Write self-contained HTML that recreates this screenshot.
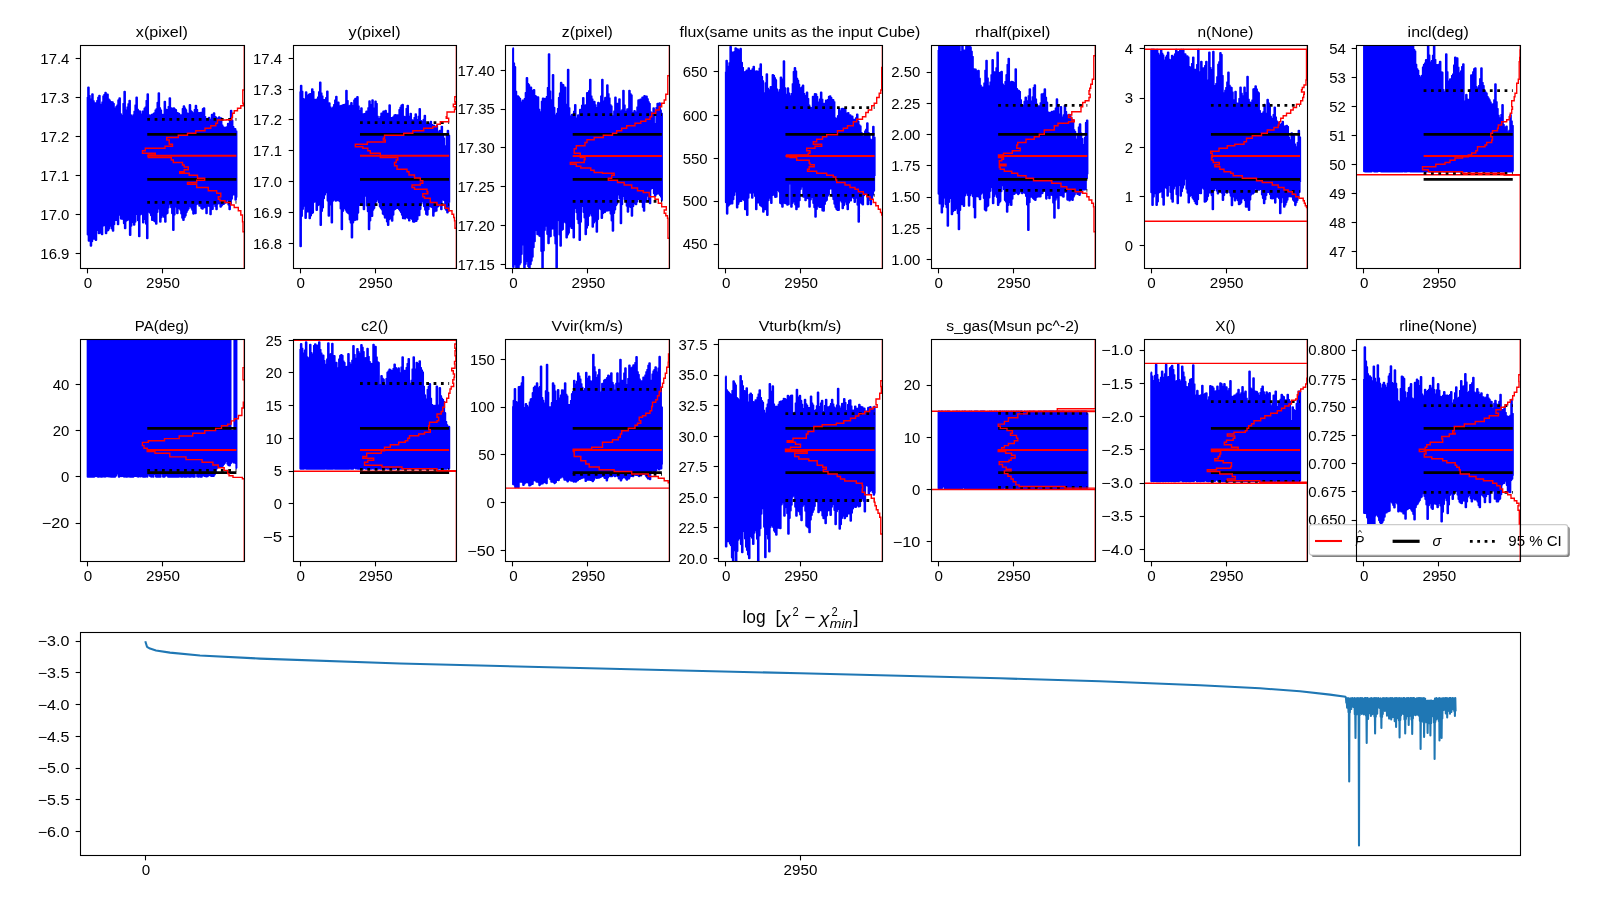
<!DOCTYPE html>
<html><head><meta charset="utf-8"><title>MCMC chains</title>
<style>html,body{margin:0;padding:0;background:#fff;}svg{display:block;will-change:transform;}</style></head>
<body>
<svg width="1600" height="900" viewBox="0 0 1600 900" font-family="'Liberation Sans', sans-serif" fill="#000">
<rect width="1600" height="900" fill="#fff"/>
<clipPath id="c0"><rect x="80.5" y="45.5" width="164.0" height="223.0"/></clipPath>
<g clip-path="url(#c0)">
<path d="M87.2,97.0 87.7,97.0 87.7,234.4 88.2,234.4 88.2,87.5 88.7,87.5 88.7,240.7 89.2,240.7 89.2,95.9 89.7,95.9 89.7,240.3 90.2,240.3 90.2,99.3 90.7,99.3 90.7,245.8 91.2,245.8 91.2,99.2 91.7,99.2 91.7,241.3 92.2,241.3 92.2,94.3 92.7,94.3 92.7,238.8 93.2,238.8 93.2,101.1 93.7,101.1 93.7,238.7 94.2,238.7 94.2,103.3 94.7,103.3 94.7,238.6 95.2,238.6 95.2,103.4 95.7,103.4 95.7,240.0 96.2,240.0 96.2,103.1 96.7,103.1 96.7,229.9 97.2,229.9 97.2,100.9 97.7,100.9 97.7,227.7 98.2,227.7 98.2,97.5 98.7,97.5 98.7,233.3 99.2,233.3 99.2,95.8 99.7,95.8 99.7,231.8 100.2,231.8 100.3,104.7 100.8,104.7 100.8,232.8 101.3,232.8 101.3,105.3 101.8,105.3 101.8,234.3 102.3,234.3 102.3,102.4 102.8,102.4 102.8,225.6 103.3,225.6 103.3,96.3 103.8,96.3 103.8,221.4 104.3,221.4 104.3,94.8 104.8,94.8 104.8,225.2 105.3,225.2 105.3,92.9 105.8,92.9 105.8,233.3 106.3,233.3 106.3,94.2 106.8,94.2 106.8,230.6 107.3,230.6 107.3,94.6 107.8,94.6 107.8,230.3 108.3,230.3 108.3,99.2 108.8,99.2 108.8,228.4 109.3,228.4 109.3,100.4 109.8,100.4 109.8,225.3 110.3,225.3 110.3,101.8 110.8,101.8 110.8,225.7 111.3,225.7 111.3,102.2 111.8,102.2 111.8,228.4 112.3,228.4 112.3,102.4 112.8,102.4 112.8,230.7 113.3,230.7 113.3,103.7 113.8,103.7 113.8,224.2 114.3,224.2 114.3,108.9 114.8,108.9 114.8,216.3 115.3,216.3 115.3,108.2 115.8,108.2 115.8,219.9 116.3,219.9 116.3,106.8 116.8,106.8 116.8,219.7 117.3,219.7 117.3,105.3 117.8,105.3 117.8,224.2 118.3,224.2 118.3,100.3 118.8,100.3 118.8,214.7 119.3,214.7 119.4,98.3 119.9,98.3 119.9,212.5 120.4,212.5 120.4,114.1 120.9,114.1 120.9,218.6 121.4,218.6 121.4,119.1 121.9,119.1 121.9,218.8 122.4,218.8 122.4,115.6 122.9,115.6 122.9,218.9 123.4,218.9 123.4,103.7 123.9,103.7 123.9,223.2 124.4,223.2 124.4,91.7 124.9,91.7 124.9,228.3 125.4,228.3 125.4,110.9 125.9,110.9 125.9,220.7 126.4,220.7 126.4,110.3 126.9,110.3 126.9,219.9 127.4,219.9 127.4,107.3 127.9,107.3 127.9,217.7 128.4,217.7 128.4,104.1 128.9,104.1 128.9,219.6 129.4,219.6 129.4,100.8 129.9,100.8 129.9,235.0 130.4,235.0 130.4,115.0 130.9,115.0 130.9,225.7 131.4,225.7 131.4,117.9 131.9,117.9 131.9,221.9 132.4,221.9 132.4,116.2 132.9,116.2 132.9,221.3 133.4,221.3 133.4,115.1 133.9,115.1 133.9,224.8 134.4,224.8 134.4,111.5 134.9,111.5 134.9,221.8 135.4,221.8 135.4,105.4 135.9,105.4 135.9,214.0 136.4,214.0 136.4,97.5 136.9,97.5 136.9,214.0 137.4,214.0 137.4,109.5 137.9,109.5 137.9,220.2 138.4,220.2 138.5,111.8 139.0,111.8 139.0,236.3 139.5,236.3 139.5,111.2 140.0,111.2 140.0,214.4 140.5,214.4 140.5,114.4 141.0,114.4 141.0,212.8 141.5,212.8 141.5,115.3 142.0,115.3 142.0,213.7 142.5,213.7 142.5,111.6 143.0,111.6 143.0,222.5 143.5,222.5 143.5,113.0 144.0,113.0 144.0,218.4 144.5,218.4 144.5,108.5 145.0,108.5 145.0,218.9 145.5,218.9 145.5,107.2 146.0,107.2 146.0,223.8 146.5,223.8 146.5,100.7 147.0,100.7 147.0,238.3 147.5,238.3 147.5,94.2 148.0,94.2 148.0,211.7 148.5,211.7 148.5,115.0 149.0,115.0 149.0,210.1 149.5,210.1 149.5,115.7 150.0,115.7 150.0,212.8 150.5,212.8 150.5,117.6 151.0,117.6 151.0,215.3 151.5,215.3 151.5,114.9 152.0,114.9 152.0,220.0 152.5,220.0 152.5,115.3 153.0,115.3 153.0,219.1 153.5,219.1 153.5,113.9 154.0,113.9 154.0,220.8 154.5,220.8 154.5,113.0 155.0,113.0 155.0,221.4 155.5,221.4 155.5,110.2 156.0,110.2 156.0,223.8 156.5,223.8 156.5,109.1 157.0,109.1 157.0,211.9 157.5,211.9 157.5,102.8 158.0,102.8 158.0,205.9 158.5,205.9 158.6,93.2 159.1,93.2 159.1,208.4 159.6,208.4 159.6,108.1 160.1,108.1 160.1,221.7 160.6,221.7 160.6,110.3 161.1,110.3 161.1,217.3 161.6,217.3 161.6,115.0 162.1,115.0 162.1,215.5 162.6,215.5 162.6,114.8 163.1,114.8 163.1,214.3 163.6,214.3 163.6,115.2 164.1,115.2 164.1,217.0 164.6,217.0 164.6,101.7 165.1,101.7 165.1,221.7 165.6,221.7 165.6,109.5 166.1,109.5 166.1,213.8 166.6,213.8 166.6,113.4 167.1,113.4 167.1,213.0 167.6,213.0 167.6,109.8 168.1,109.8 168.1,207.6 168.6,207.6 168.6,106.7 169.1,106.7 169.1,204.2 169.6,204.2 169.6,98.3 170.1,98.3 170.1,203.7 170.6,203.7 170.6,108.1 171.1,108.1 171.1,207.2 171.6,207.2 171.6,110.5 172.1,110.5 172.1,213.2 172.6,213.2 172.6,108.5 173.1,108.5 173.1,230.0 173.6,230.0 173.6,108.3 174.1,108.3 174.1,214.6 174.6,214.6 174.6,109.2 175.1,109.2 175.1,204.9 175.6,204.9 175.6,110.0 176.1,110.0 176.1,206.6 176.6,206.6 176.6,112.8 177.1,112.8 177.1,213.3 177.6,213.3 177.7,113.2 178.2,113.2 178.2,208.1 178.7,208.1 178.7,113.7 179.2,113.7 179.2,206.1 179.7,206.1 179.7,119.0 180.2,119.0 180.2,209.6 180.7,209.6 180.7,115.3 181.2,115.3 181.2,213.4 181.7,213.4 181.7,115.0 182.2,115.0 182.2,217.8 182.7,217.8 182.7,108.9 183.2,108.9 183.2,220.0 183.7,220.0 183.7,106.2 184.2,106.2 184.2,217.2 184.7,217.2 184.7,108.3 185.2,108.3 185.2,215.4 185.7,215.4 185.7,110.1 186.2,110.1 186.2,212.1 186.7,212.1 186.7,113.2 187.2,113.2 187.2,210.1 187.7,210.1 187.7,116.1 188.2,116.1 188.2,208.4 188.7,208.4 188.7,113.6 189.2,113.6 189.2,204.7 189.7,204.7 189.7,105.1 190.2,105.1 190.2,205.9 190.7,205.9 190.7,111.0 191.2,111.0 191.2,207.8 191.7,207.8 191.7,112.1 192.2,112.1 192.2,209.8 192.7,209.8 192.7,115.1 193.2,115.1 193.2,213.6 193.7,213.6 193.7,113.1 194.2,113.1 194.2,212.7 194.7,212.7 194.7,109.7 195.2,109.7 195.2,213.3 195.7,213.3 195.7,105.8 196.2,105.8 196.2,204.2 196.7,204.2 196.7,109.8 197.2,109.8 197.2,200.8 197.7,200.8 197.8,113.5 198.3,113.5 198.3,203.5 198.8,203.5 198.8,113.1 199.3,113.1 199.3,205.7 199.8,205.7 199.8,113.4 200.3,113.4 200.3,204.8 200.8,204.8 200.8,112.9 201.3,112.9 201.3,208.1 201.8,208.1 201.8,113.8 202.3,113.8 202.3,208.8 202.8,208.8 202.8,109.1 203.3,109.1 203.3,207.2 203.8,207.2 203.8,108.3 204.3,108.3 204.3,203.7 204.8,203.7 204.8,116.7 205.3,116.7 205.3,207.3 205.8,207.3 205.8,119.4 206.3,119.4 206.3,213.3 206.8,213.3 206.8,119.0 207.3,119.0 207.3,205.8 207.8,205.8 207.8,118.9 208.3,118.9 208.3,204.4 208.8,204.4 208.8,117.9 209.3,117.9 209.3,205.9 209.8,205.9 209.8,120.1 210.3,120.1 210.3,214.2 210.8,214.2 210.8,119.6 211.3,119.6 211.3,209.3 211.8,209.3 211.8,114.8 212.3,114.8 212.3,208.9 212.8,208.9 212.8,117.1 213.3,117.1 213.3,204.0 213.8,204.0 213.8,113.3 214.3,113.3 214.3,203.3 214.8,203.3 214.8,116.7 215.3,116.7 215.3,206.2 215.8,206.2 215.8,117.6 216.3,117.6 216.3,209.2 216.8,209.2 216.9,118.8 217.4,118.8 217.4,203.6 217.9,203.6 217.9,119.0 218.4,119.0 218.4,203.0 218.9,203.0 218.9,117.3 219.4,117.3 219.4,203.2 219.9,203.2 219.9,119.2 220.4,119.2 220.4,206.7 220.9,206.7 220.9,118.3 221.4,118.3 221.4,205.4 221.9,205.4 221.9,125.3 222.4,125.3 222.4,204.2 222.9,204.2 222.9,127.0 223.4,127.0 223.4,204.0 223.9,204.0 223.9,128.1 224.4,128.1 224.4,202.6 224.9,202.6 224.9,127.8 225.4,127.8 225.4,202.6 225.9,202.6 225.9,127.6 226.4,127.6 226.4,199.5 226.9,199.5 226.9,127.1 227.4,127.1 227.4,198.4 227.9,198.4 227.9,123.9 228.4,123.9 228.4,204.6 228.9,204.6 228.9,123.7 229.4,123.7 229.4,209.2 229.9,209.2 229.9,119.6 230.4,119.6 230.4,204.0 230.9,204.0 230.9,110.7 231.4,110.7 231.4,198.7 231.9,198.7 231.9,120.6 232.4,120.6 232.4,194.5 232.9,194.5 232.9,126.9 233.4,126.9 233.4,191.9 233.9,191.9 233.9,129.4 234.4,129.4 234.4,194.4 234.9,194.4 234.9,129.1 235.4,129.1 235.4,199.8 235.9,199.8 235.9,131.2 236.4,131.2 236.4,197.6 236.9,197.6" fill="none" stroke="#0000ff" stroke-width="2.08" stroke-linejoin="round" stroke-linecap="butt"/>
<line x1="147.25" x2="236.40" y1="119.36" y2="119.36" stroke="#000" stroke-width="2.78" stroke-dasharray="2.78 4.58"/>
<line x1="147.25" x2="236.40" y1="202.46" y2="202.46" stroke="#000" stroke-width="2.78" stroke-dasharray="2.78 4.58"/>
<line x1="147.25" x2="236.40" y1="134.42" y2="134.42" stroke="#000" stroke-width="2.78"/>
<line x1="147.25" x2="236.40" y1="179.33" y2="179.33" stroke="#000" stroke-width="2.78"/>
<line x1="147.25" x2="236.40" y1="155.67" y2="155.67" stroke="#ff0000" stroke-width="2.08"/>
</g>
<line x1="75.64" x2="80.5" y1="58.5" y2="58.5" stroke="#000" stroke-width="1.1"/>
<text x="69.40" y="63.62" text-anchor="end" font-size="13.89" textLength="29.07" lengthAdjust="spacingAndGlyphs">17.4</text>
<line x1="75.64" x2="80.5" y1="97.5" y2="97.5" stroke="#000" stroke-width="1.1"/>
<text x="69.40" y="102.61" text-anchor="end" font-size="13.89" textLength="29.07" lengthAdjust="spacingAndGlyphs">17.3</text>
<line x1="75.64" x2="80.5" y1="136.5" y2="136.5" stroke="#000" stroke-width="1.1"/>
<text x="69.40" y="141.61" text-anchor="end" font-size="13.89" textLength="29.07" lengthAdjust="spacingAndGlyphs">17.2</text>
<line x1="75.64" x2="80.5" y1="175.5" y2="175.5" stroke="#000" stroke-width="1.1"/>
<text x="69.40" y="180.60" text-anchor="end" font-size="13.89" textLength="29.07" lengthAdjust="spacingAndGlyphs">17.1</text>
<line x1="75.64" x2="80.5" y1="214.5" y2="214.5" stroke="#000" stroke-width="1.1"/>
<text x="69.40" y="219.59" text-anchor="end" font-size="13.89" textLength="29.07" lengthAdjust="spacingAndGlyphs">17.0</text>
<line x1="75.64" x2="80.5" y1="253.5" y2="253.5" stroke="#000" stroke-width="1.1"/>
<text x="69.40" y="258.59" text-anchor="end" font-size="13.89" textLength="29.07" lengthAdjust="spacingAndGlyphs">16.9</text>
<line x1="87.5" x2="87.5" y1="268.5" y2="273.36" stroke="#000" stroke-width="1.1"/>
<text x="87.94" y="287.65" text-anchor="middle" font-size="13.89" textLength="8.44" lengthAdjust="spacingAndGlyphs">0</text>
<line x1="162.5" x2="162.5" y1="268.5" y2="273.36" stroke="#000" stroke-width="1.1"/>
<text x="163.00" y="287.65" text-anchor="middle" font-size="13.89" textLength="33.76" lengthAdjust="spacingAndGlyphs">2950</text>
<text x="161.82" y="36.67" text-anchor="middle" font-size="13.89" textLength="51.93" lengthAdjust="spacingAndGlyphs">x(pixel)</text>
<g clip-path="url(#c0)">
<path d="M244.3,40.5 244.3,90.0 242.8,90.0 242.8,103.3 243.3,103.3 243.3,105.8 240.8,105.8 240.8,108.3 237.5,108.3 237.5,110.8 234.2,110.8 234.2,113.3 232.5,113.3 232.5,117.5 231.7,117.5 231.7,119.7 226.7,119.7 226.7,120.0 217.5,120.0 217.5,123.3 215.8,123.3 215.8,125.8 210.8,125.8 210.8,128.3 205.0,128.3 205.0,130.8 195.8,130.8 195.8,133.3 187.5,133.3 187.5,135.3 178.3,135.3 178.3,137.5 166.7,137.5 166.7,140.0 169.2,140.0 169.2,144.2 172.5,144.2 172.5,146.3 165.0,146.3 165.0,148.3 145.3,148.3 145.3,150.8 142.5,150.8 142.5,153.3 155.3,153.3 155.3,155.0 148.3,155.0 148.3,157.5 171.3,157.5 171.3,160.0 173.3,160.0 173.3,162.5 182.5,162.5 182.5,165.0 184.2,165.0 184.2,167.0 188.3,167.0 188.3,169.7 184.2,169.7 184.2,171.7 179.7,171.7 179.7,173.3 189.2,173.3 189.2,175.3 197.5,175.3 197.5,178.3 204.7,178.3 204.7,180.3 196.7,180.3 196.7,182.5 187.5,182.5 187.5,184.2 196.7,184.2 196.7,187.5 208.3,187.5 208.3,190.8 216.7,190.8 216.7,193.3 220.8,193.3 220.8,196.7 218.3,196.7 218.3,199.2 220.0,199.2 220.0,200.8 225.0,200.8 225.0,202.5 230.8,202.5 230.8,205.0 234.2,205.0 234.2,207.5 238.3,207.5 238.3,210.8 240.8,210.8 240.8,215.0 242.5,215.0 242.5,221.7 243.0,221.7 243.0,231.7 244.3,231.7 244.3,273.5" fill="none" stroke="#ff0000" stroke-width="1.39" stroke-linejoin="miter"/>
</g>
<rect x="80.5" y="45.5" width="164.0" height="223.0" fill="none" stroke="#000" stroke-width="1.1"/>
<clipPath id="c1"><rect x="293.5" y="45.5" width="163.0" height="223.0"/></clipPath>
<g clip-path="url(#c1)">
<path d="M299.9,91.6 300.4,91.6 300.4,246.3 300.9,246.3 300.9,85.8 301.4,85.8 301.4,216.0 301.9,216.0 301.9,91.6 302.4,91.6 302.4,209.0 302.9,209.0 302.9,98.8 303.4,98.8 303.4,202.8 303.9,202.8 303.9,99.6 304.4,99.6 304.4,205.8 304.9,205.8 304.9,99.5 305.4,99.5 305.4,218.0 305.9,218.0 305.9,92.4 306.4,92.4 306.4,210.8 306.9,210.8 307.0,95.6 307.5,95.6 307.5,211.5 308.0,211.5 308.0,96.7 308.5,96.7 308.5,211.5 309.0,211.5 309.0,94.6 309.5,94.6 309.5,218.3 310.0,218.3 310.0,94.0 310.5,94.0 310.5,215.4 311.0,215.4 311.0,94.9 311.5,94.9 311.5,213.3 312.0,213.3 312.0,89.3 312.5,89.3 312.5,212.6 313.0,212.6 313.0,91.7 313.5,91.7 313.5,201.9 314.0,201.9 314.0,103.9 314.5,103.9 314.5,200.3 315.0,200.3 315.0,99.8 315.5,99.8 315.5,201.4 316.0,201.4 316.0,101.1 316.5,101.1 316.5,210.0 317.0,210.0 317.0,99.3 317.5,99.3 317.5,205.3 318.0,205.3 318.0,97.4 318.5,97.4 318.5,200.1 319.0,200.1 319.0,92.0 319.5,92.0 319.5,204.5 320.0,204.5 320.0,82.5 320.5,82.5 320.5,225.0 321.0,225.0 321.0,93.2 321.5,93.2 321.5,211.0 322.0,211.0 322.0,96.3 322.5,96.3 322.5,207.4 323.0,207.4 323.0,99.7 323.5,99.7 323.5,198.2 324.0,198.2 324.0,100.0 324.5,100.0 324.5,194.6 325.0,194.6 325.0,100.7 325.5,100.7 325.5,192.2 326.0,192.2 326.0,98.0 326.5,98.0 326.5,191.0 327.0,191.0 327.1,91.5 327.6,91.5 327.6,200.6 328.1,200.6 328.1,103.2 328.6,103.2 328.6,215.8 329.1,215.8 329.1,103.2 329.6,103.2 329.6,201.1 330.1,201.1 330.1,107.3 330.6,107.3 330.6,204.5 331.1,204.5 331.1,108.5 331.6,108.5 331.6,222.5 332.1,222.5 332.1,108.8 332.6,108.8 332.6,200.8 333.1,200.8 333.1,107.4 333.6,107.4 333.6,197.0 334.1,197.0 334.1,104.7 334.6,104.7 334.6,199.4 335.1,199.4 335.1,100.2 335.6,100.2 335.6,200.8 336.1,200.8 336.1,96.7 336.6,96.7 336.6,200.1 337.1,200.1 337.1,102.8 337.6,102.8 337.6,200.3 338.1,200.3 338.1,102.6 338.6,102.6 338.6,199.0 339.1,199.0 339.1,106.1 339.6,106.1 339.6,201.2 340.1,201.2 340.1,106.6 340.6,106.6 340.6,208.4 341.1,208.4 341.1,105.7 341.6,105.7 341.6,229.2 342.1,229.2 342.1,107.7 342.6,107.7 342.6,210.9 343.1,210.9 343.1,105.1 343.6,105.1 343.6,207.9 344.1,207.9 344.1,106.1 344.6,106.1 344.6,207.0 345.1,207.0 345.1,104.5 345.6,104.5 345.6,209.7 346.1,209.7 346.2,90.8 346.7,90.8 346.7,211.8 347.2,211.8 347.2,100.9 347.7,100.9 347.7,212.7 348.2,212.7 348.2,106.3 348.7,106.3 348.7,213.5 349.2,213.5 349.2,106.4 349.7,106.4 349.7,219.4 350.2,219.4 350.2,105.5 350.7,105.5 350.7,222.6 351.2,222.6 351.2,103.0 351.7,103.0 351.7,237.5 352.2,237.5 352.2,105.9 352.7,105.9 352.7,222.4 353.2,222.4 353.2,106.5 353.7,106.5 353.7,220.3 354.2,220.3 354.2,100.3 354.7,100.3 354.7,219.9 355.2,219.9 355.2,98.9 355.7,98.9 355.7,219.5 356.2,219.5 356.2,98.6 356.7,98.6 356.7,219.4 357.2,219.4 357.2,97.0 357.7,97.0 357.7,212.7 358.2,212.7 358.2,106.2 358.7,106.2 358.7,203.6 359.2,203.6 359.2,110.9 359.7,110.9 359.7,204.9 360.2,204.9 360.2,111.3 360.7,111.3 360.7,202.2 361.2,202.2 361.2,108.3 361.7,108.3 361.7,203.4 362.2,203.4 362.2,114.3 362.7,114.3 362.7,205.1 363.2,205.1 363.2,114.3 363.7,114.3 363.7,209.2 364.2,209.2 364.2,114.1 364.7,114.1 364.7,192.9 365.2,192.9 365.2,113.9 365.7,113.9 365.7,195.6 366.2,195.6 366.3,111.5 366.8,111.5 366.8,205.5 367.3,205.5 367.3,112.7 367.8,112.7 367.8,211.3 368.3,211.3 368.3,108.1 368.8,108.1 368.8,229.2 369.3,229.2 369.3,101.4 369.8,101.4 369.8,220.5 370.3,220.5 370.3,104.9 370.8,104.9 370.8,215.7 371.3,215.7 371.3,105.1 371.8,105.1 371.8,216.0 372.3,216.0 372.3,100.3 372.8,100.3 372.8,209.8 373.3,209.8 373.3,108.3 373.8,108.3 373.8,208.0 374.3,208.0 374.3,110.4 374.8,110.4 374.8,203.3 375.3,203.3 375.3,101.6 375.8,101.6 375.8,201.5 376.3,201.5 376.3,103.7 376.8,103.7 376.8,199.4 377.3,199.4 377.3,116.5 377.8,116.5 377.8,199.2 378.3,199.2 378.3,119.8 378.8,119.8 378.8,202.3 379.3,202.3 379.3,118.7 379.8,118.7 379.8,206.4 380.3,206.4 380.3,116.7 380.8,116.7 380.8,208.0 381.3,208.0 381.3,113.5 381.8,113.5 381.8,209.5 382.3,209.5 382.3,113.3 382.8,113.3 382.8,213.7 383.3,213.7 383.3,111.6 383.8,111.6 383.8,214.4 384.3,214.4 384.3,113.9 384.8,113.9 384.8,217.6 385.3,217.6 385.4,110.8 385.9,110.8 385.9,217.3 386.4,217.3 386.4,114.0 386.9,114.0 386.9,221.4 387.4,221.4 387.4,113.8 387.9,113.8 387.9,225.0 388.4,225.0 388.4,113.6 388.9,113.6 388.9,219.3 389.4,219.3 389.4,105.3 389.9,105.3 389.9,217.9 390.4,217.9 390.4,117.7 390.9,117.7 390.9,218.2 391.4,218.2 391.4,118.4 391.9,118.4 391.9,220.8 392.4,220.8 392.4,117.8 392.9,117.8 392.9,214.7 393.4,214.7 393.4,117.1 393.9,117.1 393.9,209.6 394.4,209.6 394.4,115.3 394.9,115.3 394.9,208.9 395.4,208.9 395.4,115.0 395.9,115.0 395.9,205.8 396.4,205.8 396.4,117.6 396.9,117.6 396.9,208.0 397.4,208.0 397.4,115.3 397.9,115.3 397.9,206.3 398.4,206.3 398.4,119.3 398.9,119.3 398.9,209.1 399.4,209.1 399.4,109.9 399.9,109.9 399.9,210.4 400.4,210.4 400.4,107.5 400.9,107.5 400.9,212.1 401.4,212.1 401.4,105.6 401.9,105.6 401.9,214.7 402.4,214.7 402.4,104.7 402.9,104.7 402.9,218.3 403.4,218.3 403.4,116.5 403.9,116.5 403.9,216.0 404.4,216.0 404.4,117.0 404.9,117.0 404.9,218.4 405.4,218.4 405.5,117.1 406.0,117.1 406.0,217.0 406.5,217.0 406.5,108.8 407.0,108.8 407.0,215.9 407.5,215.9 407.5,105.8 408.0,105.8 408.0,217.9 408.5,217.9 408.5,116.5 409.0,116.5 409.0,220.4 409.5,220.4 409.5,120.6 410.0,120.6 410.0,217.4 410.5,217.4 410.5,113.8 411.0,113.8 411.0,218.0 411.5,218.0 411.5,120.0 412.0,120.0 412.0,219.0 412.5,219.0 412.5,120.5 413.0,120.5 413.0,221.6 413.5,221.6 413.5,121.3 414.0,121.3 414.0,221.7 414.5,221.7 414.5,117.8 415.0,117.8 415.0,219.0 415.5,219.0 415.5,114.2 416.0,114.2 416.0,221.0 416.5,221.0 416.5,119.8 417.0,119.8 417.0,219.3 417.5,219.3 417.5,120.1 418.0,120.1 418.0,214.6 418.5,214.6 418.5,116.5 419.0,116.5 419.0,215.3 419.5,215.3 419.5,109.0 420.0,109.0 420.0,209.1 420.5,209.1 420.5,120.8 421.0,120.8 421.0,203.4 421.5,203.4 421.5,123.2 422.0,123.2 422.0,200.9 422.5,200.9 422.5,121.5 423.0,121.5 423.0,201.3 423.5,201.3 423.5,119.7 424.0,119.7 424.0,206.3 424.5,206.3 424.6,115.8 425.1,115.8 425.1,209.8 425.6,209.8 425.6,124.6 426.1,124.6 426.1,214.1 426.6,214.1 426.6,126.3 427.1,126.3 427.1,214.8 427.6,214.8 427.6,123.9 428.1,123.9 428.1,209.2 428.6,209.2 428.6,123.9 429.1,123.9 429.1,205.9 429.6,205.9 429.6,123.7 430.1,123.7 430.1,204.4 430.6,204.4 430.6,121.7 431.1,121.7 431.1,206.7 431.6,206.7 431.6,124.8 432.1,124.8 432.1,207.3 432.6,207.3 432.6,125.8 433.1,125.8 433.1,215.8 433.6,215.8 433.6,125.6 434.1,125.6 434.1,211.5 434.6,211.5 434.6,127.7 435.1,127.7 435.1,210.0 435.6,210.0 435.6,129.2 436.1,129.2 436.1,210.7 436.6,210.7 436.6,125.7 437.1,125.7 437.1,206.7 437.6,206.7 437.6,132.0 438.1,132.0 438.1,206.1 438.6,206.1 438.6,133.2 439.1,133.2 439.1,204.5 439.6,204.5 439.6,130.7 440.1,130.7 440.1,204.7 440.6,204.7 440.6,131.5 441.1,131.5 441.1,209.2 441.6,209.2 441.6,126.7 442.1,126.7 442.1,199.4 442.6,199.4 442.6,134.0 443.1,134.0 443.1,196.8 443.6,196.8 443.6,138.3 444.1,138.3 444.1,200.3 444.6,200.3 444.7,146.2 445.2,146.2 445.2,208.6 445.7,208.6 445.7,151.9 446.2,151.9 446.2,210.0 446.7,210.0 446.7,135.5 447.2,135.5 447.2,212.5 447.7,212.5 447.7,130.8 448.2,130.8 448.2,210.9 448.7,210.9 448.7,135.5 449.2,135.5 449.2,202.4 449.7,202.4" fill="none" stroke="#0000ff" stroke-width="2.08" stroke-linejoin="round" stroke-linecap="butt"/>
<line x1="359.98" x2="449.13" y1="122.59" y2="122.59" stroke="#000" stroke-width="2.78" stroke-dasharray="2.78 4.58"/>
<line x1="359.98" x2="449.13" y1="204.61" y2="204.61" stroke="#000" stroke-width="2.78" stroke-dasharray="2.78 4.58"/>
<line x1="359.98" x2="449.13" y1="134.42" y2="134.42" stroke="#000" stroke-width="2.78"/>
<line x1="359.98" x2="449.13" y1="179.33" y2="179.33" stroke="#000" stroke-width="2.78"/>
<line x1="359.98" x2="449.13" y1="155.67" y2="155.67" stroke="#ff0000" stroke-width="2.08"/>
</g>
<line x1="288.64" x2="293.5" y1="58.5" y2="58.5" stroke="#000" stroke-width="1.1"/>
<text x="282.13" y="63.62" text-anchor="end" font-size="13.89" textLength="29.07" lengthAdjust="spacingAndGlyphs">17.4</text>
<line x1="288.64" x2="293.5" y1="89.5" y2="89.5" stroke="#000" stroke-width="1.1"/>
<text x="282.13" y="94.55" text-anchor="end" font-size="13.89" textLength="29.07" lengthAdjust="spacingAndGlyphs">17.3</text>
<line x1="288.64" x2="293.5" y1="119.5" y2="119.5" stroke="#000" stroke-width="1.1"/>
<text x="282.13" y="124.93" text-anchor="end" font-size="13.89" textLength="29.07" lengthAdjust="spacingAndGlyphs">17.2</text>
<line x1="288.64" x2="293.5" y1="150.5" y2="150.5" stroke="#000" stroke-width="1.1"/>
<text x="282.13" y="155.86" text-anchor="end" font-size="13.89" textLength="29.07" lengthAdjust="spacingAndGlyphs">17.1</text>
<line x1="288.64" x2="293.5" y1="181.5" y2="181.5" stroke="#000" stroke-width="1.1"/>
<text x="282.13" y="186.78" text-anchor="end" font-size="13.89" textLength="29.07" lengthAdjust="spacingAndGlyphs">17.0</text>
<line x1="288.64" x2="293.5" y1="212.5" y2="212.5" stroke="#000" stroke-width="1.1"/>
<text x="282.13" y="217.71" text-anchor="end" font-size="13.89" textLength="29.07" lengthAdjust="spacingAndGlyphs">16.9</text>
<line x1="288.64" x2="293.5" y1="243.5" y2="243.5" stroke="#000" stroke-width="1.1"/>
<text x="282.13" y="248.64" text-anchor="end" font-size="13.89" textLength="29.07" lengthAdjust="spacingAndGlyphs">16.8</text>
<line x1="300.5" x2="300.5" y1="268.5" y2="273.36" stroke="#000" stroke-width="1.1"/>
<text x="300.67" y="287.65" text-anchor="middle" font-size="13.89" textLength="8.44" lengthAdjust="spacingAndGlyphs">0</text>
<line x1="375.5" x2="375.5" y1="268.5" y2="273.36" stroke="#000" stroke-width="1.1"/>
<text x="375.73" y="287.65" text-anchor="middle" font-size="13.89" textLength="33.76" lengthAdjust="spacingAndGlyphs">2950</text>
<text x="374.55" y="36.67" text-anchor="middle" font-size="13.89" textLength="51.93" lengthAdjust="spacingAndGlyphs">y(pixel)</text>
<g clip-path="url(#c1)">
<path d="M456.4,40.5 456.4,96.7 454.8,96.7 454.8,101.7 455.3,101.7 455.3,104.2 453.3,104.2 453.3,106.7 455.3,106.7 455.3,109.2 454.5,109.2 454.5,112.0 447.0,112.0 447.0,116.7 446.2,116.7 446.2,118.3 448.7,118.3 448.7,121.7 440.3,121.7 440.3,124.2 437.0,124.2 437.0,126.7 432.8,126.7 432.8,128.3 423.7,128.3 423.7,130.8 412.8,130.8 412.8,133.3 403.7,133.3 403.7,135.3 384.5,135.3 384.5,138.3 383.3,138.3 383.3,140.0 385.3,140.0 385.3,142.0 367.3,142.0 367.3,144.2 355.3,144.2 355.3,146.7 362.8,146.7 362.8,148.3 367.8,148.3 367.8,150.8 370.3,150.8 370.3,153.3 380.3,153.3 380.3,157.5 397.8,157.5 397.8,160.0 396.2,160.0 396.2,162.5 394.5,162.5 394.5,165.8 397.0,165.8 397.0,169.2 407.0,169.2 407.0,171.7 409.0,171.7 409.0,175.0 414.5,175.0 414.5,178.0 420.3,178.0 420.3,180.8 422.8,180.8 422.8,183.3 420.3,183.3 420.3,185.0 412.0,185.0 412.0,187.5 414.5,187.5 414.5,189.2 427.0,189.2 427.0,191.7 427.8,191.7 427.8,193.7 422.8,193.7 422.8,196.7 424.5,196.7 424.5,198.3 430.3,198.3 430.3,202.5 437.0,202.5 437.0,205.0 445.3,205.0 445.3,208.3 448.7,208.3 448.7,210.8 452.0,210.8 452.0,214.2 453.7,214.2 453.7,217.5 454.5,217.5 454.5,220.8 455.0,220.8 455.0,228.3 456.4,228.3 456.4,273.5" fill="none" stroke="#ff0000" stroke-width="1.39" stroke-linejoin="miter"/>
</g>
<rect x="293.5" y="45.5" width="163.0" height="223.0" fill="none" stroke="#000" stroke-width="1.1"/>
<clipPath id="c2"><rect x="505.5" y="45.5" width="164.0" height="223.0"/></clipPath>
<g clip-path="url(#c2)">
<path d="M512.6,48.3 513.1,48.3 513.1,267.0 513.6,267.0 513.6,63.2 514.1,63.2 514.1,261.6 514.6,261.6 514.7,67.0 515.2,67.0 515.2,264.3 515.7,264.3 515.7,91.5 516.2,91.5 516.2,272.5 516.7,272.5 516.7,97.7 517.2,97.7 517.2,272.5 517.7,272.5 517.7,96.2 518.2,96.2 518.2,272.5 518.7,272.5 518.7,97.2 519.2,97.2 519.2,264.5 519.7,264.5 519.7,98.8 520.2,98.8 520.2,262.6 520.7,262.6 520.7,102.2 521.2,102.2 521.2,254.0 521.7,254.0 521.7,103.4 522.2,103.4 522.2,244.4 522.7,244.4 522.7,100.6 523.2,100.6 523.2,243.2 523.7,243.2 523.7,101.1 524.2,101.1 524.2,272.5 524.7,272.5 524.7,98.7 525.2,98.7 525.2,264.0 525.7,264.0 525.7,92.9 526.2,92.9 526.2,260.9 526.7,260.9 526.7,78.0 527.2,78.0 527.2,258.3 527.7,258.3 527.7,83.7 528.2,83.7 528.2,266.2 528.7,266.2 528.7,85.0 529.2,85.0 529.2,272.5 529.7,272.5 529.7,88.8 530.2,88.8 530.2,264.2 530.7,264.2 530.7,87.5 531.2,87.5 531.2,260.7 531.7,260.7 531.7,90.8 532.2,90.8 532.2,256.8 532.7,256.8 532.7,90.9 533.2,90.9 533.2,247.3 533.7,247.3 533.8,90.0 534.3,90.0 534.3,241.3 534.8,241.3 534.8,95.7 535.3,95.7 535.3,230.0 535.8,230.0 535.8,96.5 536.3,96.5 536.3,228.4 536.8,228.4 536.8,97.8 537.3,97.8 537.3,234.3 537.8,234.3 537.8,97.4 538.3,97.4 538.3,234.2 538.8,234.2 538.8,109.5 539.3,109.5 539.3,235.8 539.8,235.8 539.8,116.1 540.3,116.1 540.3,236.3 540.8,236.3 540.8,112.1 541.3,112.1 541.3,250.9 541.8,250.9 541.8,101.5 542.3,101.5 542.3,272.5 542.8,272.5 542.8,98.5 543.3,98.5 543.3,250.5 543.8,250.5 543.8,100.3 544.3,100.3 544.3,230.0 544.8,230.0 544.8,98.8 545.3,98.8 545.3,218.4 545.8,218.4 545.8,99.7 546.3,99.7 546.3,225.8 546.8,225.8 546.8,96.8 547.3,96.8 547.3,233.9 547.8,233.9 547.8,87.8 548.3,87.8 548.3,243.3 548.8,243.3 548.8,54.2 549.3,54.2 549.3,236.5 549.8,236.5 549.8,91.3 550.3,91.3 550.3,236.2 550.8,236.2 550.8,100.9 551.3,100.9 551.3,228.8 551.8,228.8 551.8,100.1 552.3,100.1 552.3,227.7 552.8,227.7 552.8,75.0 553.3,75.0 553.3,228.5 553.8,228.5 553.9,107.8 554.4,107.8 554.4,235.6 554.9,235.6 554.9,115.7 555.4,115.7 555.4,243.4 555.9,243.4 555.9,115.3 556.4,115.3 556.4,267.5 556.9,267.5 556.9,113.6 557.4,113.6 557.4,219.4 557.9,219.4 557.9,108.8 558.4,108.8 558.4,220.1 558.9,220.1 558.9,97.7 559.4,97.7 559.4,234.4 559.9,234.4 559.9,93.3 560.4,93.3 560.4,245.8 560.9,245.8 560.9,82.9 561.4,82.9 561.4,229.9 561.9,229.9 561.9,84.5 562.4,84.5 562.4,229.3 562.9,229.3 562.9,85.0 563.4,85.0 563.4,221.6 563.9,221.6 563.9,88.5 564.4,88.5 564.4,219.2 564.9,219.2 564.9,87.6 565.4,87.6 565.4,222.4 565.9,222.4 565.9,104.5 566.4,104.5 566.4,237.5 566.9,237.5 566.9,105.1 567.4,105.1 567.4,234.6 567.9,234.6 567.9,69.7 568.4,69.7 568.4,232.8 568.9,232.8 568.9,108.0 569.4,108.0 569.4,226.3 569.9,226.3 569.9,116.2 570.4,116.2 570.4,224.6 570.9,224.6 570.9,116.3 571.4,116.3 571.4,227.9 571.9,227.9 571.9,114.9 572.4,114.9 572.4,228.1 572.9,228.1 573.0,115.4 573.5,115.4 573.5,237.5 574.0,237.5 574.0,111.5 574.5,111.5 574.5,208.0 575.0,208.0 575.0,105.0 575.5,105.0 575.5,204.0 576.0,204.0 576.0,118.2 576.5,118.2 576.5,212.3 577.0,212.3 577.0,118.3 577.5,118.3 577.5,219.3 578.0,219.3 578.0,115.3 578.5,115.3 578.5,223.3 579.0,223.3 579.0,116.0 579.5,116.0 579.5,240.0 580.0,240.0 580.0,109.7 580.5,109.7 580.5,221.8 581.0,221.8 581.0,110.4 581.5,110.4 581.5,205.8 582.0,205.8 582.0,105.6 582.5,105.6 582.5,206.0 583.0,206.0 583.0,98.0 583.5,98.0 583.5,211.9 584.0,211.9 584.0,105.3 584.5,105.3 584.5,217.5 585.0,217.5 585.0,107.1 585.5,107.1 585.5,234.2 586.0,234.2 586.0,105.1 586.5,105.1 586.5,227.7 587.0,227.7 587.0,93.0 587.5,93.0 587.5,225.3 588.0,225.3 588.0,95.9 588.5,95.9 588.5,216.0 589.0,216.0 589.0,91.0 589.5,91.0 589.5,213.4 590.0,213.4 590.0,79.7 590.5,79.7 590.5,213.2 591.0,213.2 591.0,96.3 591.5,96.3 591.5,215.4 592.0,215.4 592.0,99.2 592.5,99.2 592.5,226.7 593.0,226.7 593.1,103.2 593.6,103.2 593.6,222.4 594.1,222.4 594.1,101.9 594.6,101.9 594.6,220.7 595.1,220.7 595.1,105.1 595.6,105.1 595.6,220.0 596.1,220.0 596.1,107.7 596.6,107.7 596.6,231.7 597.1,231.7 597.1,108.4 597.6,108.4 597.6,219.1 598.1,219.1 598.1,102.8 598.6,102.8 598.6,208.1 599.1,208.1 599.1,104.1 599.6,104.1 599.6,208.3 600.1,208.3 600.1,103.3 600.6,103.3 600.6,209.3 601.1,209.3 601.1,96.2 601.6,96.2 601.6,217.9 602.1,217.9 602.1,79.7 602.6,79.7 602.6,213.2 603.1,213.2 603.1,101.5 603.6,101.5 603.6,211.6 604.1,211.6 604.1,101.2 604.6,101.2 604.6,212.1 605.1,212.1 605.1,97.9 605.6,97.9 605.6,210.0 606.1,210.0 606.1,101.2 606.6,101.2 606.6,210.6 607.1,210.6 607.1,85.3 607.6,85.3 607.6,210.4 608.1,210.4 608.1,94.0 608.6,94.0 608.6,208.1 609.1,208.1 609.1,98.3 609.6,98.3 609.6,210.3 610.1,210.3 610.1,105.0 610.6,105.0 610.6,213.6 611.1,213.6 611.1,106.2 611.6,106.2 611.6,220.4 612.1,220.4 612.2,116.3 612.7,116.3 612.7,230.8 613.2,230.8 613.2,118.7 613.7,118.7 613.7,212.9 614.2,212.9 614.2,111.2 614.7,111.2 614.7,209.4 615.2,209.4 615.2,97.5 615.7,97.5 615.7,205.2 616.2,205.2 616.2,104.0 616.7,104.0 616.7,203.6 617.2,203.6 617.2,103.7 617.7,103.7 617.7,194.5 618.2,194.5 618.2,103.7 618.7,103.7 618.7,194.3 619.2,194.3 619.2,99.2 619.7,99.2 619.7,198.3 620.2,198.3 620.2,111.3 620.7,111.3 620.7,223.3 621.2,223.3 621.2,113.9 621.7,113.9 621.7,204.3 622.2,204.3 622.2,110.0 622.7,110.0 622.7,194.6 623.2,194.6 623.2,90.8 623.7,90.8 623.7,195.9 624.2,195.9 624.2,105.4 624.7,105.4 624.7,199.3 625.2,199.3 625.2,111.6 625.7,111.6 625.7,199.4 626.2,199.4 626.2,112.0 626.7,112.0 626.7,205.7 627.2,205.7 627.2,109.4 627.7,109.4 627.7,211.7 628.2,211.7 628.2,109.1 628.7,109.1 628.7,206.6 629.2,206.6 629.2,90.8 629.7,90.8 629.7,206.4 630.2,206.4 630.2,94.0 630.7,94.0 630.7,207.1 631.2,207.1 631.2,95.3 631.7,95.3 631.7,215.8 632.2,215.8 632.3,113.1 632.8,113.1 632.8,206.1 633.3,206.1 633.3,113.0 633.8,113.0 633.8,203.5 634.3,203.5 634.3,111.0 634.8,111.0 634.8,202.4 635.3,202.4 635.3,112.6 635.8,112.6 635.8,204.2 636.3,204.2 636.3,112.2 636.8,112.2 636.8,201.6 637.3,201.6 637.3,107.2 637.8,107.2 637.8,198.9 638.3,198.9 638.3,100.4 638.8,100.4 638.8,198.7 639.3,198.7 639.3,103.1 639.8,103.1 639.8,199.3 640.3,199.3 640.3,99.5 640.8,99.5 640.8,199.3 641.3,199.3 641.3,100.1 641.8,100.1 641.8,202.0 642.3,202.0 642.3,97.6 642.8,97.6 642.8,206.9 643.3,206.9 643.3,97.8 643.8,97.8 643.8,210.8 644.3,210.8 644.3,96.1 644.8,96.1 644.8,201.8 645.3,201.8 645.3,97.8 645.8,97.8 645.8,201.8 646.3,201.8 646.3,96.6 646.8,96.6 646.8,195.8 647.3,195.8 647.3,99.0 647.8,99.0 647.8,193.3 648.3,193.3 648.3,102.0 648.8,102.0 648.8,199.6 649.3,199.6 649.3,103.7 649.8,103.7 649.8,203.3 650.3,203.3 650.3,112.1 650.8,112.1 650.8,188.6 651.3,188.6 651.4,115.9 651.9,115.9 651.9,186.7 652.4,186.7 652.4,113.0 652.9,113.0 652.9,187.9 653.4,187.9 653.4,108.3 653.9,108.3 653.9,193.2 654.4,193.2 654.4,123.9 654.9,123.9 654.9,196.0 655.4,196.0 655.4,125.8 655.9,125.8 655.9,194.2 656.4,194.2 656.4,107.7 656.9,107.7 656.9,191.5 657.4,191.5 657.4,103.8 657.9,103.8 657.9,193.4 658.4,193.4 658.4,104.8 658.9,104.8 658.9,192.4 659.4,192.4 659.4,103.3 659.9,103.3 659.9,195.1 660.4,195.1 660.4,110.4 660.9,110.4 660.9,196.6 661.4,196.6 661.4,113.5 661.9,113.5 661.9,200.8 662.4,200.8" fill="none" stroke="#0000ff" stroke-width="2.08" stroke-linejoin="round" stroke-linecap="butt"/>
<line x1="572.70" x2="661.85" y1="114.52" y2="114.52" stroke="#000" stroke-width="2.78" stroke-dasharray="2.78 4.58"/>
<line x1="572.70" x2="661.85" y1="201.38" y2="201.38" stroke="#000" stroke-width="2.78" stroke-dasharray="2.78 4.58"/>
<line x1="572.70" x2="661.85" y1="134.42" y2="134.42" stroke="#000" stroke-width="2.78"/>
<line x1="572.70" x2="661.85" y1="179.33" y2="179.33" stroke="#000" stroke-width="2.78"/>
<line x1="572.70" x2="661.85" y1="155.94" y2="155.94" stroke="#ff0000" stroke-width="2.08"/>
</g>
<line x1="500.64" x2="505.5" y1="70.5" y2="70.5" stroke="#000" stroke-width="1.1"/>
<text x="494.85" y="75.72" text-anchor="end" font-size="13.89" textLength="37.38" lengthAdjust="spacingAndGlyphs">17.40</text>
<line x1="500.64" x2="505.5" y1="109.5" y2="109.5" stroke="#000" stroke-width="1.1"/>
<text x="494.85" y="114.45" text-anchor="end" font-size="13.89" textLength="37.38" lengthAdjust="spacingAndGlyphs">17.35</text>
<line x1="500.64" x2="505.5" y1="147.5" y2="147.5" stroke="#000" stroke-width="1.1"/>
<text x="494.85" y="153.17" text-anchor="end" font-size="13.89" textLength="37.38" lengthAdjust="spacingAndGlyphs">17.30</text>
<line x1="500.64" x2="505.5" y1="186.5" y2="186.5" stroke="#000" stroke-width="1.1"/>
<text x="494.85" y="191.89" text-anchor="end" font-size="13.89" textLength="37.38" lengthAdjust="spacingAndGlyphs">17.25</text>
<line x1="500.64" x2="505.5" y1="225.5" y2="225.5" stroke="#000" stroke-width="1.1"/>
<text x="494.85" y="230.62" text-anchor="end" font-size="13.89" textLength="37.38" lengthAdjust="spacingAndGlyphs">17.20</text>
<line x1="500.64" x2="505.5" y1="264.5" y2="264.5" stroke="#000" stroke-width="1.1"/>
<text x="494.85" y="269.88" text-anchor="end" font-size="13.89" textLength="37.38" lengthAdjust="spacingAndGlyphs">17.15</text>
<line x1="512.5" x2="512.5" y1="268.5" y2="273.36" stroke="#000" stroke-width="1.1"/>
<text x="513.39" y="287.65" text-anchor="middle" font-size="13.89" textLength="8.44" lengthAdjust="spacingAndGlyphs">0</text>
<line x1="587.5" x2="587.5" y1="268.5" y2="273.36" stroke="#000" stroke-width="1.1"/>
<text x="588.45" y="287.65" text-anchor="middle" font-size="13.89" textLength="33.76" lengthAdjust="spacingAndGlyphs">2950</text>
<text x="587.27" y="36.67" text-anchor="middle" font-size="13.89" textLength="51.00" lengthAdjust="spacingAndGlyphs">z(pixel)</text>
<g clip-path="url(#c2)">
<path d="M669.4,40.5 669.4,75.8 667.8,75.8 667.8,94.2 665.8,94.2 665.8,100.0 664.2,100.0 664.2,103.3 661.7,103.3 661.7,106.7 659.2,106.7 659.2,110.0 655.8,110.0 655.8,113.3 651.7,113.3 651.7,116.7 650.0,116.7 650.0,119.2 645.8,119.2 645.8,121.3 640.8,121.3 640.8,123.3 635.0,123.3 635.0,125.8 626.7,125.8 626.7,128.3 621.7,128.3 621.7,130.8 616.7,130.8 616.7,133.3 612.5,133.3 612.5,135.3 603.3,135.3 603.3,137.5 594.2,137.5 594.2,139.7 587.0,139.7 587.0,142.5 585.0,142.5 585.0,145.8 576.3,145.8 576.3,148.7 574.2,148.7 574.2,153.3 580.3,153.3 580.3,157.5 585.0,157.5 585.0,159.7 584.2,159.7 584.2,162.5 570.3,162.5 570.3,164.2 576.3,164.2 576.3,166.3 580.8,166.3 580.8,168.0 590.8,168.0 590.8,170.3 594.2,170.3 594.2,172.5 602.5,172.5 602.5,173.3 614.2,173.3 614.2,175.3 611.7,175.3 611.7,178.3 608.3,178.3 608.3,180.3 617.5,180.3 617.5,182.5 624.2,182.5 624.2,185.0 631.7,185.0 631.7,188.0 637.5,188.0 637.5,190.8 643.3,190.8 643.3,192.5 649.2,192.5 649.2,196.7 655.0,196.7 655.0,199.2 658.3,199.2 658.3,203.3 661.7,203.3 661.7,206.7 666.3,206.7 666.3,210.0 664.2,210.0 664.2,213.3 665.8,213.3 665.8,215.8 667.5,215.8 667.5,218.3 668.0,218.3 668.0,238.3 669.4,238.3 669.4,273.5" fill="none" stroke="#ff0000" stroke-width="1.39" stroke-linejoin="miter"/>
</g>
<rect x="505.5" y="45.5" width="164.0" height="223.0" fill="none" stroke="#000" stroke-width="1.1"/>
<clipPath id="c3"><rect x="718.5" y="45.5" width="164.0" height="223.0"/></clipPath>
<g clip-path="url(#c3)">
<path d="M725.4,71.8 725.9,71.8 725.9,202.3 726.4,202.3 726.4,60.8 726.9,60.8 726.9,213.6 727.4,213.6 727.4,66.6 727.9,66.6 727.9,205.7 728.4,205.7 728.4,67.3 728.9,67.3 728.9,204.6 729.4,204.6 729.4,63.0 729.9,63.0 729.9,203.8 730.4,203.8 730.4,46.7 730.9,46.7 730.9,203.3 731.4,203.3 731.4,53.3 731.9,53.3 731.9,203.5 732.4,203.5 732.4,52.6 732.9,52.6 732.9,199.3 733.4,199.3 733.4,55.9 733.9,55.9 733.9,194.9 734.4,194.9 734.4,51.9 734.9,51.9 734.9,188.9 735.4,188.9 735.4,48.3 735.9,48.3 735.9,191.5 736.4,191.5 736.4,51.4 736.9,51.4 736.9,207.5 737.4,207.5 737.4,49.2 737.9,49.2 737.9,203.9 738.4,203.9 738.4,50.9 738.9,50.9 738.9,201.6 739.4,201.6 739.4,50.4 739.9,50.4 739.9,200.9 740.4,200.9 740.4,48.9 740.9,48.9 740.9,200.9 741.4,200.9 741.5,62.7 742.0,62.7 742.0,198.9 742.5,198.9 742.5,67.8 743.0,67.8 743.0,195.9 743.5,195.9 743.5,72.1 744.0,72.1 744.0,200.1 744.5,200.1 744.5,72.7 745.0,72.7 745.0,209.3 745.5,209.3 745.5,71.9 746.0,71.9 746.0,206.2 746.5,206.2 746.5,70.6 747.0,70.6 747.0,215.0 747.5,215.0 747.5,72.0 748.0,72.0 748.0,197.8 748.5,197.8 748.5,68.3 749.0,68.3 749.0,191.1 749.5,191.1 749.5,71.8 750.0,71.8 750.0,192.6 750.5,192.6 750.5,70.9 751.0,70.9 751.0,191.4 751.5,191.4 751.5,73.1 752.0,73.1 752.0,197.8 752.5,197.8 752.5,69.0 753.0,69.0 753.0,192.3 753.5,192.3 753.5,66.7 754.0,66.7 754.0,192.4 754.5,192.4 754.5,71.3 755.0,71.3 755.0,196.0 755.5,196.0 755.5,71.5 756.0,71.5 756.0,209.2 756.5,209.2 756.5,71.2 757.0,71.2 757.0,201.5 757.5,201.5 757.5,72.0 758.0,72.0 758.0,202.4 758.5,202.4 758.5,71.5 759.0,71.5 759.0,201.4 759.5,201.4 759.5,68.6 760.0,68.6 760.0,205.1 760.5,205.1 760.5,64.2 761.0,64.2 761.0,205.8 761.5,205.8 761.6,76.8 762.1,76.8 762.1,206.6 762.6,206.6 762.6,81.1 763.1,81.1 763.1,211.7 763.6,211.7 763.6,93.1 764.1,93.1 764.1,208.6 764.6,208.6 764.6,94.9 765.1,94.9 765.1,209.3 765.6,209.3 765.6,83.1 766.1,83.1 766.1,206.9 766.6,206.9 766.6,74.2 767.1,74.2 767.1,215.0 767.6,215.0 767.6,88.6 768.1,88.6 768.1,200.2 768.6,200.2 768.6,90.4 769.1,90.4 769.1,196.5 769.6,196.5 769.6,90.0 770.1,90.0 770.1,197.8 770.6,197.8 770.6,87.1 771.1,87.1 771.1,202.9 771.6,202.9 771.6,86.8 772.1,86.8 772.1,195.0 772.6,195.0 772.6,75.0 773.1,75.0 773.1,194.7 773.6,194.7 773.6,75.9 774.1,75.9 774.1,194.4 774.6,194.4 774.6,78.0 775.1,78.0 775.1,197.0 775.6,197.0 775.6,80.1 776.1,80.1 776.1,196.7 776.6,196.7 776.6,89.3 777.1,89.3 777.1,189.9 777.6,189.9 777.6,92.3 778.1,92.3 778.1,188.4 778.6,188.4 778.6,93.9 779.1,93.9 779.1,191.5 779.6,191.5 779.6,90.1 780.1,90.1 780.1,203.0 780.6,203.0 780.7,77.5 781.2,77.5 781.2,203.6 781.7,203.6 781.7,79.2 782.2,79.2 782.2,206.7 782.7,206.7 782.7,83.1 783.2,83.1 783.2,202.2 783.7,202.2 783.7,61.3 784.2,61.3 784.2,202.7 784.7,202.7 784.7,88.1 785.2,88.1 785.2,203.3 785.7,203.3 785.7,94.5 786.2,94.5 786.2,202.1 786.7,202.1 786.7,95.1 787.2,95.1 787.2,204.7 787.7,204.7 787.7,88.3 788.2,88.3 788.2,204.2 788.7,204.2 788.7,93.3 789.2,93.3 789.2,183.5 789.7,183.5 789.7,96.4 790.2,96.4 790.2,182.0 790.7,182.0 790.7,96.1 791.2,96.1 791.2,206.7 791.7,206.7 791.7,93.8 792.2,93.8 792.2,202.9 792.7,202.9 792.7,84.1 793.2,84.1 793.2,201.1 793.7,201.1 793.7,71.7 794.2,71.7 794.2,201.1 794.7,201.1 794.7,68.1 795.2,68.1 795.2,204.4 795.7,204.4 795.7,71.3 796.2,71.3 796.2,209.2 796.7,209.2 796.7,78.6 797.2,78.6 797.2,205.4 797.7,205.4 797.7,80.6 798.2,80.6 798.2,206.7 798.7,206.7 798.7,84.6 799.2,84.6 799.2,200.2 799.7,200.2 799.8,88.1 800.2,88.1 800.2,189.1 800.8,189.1 800.8,88.6 801.3,88.6 801.3,185.0 801.8,185.0 801.8,87.2 802.3,87.2 802.3,186.5 802.8,186.5 802.8,85.5 803.3,85.5 803.3,196.7 803.8,196.7 803.8,93.8 804.3,93.8 804.3,195.8 804.8,195.8 804.8,97.0 805.3,97.0 805.3,200.2 805.8,200.2 805.8,95.9 806.3,95.9 806.3,196.9 806.8,196.9 806.8,92.5 807.3,92.5 807.3,197.9 807.8,197.9 807.8,98.7 808.3,98.7 808.3,198.5 808.8,198.5 808.8,105.2 809.3,105.2 809.3,206.7 809.8,206.7 809.8,107.6 810.3,107.6 810.3,199.4 810.8,199.4 810.8,110.3 811.3,110.3 811.3,194.7 811.8,194.7 811.8,107.7 812.3,107.7 812.3,196.9 812.8,196.9 812.8,96.7 813.3,96.7 813.3,203.0 813.8,203.0 813.8,96.8 814.3,96.8 814.3,207.3 814.8,207.3 814.8,94.1 815.3,94.1 815.3,216.7 815.8,216.7 815.8,94.2 816.3,94.2 816.3,208.9 816.8,208.9 816.8,96.7 817.3,96.7 817.3,205.7 817.8,205.7 817.8,102.2 818.3,102.2 818.3,205.0 818.8,205.0 818.8,105.2 819.3,105.2 819.3,207.0 819.8,207.0 819.9,99.4 820.4,99.4 820.4,207.0 820.9,207.0 820.9,92.5 821.4,92.5 821.4,206.2 821.9,206.2 821.9,99.6 822.4,99.6 822.4,210.4 822.9,210.4 822.9,103.8 823.4,103.8 823.4,210.8 823.9,210.8 823.9,103.7 824.4,103.7 824.4,204.0 824.9,204.0 824.9,104.7 825.4,104.7 825.4,200.9 825.9,200.9 825.9,100.6 826.4,100.6 826.4,200.0 826.9,200.0 826.9,103.4 827.4,103.4 827.4,195.7 827.9,195.7 827.9,99.9 828.4,99.9 828.4,193.9 828.9,193.9 828.9,96.7 829.4,96.7 829.4,188.7 829.9,188.7 829.9,96.3 830.4,96.3 830.4,188.4 830.9,188.4 830.9,97.9 831.4,97.9 831.4,188.0 831.9,188.0 831.9,100.3 832.4,100.3 832.4,196.2 832.9,196.2 832.9,100.1 833.4,100.1 833.4,199.2 833.9,199.2 833.9,102.1 834.4,102.1 834.4,203.8 834.9,203.8 834.9,118.0 835.4,118.0 835.4,207.1 835.9,207.1 835.9,118.9 836.4,118.9 836.4,208.9 836.9,208.9 836.9,118.7 837.4,118.7 837.4,210.0 837.9,210.0 837.9,116.1 838.4,116.1 838.4,210.0 838.9,210.0 839.0,108.9 839.5,108.9 839.5,200.3 840.0,200.3 840.0,111.1 840.5,111.1 840.5,198.5 841.0,198.5 841.0,111.3 841.5,111.3 841.5,201.8 842.0,201.8 842.0,108.8 842.5,108.8 842.5,208.3 843.0,208.3 843.0,109.1 843.5,109.1 843.5,205.2 844.0,205.2 844.0,108.8 844.5,108.8 844.5,201.2 845.0,201.2 845.0,109.2 845.5,109.2 845.5,201.6 846.0,201.6 846.0,113.2 846.5,113.2 846.5,204.1 847.0,204.1 847.0,113.8 847.5,113.8 847.5,209.2 848.0,209.2 848.0,113.1 848.5,113.1 848.5,202.6 849.0,202.6 849.0,115.3 849.5,115.3 849.5,197.7 850.0,197.7 850.0,115.3 850.5,115.3 850.5,200.5 851.0,200.5 851.0,116.6 851.5,116.6 851.5,197.0 852.0,197.0 852.0,116.6 852.5,116.6 852.5,195.8 853.0,195.8 853.0,119.5 853.5,119.5 853.5,197.9 854.0,197.9 854.0,120.6 854.5,120.6 854.5,202.0 855.0,202.0 855.0,119.6 855.5,119.6 855.5,196.7 856.0,196.7 856.0,118.1 856.5,118.1 856.5,197.7 857.0,197.7 857.0,114.6 857.5,114.6 857.5,204.8 858.0,204.8 858.0,121.6 858.5,121.6 858.5,221.7 859.0,221.7 859.1,125.2 859.6,125.2 859.6,202.5 860.1,202.5 860.1,126.3 860.6,126.3 860.6,202.3 861.1,202.3 861.1,132.8 861.6,132.8 861.6,203.4 862.1,203.4 862.1,136.2 862.6,136.2 862.6,204.5 863.1,204.5 863.1,137.8 863.6,137.8 863.6,195.3 864.1,195.3 864.1,136.6 864.6,136.6 864.6,193.8 865.1,193.8 865.1,131.2 865.6,131.2 865.6,192.4 866.1,192.4 866.1,129.6 866.6,129.6 866.6,193.9 867.1,193.9 867.1,123.3 867.6,123.3 867.6,204.2 868.1,204.2 868.1,132.8 868.6,132.8 868.6,199.8 869.1,199.8 869.1,135.1 869.6,135.1 869.6,197.4 870.1,197.4 870.1,139.2 870.6,139.2 870.6,204.2 871.1,204.2 871.1,140.4 871.6,140.4 871.6,198.3 872.1,198.3 872.1,140.1 872.6,140.1 872.6,194.7 873.1,194.7 873.1,126.7 873.6,126.7 873.6,190.8 874.1,190.8 874.1,137.6 874.6,137.6 874.6,176.0 875.1,176.0" fill="none" stroke="#0000ff" stroke-width="2.08" stroke-linejoin="round" stroke-linecap="butt"/>
<line x1="785.43" x2="874.58" y1="107.53" y2="107.53" stroke="#000" stroke-width="2.78" stroke-dasharray="2.78 4.58"/>
<line x1="785.43" x2="874.58" y1="195.47" y2="195.47" stroke="#000" stroke-width="2.78" stroke-dasharray="2.78 4.58"/>
<line x1="785.43" x2="874.58" y1="134.42" y2="134.42" stroke="#000" stroke-width="2.78"/>
<line x1="785.43" x2="874.58" y1="179.33" y2="179.33" stroke="#000" stroke-width="2.78"/>
<line x1="785.43" x2="874.58" y1="155.94" y2="155.94" stroke="#ff0000" stroke-width="2.08"/>
</g>
<line x1="713.64" x2="718.5" y1="71.5" y2="71.5" stroke="#000" stroke-width="1.1"/>
<text x="707.58" y="76.53" text-anchor="end" font-size="13.89" textLength="24.92" lengthAdjust="spacingAndGlyphs">650</text>
<line x1="713.64" x2="718.5" y1="115.5" y2="115.5" stroke="#000" stroke-width="1.1"/>
<text x="707.58" y="120.63" text-anchor="end" font-size="13.89" textLength="24.92" lengthAdjust="spacingAndGlyphs">600</text>
<line x1="713.64" x2="718.5" y1="158.5" y2="158.5" stroke="#000" stroke-width="1.1"/>
<text x="707.58" y="163.66" text-anchor="end" font-size="13.89" textLength="24.92" lengthAdjust="spacingAndGlyphs">550</text>
<line x1="713.64" x2="718.5" y1="201.5" y2="201.5" stroke="#000" stroke-width="1.1"/>
<text x="707.58" y="206.42" text-anchor="end" font-size="13.89" textLength="24.92" lengthAdjust="spacingAndGlyphs">500</text>
<line x1="713.64" x2="718.5" y1="244.5" y2="244.5" stroke="#000" stroke-width="1.1"/>
<text x="707.58" y="249.44" text-anchor="end" font-size="13.89" textLength="24.92" lengthAdjust="spacingAndGlyphs">450</text>
<line x1="725.5" x2="725.5" y1="268.5" y2="273.36" stroke="#000" stroke-width="1.1"/>
<text x="726.12" y="287.65" text-anchor="middle" font-size="13.89" textLength="8.44" lengthAdjust="spacingAndGlyphs">0</text>
<line x1="800.5" x2="800.5" y1="268.5" y2="273.36" stroke="#000" stroke-width="1.1"/>
<text x="801.18" y="287.65" text-anchor="middle" font-size="13.89" textLength="33.76" lengthAdjust="spacingAndGlyphs">2950</text>
<text x="800.00" y="36.67" text-anchor="middle" font-size="13.89" textLength="240.78" lengthAdjust="spacingAndGlyphs">flux(same units as the input Cube)</text>
<g clip-path="url(#c3)">
<path d="M882.4,40.5 882.4,67.5 881.7,67.5 881.7,90.0 880.8,90.0 880.8,93.3 879.2,93.3 879.2,97.5 876.7,97.5 876.7,103.3 874.2,103.3 874.2,105.8 871.7,105.8 871.7,110.0 868.3,110.0 868.3,112.5 865.8,112.5 865.8,116.7 862.5,116.7 862.5,119.2 856.7,119.2 856.7,121.7 853.3,121.7 853.3,125.8 847.5,125.8 847.5,128.3 843.3,128.3 843.3,130.8 837.5,130.8 837.5,134.7 826.7,134.7 826.7,136.7 822.5,136.7 822.5,139.2 816.7,139.2 816.7,141.7 813.3,141.7 813.3,144.2 821.7,144.2 821.7,146.2 815.0,146.2 815.0,148.3 806.7,148.3 806.7,150.8 810.0,150.8 810.0,153.3 808.3,153.3 808.3,155.0 786.7,155.0 786.7,156.7 790.0,156.7 790.0,157.5 796.7,157.5 796.7,160.3 809.2,160.3 809.2,163.3 810.0,163.3 810.0,164.7 814.2,164.7 814.2,166.7 809.2,166.7 809.2,169.2 807.5,169.2 807.5,171.3 816.7,171.3 816.7,173.3 826.7,173.3 826.7,175.3 833.3,175.3 833.3,177.0 835.8,177.0 835.8,180.0 836.7,180.0 836.7,182.5 845.0,182.5 845.0,185.0 850.0,185.0 850.0,187.5 855.0,187.5 855.0,189.2 858.3,189.2 858.3,191.7 863.3,191.7 863.3,194.2 866.7,194.2 866.7,196.7 870.0,196.7 870.0,199.2 873.3,199.2 873.3,202.5 875.8,202.5 875.8,205.8 878.3,205.8 878.3,209.2 880.5,209.2 880.5,212.5 881.7,212.5 881.7,215.0 882.4,215.0 882.4,273.5" fill="none" stroke="#ff0000" stroke-width="1.39" stroke-linejoin="miter"/>
</g>
<rect x="718.5" y="45.5" width="164.0" height="223.0" fill="none" stroke="#000" stroke-width="1.1"/>
<clipPath id="c4"><rect x="931.5" y="45.5" width="164.0" height="223.0"/></clipPath>
<g clip-path="url(#c4)">
<path d="M938.1,50.0 938.6,50.0 938.6,193.7 939.1,193.7 939.1,43.3 939.6,43.3 939.6,203.4 940.1,203.4 940.1,43.9 940.6,43.9 940.6,203.0 941.1,203.0 941.1,43.7 941.6,43.7 941.6,212.5 942.1,212.5 942.1,43.9 942.6,43.9 942.6,206.6 943.1,206.6 943.1,42.5 943.6,42.5 943.6,197.6 944.1,197.6 944.1,42.9 944.6,42.9 944.6,196.9 945.1,196.9 945.1,43.2 945.6,43.2 945.6,204.1 946.1,204.1 946.1,44.1 946.6,44.1 946.6,207.2 947.1,207.2 947.1,41.5 947.6,41.5 947.6,225.8 948.1,225.8 948.1,43.8 948.6,43.8 948.6,202.0 949.1,202.0 949.2,43.3 949.7,43.3 949.7,197.9 950.2,197.9 950.2,43.7 950.7,43.7 950.7,196.1 951.2,196.1 951.2,42.8 951.7,42.8 951.7,214.2 952.2,214.2 952.2,41.5 952.7,41.5 952.7,211.3 953.2,211.3 953.2,43.4 953.7,43.4 953.7,205.8 954.2,205.8 954.2,41.8 954.7,41.8 954.7,209.9 955.2,209.9 955.2,44.5 955.7,44.5 955.7,207.4 956.2,207.4 956.2,41.6 956.7,41.6 956.7,208.3 957.2,208.3 957.2,43.7 957.7,43.7 957.7,213.2 958.2,213.2 958.2,42.3 958.7,42.3 958.7,229.2 959.2,229.2 959.2,43.3 959.7,43.3 959.7,210.0 960.2,210.0 960.2,54.3 960.7,54.3 960.7,204.2 961.2,204.2 961.2,51.7 961.7,51.7 961.7,203.3 962.2,203.3 962.2,43.3 962.7,43.3 962.7,204.2 963.2,204.2 963.2,50.6 963.7,50.6 963.7,205.9 964.2,205.9 964.2,50.5 964.7,50.5 964.7,195.5 965.2,195.5 965.2,53.3 965.7,53.3 965.7,191.2 966.2,191.2 966.2,43.3 966.7,43.3 966.7,192.7 967.2,192.7 967.2,43.6 967.7,43.6 967.7,195.0 968.2,195.0 968.3,46.1 968.8,46.1 968.8,205.6 969.3,205.6 969.3,45.8 969.8,45.8 969.8,195.2 970.3,195.2 970.3,47.4 970.8,47.4 970.8,191.8 971.3,191.8 971.3,51.5 971.8,51.5 971.8,193.2 972.3,193.2 972.3,56.7 972.8,56.7 972.8,196.3 973.3,196.3 973.3,69.0 973.8,69.0 973.8,207.3 974.3,207.3 974.3,69.6 974.8,69.6 974.8,217.5 975.3,217.5 975.3,69.5 975.8,69.5 975.8,194.6 976.3,194.6 976.3,71.1 976.8,71.1 976.8,196.2 977.3,196.2 977.3,71.4 977.8,71.4 977.8,192.8 978.3,192.8 978.3,70.9 978.8,70.9 978.8,196.7 979.3,196.7 979.3,78.5 979.8,78.5 979.8,199.2 980.3,199.2 980.3,85.5 980.8,85.5 980.8,193.8 981.3,193.8 981.3,87.6 981.8,87.6 981.8,190.9 982.3,190.9 982.3,87.5 982.8,87.5 982.8,192.5 983.3,192.5 983.3,89.4 983.8,89.4 983.8,197.9 984.3,197.9 984.3,83.3 984.8,83.3 984.8,209.6 985.3,209.6 985.3,70.6 985.8,70.6 985.8,210.4 986.3,210.4 986.3,60.8 986.8,60.8 986.8,206.4 987.3,206.4 987.3,78.2 987.8,78.2 987.8,205.6 988.3,205.6 988.4,86.4 988.9,86.4 988.9,197.4 989.4,197.4 989.4,88.1 989.9,88.1 989.9,191.0 990.4,191.0 990.4,82.2 990.9,82.2 990.9,180.7 991.4,180.7 991.4,75.0 991.9,75.0 991.9,187.1 992.4,187.1 992.4,60.0 992.9,60.0 992.9,203.3 993.4,203.3 993.4,72.1 993.9,72.1 993.9,196.0 994.4,196.0 994.4,72.2 994.9,72.2 994.9,193.4 995.4,193.4 995.4,74.6 995.9,74.6 995.9,193.8 996.4,193.8 996.4,68.0 996.9,68.0 996.9,197.0 997.4,197.0 997.4,52.5 997.9,52.5 997.9,205.0 998.4,205.0 998.4,72.9 998.9,72.9 998.9,202.5 999.4,202.5 999.4,73.0 999.9,73.0 999.9,201.1 1000.4,201.1 1000.4,72.5 1000.9,72.5 1000.9,191.2 1001.4,191.2 1001.4,71.7 1001.9,71.7 1001.9,184.8 1002.4,184.8 1002.4,84.2 1002.9,84.2 1002.9,185.3 1003.4,185.3 1003.4,87.4 1003.9,87.4 1003.9,189.2 1004.4,189.2 1004.4,85.9 1004.9,85.9 1004.9,200.1 1005.4,200.1 1005.4,81.8 1005.9,81.8 1005.9,201.6 1006.4,201.6 1006.4,75.0 1006.9,75.0 1006.9,211.7 1007.4,211.7 1007.5,64.8 1008.0,64.8 1008.0,204.9 1008.5,204.9 1008.5,58.7 1009.0,58.7 1009.0,201.7 1009.5,201.7 1009.5,82.6 1010.0,82.6 1010.0,202.2 1010.5,202.2 1010.5,82.2 1011.0,82.2 1011.0,205.0 1011.5,205.0 1011.5,81.7 1012.0,81.7 1012.0,198.7 1012.5,198.7 1012.5,82.1 1013.0,82.1 1013.0,193.0 1013.5,193.0 1013.5,85.4 1014.0,85.4 1014.0,193.9 1014.5,193.9 1014.5,82.8 1015.0,82.8 1015.0,192.6 1015.5,192.6 1015.5,69.2 1016.0,69.2 1016.0,192.7 1016.5,192.7 1016.5,88.7 1017.0,88.7 1017.0,192.6 1017.5,192.6 1017.5,90.3 1018.0,90.3 1018.0,194.1 1018.5,194.1 1018.5,90.7 1019.0,90.7 1019.0,193.0 1019.5,193.0 1019.5,91.7 1020.0,91.7 1020.0,190.8 1020.5,190.8 1020.5,100.0 1021.0,100.0 1021.0,191.1 1021.5,191.1 1021.5,105.5 1022.0,105.5 1022.0,193.3 1022.5,193.3 1022.5,105.8 1023.0,105.8 1023.0,190.7 1023.5,190.7 1023.5,105.3 1024.0,105.3 1024.0,192.2 1024.5,192.2 1024.5,101.5 1025.0,101.5 1025.0,193.1 1025.5,193.1 1025.5,97.5 1026.0,97.5 1026.0,196.0 1026.5,196.0 1026.5,101.1 1027.0,101.1 1027.0,204.5 1027.5,204.5 1027.6,101.8 1028.1,101.8 1028.1,230.0 1028.6,230.0 1028.6,96.1 1029.1,96.1 1029.1,202.2 1029.6,202.2 1029.6,89.2 1030.1,89.2 1030.1,194.7 1030.6,194.7 1030.6,101.4 1031.1,101.4 1031.1,196.8 1031.6,196.8 1031.6,101.6 1032.1,101.6 1032.1,195.9 1032.6,195.9 1032.6,97.1 1033.1,97.1 1033.1,198.2 1033.6,198.2 1033.6,87.9 1034.1,87.9 1034.1,199.2 1034.6,199.2 1034.6,85.3 1035.1,85.3 1035.1,199.9 1035.6,199.9 1035.6,99.2 1036.1,99.2 1036.1,197.2 1036.6,197.2 1036.6,104.2 1037.1,104.2 1037.1,196.5 1037.6,196.5 1037.6,106.4 1038.1,106.4 1038.1,196.5 1038.6,196.5 1038.6,106.2 1039.1,106.2 1039.1,194.8 1039.6,194.8 1039.6,106.3 1040.1,106.3 1040.1,196.5 1040.6,196.5 1040.6,103.1 1041.1,103.1 1041.1,193.4 1041.6,193.4 1041.6,94.2 1042.1,94.2 1042.1,193.0 1042.6,193.0 1042.6,96.3 1043.1,96.3 1043.1,189.2 1043.6,189.2 1043.6,93.6 1044.1,93.6 1044.1,190.5 1044.6,190.5 1044.6,89.2 1045.1,89.2 1045.1,189.9 1045.6,189.9 1045.6,97.6 1046.1,97.6 1046.1,198.6 1046.6,198.6 1046.7,102.6 1047.2,102.6 1047.2,192.8 1047.7,192.8 1047.7,112.4 1048.2,112.4 1048.2,194.9 1048.7,194.9 1048.7,113.2 1049.2,113.2 1049.2,198.3 1049.7,198.3 1049.7,112.9 1050.2,112.9 1050.2,193.4 1050.7,193.4 1050.7,113.8 1051.2,113.8 1051.2,194.7 1051.7,194.7 1051.7,111.7 1052.2,111.7 1052.2,195.1 1052.7,195.1 1052.7,112.8 1053.2,112.8 1053.2,202.6 1053.7,202.6 1053.7,111.3 1054.2,111.3 1054.2,217.8 1054.7,217.8 1054.7,111.4 1055.2,111.4 1055.2,199.8 1055.7,199.8 1055.7,108.4 1056.2,108.4 1056.2,194.2 1056.7,194.2 1056.7,99.4 1057.2,99.4 1057.2,197.5 1057.7,197.5 1057.7,105.7 1058.2,105.7 1058.2,208.3 1058.7,208.3 1058.7,114.4 1059.2,114.4 1059.2,193.8 1059.7,193.8 1059.7,117.1 1060.2,117.1 1060.2,195.1 1060.7,195.1 1060.7,107.1 1061.2,107.1 1061.2,194.6 1061.7,194.6 1061.7,117.2 1062.2,117.2 1062.2,195.8 1062.7,195.8 1062.7,118.1 1063.2,118.1 1063.2,196.7 1063.7,196.7 1063.7,115.0 1064.2,115.0 1064.2,192.2 1064.7,192.2 1064.7,105.8 1065.2,105.8 1065.2,191.1 1065.7,191.1 1065.7,111.8 1066.2,111.8 1066.2,191.7 1066.7,191.7 1066.8,115.4 1067.3,115.4 1067.3,199.6 1067.8,199.6 1067.8,115.5 1068.3,115.5 1068.3,197.8 1068.8,197.8 1068.8,114.7 1069.3,114.7 1069.3,200.4 1069.8,200.4 1069.8,115.0 1070.3,115.0 1070.3,199.2 1070.8,199.2 1070.8,117.5 1071.3,117.5 1071.3,197.5 1071.8,197.5 1071.8,119.6 1072.3,119.6 1072.3,199.9 1072.8,199.9 1072.8,120.4 1073.3,120.4 1073.3,196.6 1073.8,196.6 1073.8,130.1 1074.3,130.1 1074.3,194.6 1074.8,194.6 1074.8,131.7 1075.3,131.7 1075.3,192.1 1075.8,192.1 1075.8,139.2 1076.3,139.2 1076.3,191.3 1076.8,191.3 1076.8,140.2 1077.3,140.2 1077.3,193.9 1077.8,193.9 1077.8,134.1 1078.3,134.1 1078.3,193.6 1078.8,193.6 1078.8,127.2 1079.3,127.2 1079.3,195.0 1079.8,195.0 1079.8,124.2 1080.3,124.2 1080.3,192.8 1080.8,192.8 1080.8,133.2 1081.3,133.2 1081.3,188.5 1081.8,188.5 1081.8,138.7 1082.3,138.7 1082.3,189.8 1082.8,189.8 1082.8,144.8 1083.3,144.8 1083.3,188.6 1083.8,188.6 1083.8,146.7 1084.3,146.7 1084.3,189.4 1084.8,189.4 1084.8,137.8 1085.3,137.8 1085.3,189.2 1085.8,189.2 1085.9,122.7 1086.4,122.7 1086.4,178.3 1086.9,178.3 1086.9,120.5 1087.4,120.5 1087.4,174.2 1087.9,174.2" fill="none" stroke="#0000ff" stroke-width="2.08" stroke-linejoin="round" stroke-linecap="butt"/>
<line x1="998.16" x2="1087.31" y1="105.38" y2="105.38" stroke="#000" stroke-width="2.78" stroke-dasharray="2.78 4.58"/>
<line x1="998.16" x2="1087.31" y1="190.36" y2="190.36" stroke="#000" stroke-width="2.78" stroke-dasharray="2.78 4.58"/>
<line x1="998.16" x2="1087.31" y1="134.42" y2="134.42" stroke="#000" stroke-width="2.78"/>
<line x1="998.16" x2="1087.31" y1="179.33" y2="179.33" stroke="#000" stroke-width="2.78"/>
<line x1="998.16" x2="1087.31" y1="155.94" y2="155.94" stroke="#ff0000" stroke-width="2.08"/>
</g>
<line x1="926.64" x2="931.5" y1="72.5" y2="72.5" stroke="#000" stroke-width="1.1"/>
<text x="920.31" y="77.34" text-anchor="end" font-size="13.89" textLength="29.07" lengthAdjust="spacingAndGlyphs">2.50</text>
<line x1="926.64" x2="931.5" y1="103.5" y2="103.5" stroke="#000" stroke-width="1.1"/>
<text x="920.31" y="108.53" text-anchor="end" font-size="13.89" textLength="29.07" lengthAdjust="spacingAndGlyphs">2.25</text>
<line x1="926.64" x2="931.5" y1="134.5" y2="134.5" stroke="#000" stroke-width="1.1"/>
<text x="920.31" y="139.99" text-anchor="end" font-size="13.89" textLength="29.07" lengthAdjust="spacingAndGlyphs">2.00</text>
<line x1="926.64" x2="931.5" y1="165.5" y2="165.5" stroke="#000" stroke-width="1.1"/>
<text x="920.31" y="171.19" text-anchor="end" font-size="13.89" textLength="29.07" lengthAdjust="spacingAndGlyphs">1.75</text>
<line x1="926.64" x2="931.5" y1="197.5" y2="197.5" stroke="#000" stroke-width="1.1"/>
<text x="920.31" y="202.38" text-anchor="end" font-size="13.89" textLength="29.07" lengthAdjust="spacingAndGlyphs">1.50</text>
<line x1="926.64" x2="931.5" y1="228.5" y2="228.5" stroke="#000" stroke-width="1.1"/>
<text x="920.31" y="233.58" text-anchor="end" font-size="13.89" textLength="29.07" lengthAdjust="spacingAndGlyphs">1.25</text>
<line x1="926.64" x2="931.5" y1="259.5" y2="259.5" stroke="#000" stroke-width="1.1"/>
<text x="920.31" y="264.77" text-anchor="end" font-size="13.89" textLength="29.07" lengthAdjust="spacingAndGlyphs">1.00</text>
<line x1="938.5" x2="938.5" y1="268.5" y2="273.36" stroke="#000" stroke-width="1.1"/>
<text x="938.85" y="287.65" text-anchor="middle" font-size="13.89" textLength="8.44" lengthAdjust="spacingAndGlyphs">0</text>
<line x1="1013.5" x2="1013.5" y1="268.5" y2="273.36" stroke="#000" stroke-width="1.1"/>
<text x="1013.91" y="287.65" text-anchor="middle" font-size="13.89" textLength="33.76" lengthAdjust="spacingAndGlyphs">2950</text>
<text x="1012.73" y="36.67" text-anchor="middle" font-size="13.89" textLength="75.24" lengthAdjust="spacingAndGlyphs">rhalf(pixel)</text>
<g clip-path="url(#c4)">
<path d="M1095.3,40.5 1095.3,55.8 1093.8,55.8 1093.8,79.2 1092.3,79.2 1092.3,84.2 1090.7,84.2 1090.7,88.3 1089.7,88.3 1089.7,90.8 1089.0,90.8 1089.0,94.2 1090.2,94.2 1090.2,97.5 1089.0,97.5 1089.0,100.8 1085.2,100.8 1085.2,102.5 1082.7,102.5 1082.7,106.7 1081.0,106.7 1081.0,111.7 1071.8,111.7 1071.8,115.0 1068.5,115.0 1068.5,117.5 1071.8,117.5 1071.8,120.0 1074.3,120.0 1074.3,121.7 1068.5,121.7 1068.5,123.3 1058.0,123.3 1058.0,125.8 1054.3,125.8 1054.3,130.0 1044.3,130.0 1044.3,134.2 1039.3,134.2 1039.3,136.7 1034.3,136.7 1034.3,139.2 1026.0,139.2 1026.0,142.5 1017.7,142.5 1017.7,145.0 1016.8,145.0 1016.8,148.3 1020.2,148.3 1020.2,150.8 1012.3,150.8 1012.3,153.3 1003.5,153.3 1003.5,155.0 998.5,155.0 998.5,157.5 1003.5,157.5 1003.5,159.2 1001.8,159.2 1001.8,160.8 999.3,160.8 999.3,164.2 1006.0,164.2 1006.0,165.8 999.3,165.8 999.3,167.5 1000.2,167.5 1000.2,169.2 1004.3,169.2 1004.3,171.3 1011.8,171.3 1011.8,173.3 1017.7,173.3 1017.7,175.8 1026.0,175.8 1026.0,178.3 1033.5,178.3 1033.5,180.8 1051.8,180.8 1051.8,183.3 1061.0,183.3 1061.0,186.7 1066.8,186.7 1066.8,189.2 1075.2,189.2 1075.2,191.7 1082.7,191.7 1082.7,193.3 1086.8,193.3 1086.8,196.7 1089.0,196.7 1089.0,200.0 1091.8,200.0 1091.8,203.3 1093.5,203.3 1093.5,206.7 1094.0,206.7 1094.0,231.7 1095.3,231.7 1095.3,273.5" fill="none" stroke="#ff0000" stroke-width="1.39" stroke-linejoin="miter"/>
</g>
<rect x="931.5" y="45.5" width="164.0" height="223.0" fill="none" stroke="#000" stroke-width="1.1"/>
<clipPath id="c5"><rect x="1144.5" y="45.5" width="163.0" height="223.0"/></clipPath>
<g clip-path="url(#c5)">
<path d="M1150.8,49.7 1151.3,49.7 1151.3,192.3 1151.8,192.3 1151.8,49.7 1152.3,49.7 1152.3,205.0 1152.8,205.0 1152.8,49.7 1153.3,49.7 1153.3,196.6 1153.8,196.6 1153.8,49.7 1154.3,49.7 1154.3,192.1 1154.8,192.1 1154.8,50.1 1155.3,50.1 1155.3,193.3 1155.8,193.3 1155.9,50.1 1156.4,50.1 1156.4,205.0 1156.9,205.0 1156.9,49.7 1157.4,49.7 1157.4,201.5 1157.9,201.5 1157.9,53.5 1158.4,53.5 1158.4,192.4 1158.9,192.4 1158.9,55.2 1159.4,55.2 1159.4,192.0 1159.9,192.0 1159.9,55.9 1160.4,55.9 1160.4,191.3 1160.9,191.3 1160.9,50.0 1161.4,50.0 1161.4,190.9 1161.9,190.9 1161.9,53.5 1162.4,53.5 1162.4,197.2 1162.9,197.2 1162.9,55.2 1163.4,55.2 1163.4,204.7 1163.9,204.7 1163.9,60.9 1164.4,60.9 1164.4,187.3 1164.9,187.3 1164.9,60.3 1165.4,60.3 1165.4,187.0 1165.9,187.0 1165.9,57.2 1166.4,57.2 1166.4,188.1 1166.9,188.1 1166.9,55.6 1167.4,55.6 1167.4,195.8 1167.9,195.8 1167.9,52.5 1168.4,52.5 1168.4,185.0 1168.9,185.0 1168.9,59.5 1169.4,59.5 1169.4,184.5 1169.9,184.5 1169.9,61.9 1170.4,61.9 1170.4,191.9 1170.9,191.9 1170.9,60.0 1171.4,60.0 1171.4,198.7 1171.9,198.7 1171.9,55.8 1172.4,55.8 1172.4,201.7 1172.9,201.7 1172.9,56.9 1173.4,56.9 1173.4,188.6 1173.9,188.6 1173.9,57.2 1174.4,57.2 1174.4,182.2 1174.9,182.2 1174.9,54.2 1175.4,54.2 1175.4,185.7 1175.9,185.7 1176.0,49.7 1176.5,49.7 1176.5,194.2 1177.0,194.2 1177.0,52.0 1177.5,52.0 1177.5,203.3 1178.0,203.3 1178.0,53.1 1178.5,53.1 1178.5,185.1 1179.0,185.1 1179.0,51.7 1179.5,51.7 1179.5,183.1 1180.0,183.1 1180.0,50.0 1180.5,50.0 1180.5,195.8 1181.0,195.8 1181.0,49.7 1181.5,49.7 1181.5,191.3 1182.0,191.3 1182.0,50.6 1182.5,50.6 1182.5,187.7 1183.0,187.7 1183.0,49.7 1183.5,49.7 1183.5,184.7 1184.0,184.7 1184.0,54.0 1184.5,54.0 1184.5,177.1 1185.0,177.1 1185.0,54.3 1185.5,54.3 1185.5,178.8 1186.0,178.8 1186.0,57.4 1186.5,57.4 1186.5,188.8 1187.0,188.8 1187.0,56.3 1187.5,56.3 1187.5,192.8 1188.0,192.8 1188.0,57.4 1188.5,57.4 1188.5,202.5 1189.0,202.5 1189.0,66.8 1189.5,66.8 1189.5,195.9 1190.0,195.9 1190.0,67.5 1190.5,67.5 1190.5,192.2 1191.0,192.2 1191.0,68.8 1191.5,68.8 1191.5,195.1 1192.0,195.1 1192.0,63.7 1192.5,63.7 1192.5,197.6 1193.0,197.6 1193.0,57.5 1193.5,57.5 1193.5,199.0 1194.0,199.0 1194.0,69.6 1194.5,69.6 1194.5,201.0 1195.0,201.0 1195.1,69.9 1195.6,69.9 1195.6,203.3 1196.1,203.3 1196.1,69.6 1196.6,69.6 1196.6,204.3 1197.1,204.3 1197.1,64.7 1197.6,64.7 1197.6,199.2 1198.1,199.2 1198.1,49.7 1198.6,49.7 1198.6,192.2 1199.1,192.2 1199.1,75.1 1199.6,75.1 1199.6,192.9 1200.1,192.9 1200.1,72.0 1200.6,72.0 1200.6,193.3 1201.1,193.3 1201.1,61.7 1201.6,61.7 1201.6,187.6 1202.1,187.6 1202.1,68.9 1202.6,68.9 1202.6,185.1 1203.1,185.1 1203.1,68.2 1203.6,68.2 1203.6,188.8 1204.1,188.8 1204.1,68.4 1204.6,68.4 1204.6,201.7 1205.1,201.7 1205.1,65.7 1205.6,65.7 1205.6,201.3 1206.1,201.3 1206.1,61.7 1206.6,61.7 1206.6,199.7 1207.1,199.7 1207.1,80.7 1207.6,80.7 1207.6,196.1 1208.1,196.1 1208.1,80.2 1208.6,80.2 1208.6,192.5 1209.1,192.5 1209.1,52.5 1209.6,52.5 1209.6,191.0 1210.1,191.0 1210.1,67.8 1210.6,67.8 1210.6,192.6 1211.1,192.6 1211.1,75.5 1211.6,75.5 1211.6,195.1 1212.1,195.1 1212.1,69.8 1212.6,69.8 1212.6,209.2 1213.1,209.2 1213.1,51.7 1213.6,51.7 1213.6,190.3 1214.1,190.3 1214.1,85.9 1214.6,85.9 1214.6,188.0 1215.1,188.0 1215.2,86.8 1215.7,86.8 1215.7,187.9 1216.2,187.9 1216.2,83.9 1216.7,83.9 1216.7,190.6 1217.2,190.6 1217.2,77.1 1217.7,77.1 1217.7,193.4 1218.2,193.4 1218.2,64.6 1218.7,64.6 1218.7,190.2 1219.2,190.2 1219.2,62.1 1219.7,62.1 1219.7,189.8 1220.2,189.8 1220.2,53.1 1220.7,53.1 1220.7,190.4 1221.2,190.4 1221.2,54.8 1221.7,54.8 1221.7,192.7 1222.2,192.7 1222.2,75.8 1222.7,75.8 1222.7,200.0 1223.2,200.0 1223.2,96.7 1223.7,96.7 1223.7,195.1 1224.2,195.1 1224.2,93.0 1224.7,93.0 1224.7,191.8 1225.2,191.8 1225.2,90.6 1225.7,90.6 1225.7,192.0 1226.2,192.0 1226.2,87.7 1226.7,87.7 1226.7,192.7 1227.2,192.7 1227.2,82.4 1227.7,82.4 1227.7,188.8 1228.2,188.8 1228.2,72.5 1228.7,72.5 1228.7,189.3 1229.2,189.3 1229.2,85.5 1229.7,85.5 1229.7,192.5 1230.2,192.5 1230.2,87.3 1230.7,87.3 1230.7,195.8 1231.2,195.8 1231.2,87.8 1231.7,87.8 1231.7,205.3 1232.2,205.3 1232.2,92.4 1232.7,92.4 1232.7,196.4 1233.2,196.4 1233.2,102.3 1233.7,102.3 1233.7,195.6 1234.2,195.6 1234.3,100.0 1234.8,100.0 1234.8,200.4 1235.3,200.4 1235.3,91.7 1235.8,91.7 1235.8,195.2 1236.3,195.2 1236.3,104.9 1236.8,104.9 1236.8,198.3 1237.3,198.3 1237.3,103.5 1237.8,103.5 1237.8,200.2 1238.3,200.2 1238.3,105.9 1238.8,105.9 1238.8,204.3 1239.3,204.3 1239.3,98.8 1239.8,98.8 1239.8,203.7 1240.3,203.7 1240.3,87.5 1240.8,87.5 1240.8,202.5 1241.3,202.5 1241.3,93.6 1241.8,93.6 1241.8,198.6 1242.3,198.6 1242.3,98.8 1242.8,98.8 1242.8,196.3 1243.3,196.3 1243.3,96.0 1243.8,96.0 1243.8,198.2 1244.3,198.2 1244.3,87.5 1244.8,87.5 1244.8,200.2 1245.3,200.2 1245.3,95.1 1245.8,95.1 1245.8,206.7 1246.3,206.7 1246.3,92.9 1246.8,92.9 1246.8,206.7 1247.3,206.7 1247.3,76.7 1247.8,76.7 1247.8,205.9 1248.3,205.9 1248.3,99.5 1248.8,99.5 1248.8,210.0 1249.3,210.0 1249.3,102.3 1249.8,102.3 1249.8,199.6 1250.3,199.6 1250.3,102.8 1250.8,102.8 1250.8,194.6 1251.3,194.6 1251.3,103.1 1251.8,103.1 1251.8,192.4 1252.3,192.4 1252.3,100.4 1252.8,100.4 1252.8,193.5 1253.3,193.5 1253.3,89.2 1253.8,89.2 1253.8,192.3 1254.3,192.3 1254.4,88.8 1254.9,88.8 1254.9,188.6 1255.4,188.6 1255.4,86.3 1255.9,86.3 1255.9,187.4 1256.4,187.4 1256.4,89.2 1256.9,89.2 1256.9,190.2 1257.4,190.2 1257.4,92.1 1257.9,92.1 1257.9,185.1 1258.4,185.1 1258.4,93.0 1258.9,93.0 1258.9,189.6 1259.4,189.6 1259.4,110.9 1259.9,110.9 1259.9,187.4 1260.4,187.4 1260.4,114.0 1260.9,114.0 1260.9,188.9 1261.4,188.9 1261.4,113.8 1261.9,113.8 1261.9,194.5 1262.4,194.5 1262.4,113.5 1262.9,113.5 1262.9,198.1 1263.4,198.1 1263.4,112.0 1263.9,112.0 1263.9,203.3 1264.4,203.3 1264.4,104.9 1264.9,104.9 1264.9,199.3 1265.4,199.3 1265.4,113.6 1265.9,113.6 1265.9,195.1 1266.4,195.1 1266.4,113.5 1266.9,113.5 1266.9,192.0 1267.4,192.0 1267.4,99.7 1267.9,99.7 1267.9,191.1 1268.4,191.1 1268.4,103.2 1268.9,103.2 1268.9,192.0 1269.4,192.0 1269.4,107.0 1269.9,107.0 1269.9,194.1 1270.4,194.1 1270.4,116.6 1270.9,116.6 1270.9,198.3 1271.4,198.3 1271.4,118.5 1271.9,118.5 1271.9,198.5 1272.4,198.5 1272.4,119.8 1272.9,119.8 1272.9,197.9 1273.4,197.9 1273.5,114.9 1274.0,114.9 1274.0,198.2 1274.5,198.2 1274.5,107.5 1275.0,107.5 1275.0,202.6 1275.5,202.6 1275.5,117.3 1276.0,117.3 1276.0,195.9 1276.5,195.9 1276.5,121.3 1277.0,121.3 1277.0,196.8 1277.5,196.8 1277.5,123.8 1278.0,123.8 1278.0,193.8 1278.5,193.8 1278.5,123.1 1279.0,123.1 1279.0,198.3 1279.5,198.3 1279.5,125.3 1280.0,125.3 1280.0,213.3 1280.5,213.3 1280.5,124.9 1281.0,124.9 1281.0,202.2 1281.5,202.2 1281.5,123.9 1282.0,123.9 1282.0,195.4 1282.5,195.4 1282.5,121.7 1283.0,121.7 1283.0,197.2 1283.5,197.2 1283.5,126.4 1284.0,126.4 1284.0,206.7 1284.5,206.7 1284.5,126.7 1285.0,126.7 1285.0,204.8 1285.5,204.8 1285.5,126.4 1286.0,126.4 1286.0,202.1 1286.5,202.1 1286.5,125.7 1287.0,125.7 1287.0,199.8 1287.5,199.8 1287.5,126.7 1288.0,126.7 1288.0,196.4 1288.5,196.4 1288.5,137.4 1289.0,137.4 1289.0,194.3 1289.5,194.3 1289.5,140.0 1290.0,140.0 1290.0,196.3 1290.5,196.3 1290.5,140.1 1291.0,140.1 1291.0,196.5 1291.5,196.5 1291.5,133.3 1292.0,133.3 1292.0,195.4 1292.5,195.4 1292.5,134.3 1293.0,134.3 1293.0,199.8 1293.5,199.8 1293.6,136.1 1294.1,136.1 1294.1,201.0 1294.6,201.0 1294.6,144.4 1295.1,144.4 1295.1,205.1 1295.6,205.1 1295.6,147.1 1296.1,147.1 1296.1,202.2 1296.6,202.2 1296.6,148.3 1297.1,148.3 1297.1,200.0 1297.6,200.0 1297.6,142.7 1298.1,142.7 1298.1,196.2 1298.6,196.2 1298.6,130.8 1299.1,130.8 1299.1,192.0 1299.6,192.0 1299.6,137.2 1300.1,137.2 1300.1,181.9 1300.6,181.9" fill="none" stroke="#0000ff" stroke-width="2.08" stroke-linejoin="round" stroke-linecap="butt"/>
<line x1="1144.5" x2="1307.5" y1="49.18" y2="49.18" stroke="#ff0000" stroke-width="1.39"/>
<line x1="1144.5" x2="1307.5" y1="221.28" y2="221.28" stroke="#ff0000" stroke-width="1.39"/>
<line x1="1210.89" x2="1300.03" y1="105.38" y2="105.38" stroke="#000" stroke-width="2.78" stroke-dasharray="2.78 4.58"/>
<line x1="1210.89" x2="1300.03" y1="191.43" y2="191.43" stroke="#000" stroke-width="2.78" stroke-dasharray="2.78 4.58"/>
<line x1="1210.89" x2="1300.03" y1="134.42" y2="134.42" stroke="#000" stroke-width="2.78"/>
<line x1="1210.89" x2="1300.03" y1="179.33" y2="179.33" stroke="#000" stroke-width="2.78"/>
<line x1="1210.89" x2="1300.03" y1="155.94" y2="155.94" stroke="#ff0000" stroke-width="2.08"/>
</g>
<line x1="1139.64" x2="1144.5" y1="48.5" y2="48.5" stroke="#000" stroke-width="1.1"/>
<text x="1133.04" y="54.21" text-anchor="end" font-size="13.89" textLength="8.31" lengthAdjust="spacingAndGlyphs">4</text>
<line x1="1139.64" x2="1144.5" y1="98.5" y2="98.5" stroke="#000" stroke-width="1.1"/>
<text x="1133.04" y="103.42" text-anchor="end" font-size="13.89" textLength="8.31" lengthAdjust="spacingAndGlyphs">3</text>
<line x1="1139.64" x2="1144.5" y1="147.5" y2="147.5" stroke="#000" stroke-width="1.1"/>
<text x="1133.04" y="152.63" text-anchor="end" font-size="13.89" textLength="8.31" lengthAdjust="spacingAndGlyphs">2</text>
<line x1="1139.64" x2="1144.5" y1="196.5" y2="196.5" stroke="#000" stroke-width="1.1"/>
<text x="1133.04" y="201.84" text-anchor="end" font-size="13.89" textLength="8.31" lengthAdjust="spacingAndGlyphs">1</text>
<line x1="1139.64" x2="1144.5" y1="245.5" y2="245.5" stroke="#000" stroke-width="1.1"/>
<text x="1133.04" y="250.79" text-anchor="end" font-size="13.89" textLength="8.31" lengthAdjust="spacingAndGlyphs">0</text>
<line x1="1151.5" x2="1151.5" y1="268.5" y2="273.36" stroke="#000" stroke-width="1.1"/>
<text x="1151.57" y="287.65" text-anchor="middle" font-size="13.89" textLength="8.44" lengthAdjust="spacingAndGlyphs">0</text>
<line x1="1226.5" x2="1226.5" y1="268.5" y2="273.36" stroke="#000" stroke-width="1.1"/>
<text x="1226.63" y="287.65" text-anchor="middle" font-size="13.89" textLength="33.76" lengthAdjust="spacingAndGlyphs">2950</text>
<text x="1225.45" y="36.67" text-anchor="middle" font-size="13.89" textLength="55.88" lengthAdjust="spacingAndGlyphs">n(None)</text>
<g clip-path="url(#c5)">
<path d="M1307.3,40.5 1307.3,50.0 1306.5,50.0 1306.5,80.0 1306.0,80.0 1306.0,85.0 1304.0,85.0 1304.0,87.5 1302.3,87.5 1302.3,89.7 1301.5,89.7 1301.5,92.0 1304.3,92.0 1304.3,94.2 1303.7,94.2 1303.7,97.5 1302.7,97.5 1302.7,100.8 1300.7,100.8 1300.7,104.2 1296.5,104.2 1296.5,107.5 1293.2,107.5 1293.2,110.0 1290.7,110.0 1290.7,113.3 1286.5,113.3 1286.5,115.8 1283.2,115.8 1283.2,118.3 1280.7,118.3 1280.7,121.7 1279.0,121.7 1279.0,125.0 1278.2,125.0 1278.2,127.5 1274.0,127.5 1274.0,130.0 1267.3,130.0 1267.3,133.3 1261.5,133.3 1261.5,135.8 1252.3,135.8 1252.3,138.3 1246.5,138.3 1246.5,141.7 1244.0,141.7 1244.0,144.2 1234.8,144.2 1234.8,145.8 1227.3,145.8 1227.3,148.3 1219.0,148.3 1219.0,151.3 1210.7,151.3 1210.7,153.3 1212.3,153.3 1212.3,157.5 1211.5,157.5 1211.5,160.0 1213.2,160.0 1213.2,162.5 1219.3,162.5 1219.3,164.7 1214.8,164.7 1214.8,166.7 1219.8,166.7 1219.8,169.2 1224.0,169.2 1224.0,171.7 1230.7,171.7 1230.7,173.3 1233.2,173.3 1233.2,175.8 1242.3,175.8 1242.3,178.3 1256.5,178.3 1256.5,180.8 1262.3,180.8 1262.3,182.5 1272.3,182.5 1272.3,185.0 1278.2,185.0 1278.2,187.5 1284.0,187.5 1284.0,190.0 1288.2,190.0 1288.2,191.7 1292.3,191.7 1292.3,194.2 1295.7,194.2 1295.7,196.7 1299.0,196.7 1299.0,198.3 1303.2,198.3 1303.2,200.8 1304.3,200.8 1304.3,203.3 1305.3,203.3 1305.3,205.8 1306.5,205.8 1306.5,207.5 1307.3,207.5 1307.3,273.5" fill="none" stroke="#ff0000" stroke-width="1.39" stroke-linejoin="miter"/>
</g>
<rect x="1144.5" y="45.5" width="163.0" height="223.0" fill="none" stroke="#000" stroke-width="1.1"/>
<clipPath id="c6"><rect x="1356.5" y="45.5" width="164.0" height="223.0"/></clipPath>
<g clip-path="url(#c6)">
<path d="M1363.6,43.6 1364.1,43.6 1364.1,171.2 1364.6,171.2 1364.6,43.4 1365.1,43.4 1365.1,171.5 1365.6,171.5 1365.6,43.5 1366.1,43.5 1366.1,171.5 1366.6,171.5 1366.6,42.2 1367.1,42.2 1367.1,171.5 1367.6,171.5 1367.6,44.0 1368.1,44.0 1368.1,171.4 1368.6,171.4 1368.6,43.7 1369.1,43.7 1369.1,171.4 1369.6,171.4 1369.6,44.2 1370.1,44.2 1370.1,171.5 1370.6,171.5 1370.6,41.5 1371.1,41.5 1371.1,171.4 1371.6,171.4 1371.6,42.1 1372.1,42.1 1372.1,169.9 1372.6,169.9 1372.6,44.1 1373.1,44.1 1373.1,170.8 1373.6,170.8 1373.6,43.3 1374.1,43.3 1374.1,171.4 1374.6,171.4 1374.6,42.5 1375.1,42.5 1375.1,171.4 1375.6,171.4 1375.6,41.9 1376.1,41.9 1376.1,171.5 1376.6,171.5 1376.6,44.3 1377.1,44.3 1377.1,171.4 1377.6,171.4 1377.6,43.4 1378.1,43.4 1378.1,171.0 1378.6,171.0 1378.6,43.0 1379.1,43.0 1379.1,171.0 1379.6,171.0 1379.6,43.2 1380.1,43.2 1380.1,170.6 1380.6,170.6 1380.6,43.1 1381.1,43.1 1381.1,171.5 1381.6,171.5 1381.6,41.5 1382.1,41.5 1382.1,171.1 1382.6,171.1 1382.6,41.6 1383.1,41.6 1383.1,171.5 1383.6,171.5 1383.7,43.5 1384.2,43.5 1384.2,171.4 1384.7,171.4 1384.7,42.7 1385.2,42.7 1385.2,171.5 1385.7,171.5 1385.7,44.1 1386.2,44.1 1386.2,171.5 1386.7,171.5 1386.7,43.3 1387.2,43.3 1387.2,171.5 1387.7,171.5 1387.7,43.4 1388.2,43.4 1388.2,171.3 1388.7,171.3 1388.7,43.0 1389.2,43.0 1389.2,171.5 1389.7,171.5 1389.7,43.9 1390.2,43.9 1390.2,171.5 1390.7,171.5 1390.7,41.7 1391.2,41.7 1391.2,171.5 1391.7,171.5 1391.7,42.1 1392.2,42.1 1392.2,170.4 1392.7,170.4 1392.7,44.0 1393.2,44.0 1393.2,171.5 1393.7,171.5 1393.7,44.2 1394.2,44.2 1394.2,171.4 1394.7,171.4 1394.7,43.1 1395.2,43.1 1395.2,171.4 1395.7,171.4 1395.7,41.8 1396.2,41.8 1396.2,171.5 1396.7,171.5 1396.7,43.3 1397.2,43.3 1397.2,171.4 1397.7,171.4 1397.7,44.2 1398.2,44.2 1398.2,171.5 1398.7,171.5 1398.7,42.4 1399.2,42.4 1399.2,171.5 1399.7,171.5 1399.7,41.5 1400.2,41.5 1400.2,171.5 1400.7,171.5 1400.7,43.3 1401.2,43.3 1401.2,171.5 1401.7,171.5 1401.7,43.3 1402.2,43.3 1402.2,171.5 1402.7,171.5 1402.8,43.3 1403.3,43.3 1403.3,171.3 1403.8,171.3 1403.8,42.8 1404.3,42.8 1404.3,171.5 1404.8,171.5 1404.8,43.7 1405.3,43.7 1405.3,171.4 1405.8,171.4 1405.8,42.7 1406.3,42.7 1406.3,171.5 1406.8,171.5 1406.8,41.9 1407.3,41.9 1407.3,171.3 1407.8,171.3 1407.8,41.8 1408.3,41.8 1408.3,171.3 1408.8,171.3 1408.8,42.1 1409.3,42.1 1409.3,171.1 1409.8,171.1 1409.8,41.5 1410.3,41.5 1410.3,171.5 1410.8,171.5 1410.8,43.3 1411.3,43.3 1411.3,171.5 1411.8,171.5 1411.8,49.1 1412.3,49.1 1412.3,171.5 1412.8,171.5 1412.8,44.2 1413.3,44.2 1413.3,171.5 1413.8,171.5 1413.8,49.7 1414.3,49.7 1414.3,171.5 1414.8,171.5 1414.8,51.3 1415.3,51.3 1415.3,171.5 1415.8,171.5 1415.8,64.5 1416.3,64.5 1416.3,171.5 1416.8,171.5 1416.8,69.0 1417.3,69.0 1417.3,171.4 1417.8,171.4 1417.8,70.6 1418.3,70.6 1418.3,171.3 1418.8,171.3 1418.8,75.7 1419.3,75.7 1419.3,171.4 1419.8,171.4 1419.8,77.3 1420.3,77.3 1420.3,171.5 1420.8,171.5 1420.8,78.3 1421.3,78.3 1421.3,171.5 1421.8,171.5 1421.8,75.7 1422.3,75.7 1422.3,171.5 1422.8,171.5 1422.9,67.3 1423.4,67.3 1423.4,170.6 1423.9,170.6 1423.9,64.7 1424.4,64.7 1424.4,171.5 1424.9,171.5 1424.9,63.2 1425.4,63.2 1425.4,171.2 1425.9,171.2 1425.9,60.0 1426.4,60.0 1426.4,171.4 1426.9,171.4 1426.9,59.9 1427.4,59.9 1427.4,171.2 1427.9,171.2 1427.9,43.3 1428.4,43.3 1428.4,171.3 1428.9,171.3 1428.9,55.2 1429.4,55.2 1429.4,171.4 1429.9,171.4 1429.9,62.2 1430.4,62.2 1430.4,171.5 1430.9,171.5 1430.9,62.9 1431.4,62.9 1431.4,171.3 1431.9,171.3 1431.9,60.8 1432.4,60.8 1432.4,171.4 1432.9,171.4 1432.9,55.5 1433.4,55.5 1433.4,171.5 1433.9,171.5 1433.9,43.0 1434.4,43.0 1434.4,171.5 1434.9,171.5 1434.9,59.7 1435.4,59.7 1435.4,171.5 1435.9,171.5 1435.9,65.5 1436.4,65.5 1436.4,171.5 1436.9,171.5 1436.9,65.1 1437.4,65.1 1437.4,171.5 1437.9,171.5 1437.9,65.7 1438.4,65.7 1438.4,170.9 1438.9,170.9 1438.9,64.5 1439.4,64.5 1439.4,171.3 1439.9,171.3 1439.9,61.7 1440.4,61.7 1440.4,171.4 1440.9,171.4 1440.9,72.1 1441.4,72.1 1441.4,171.3 1441.9,171.3 1442.0,72.5 1442.5,72.5 1442.5,171.3 1443.0,171.3 1443.0,89.8 1443.5,89.8 1443.5,171.5 1444.0,171.5 1444.0,96.5 1444.5,96.5 1444.5,171.4 1445.0,171.4 1445.0,92.1 1445.5,92.1 1445.5,171.4 1446.0,171.4 1446.0,54.2 1446.5,54.2 1446.5,170.3 1447.0,170.3 1447.0,72.1 1447.5,72.1 1447.5,171.4 1448.0,171.4 1448.0,81.6 1448.5,81.6 1448.5,171.4 1449.0,171.4 1449.0,81.3 1449.5,81.3 1449.5,171.5 1450.0,171.5 1450.0,79.2 1450.5,79.2 1450.5,171.4 1451.0,171.4 1451.0,80.5 1451.5,80.5 1451.5,171.5 1452.0,171.5 1452.0,75.8 1452.5,75.8 1452.5,171.4 1453.0,171.4 1453.0,74.4 1453.5,74.4 1453.5,171.5 1454.0,171.5 1454.0,65.2 1454.5,65.2 1454.5,171.4 1455.0,171.4 1455.0,57.5 1455.5,57.5 1455.5,171.0 1456.0,171.0 1456.0,60.6 1456.5,60.6 1456.5,171.5 1457.0,171.5 1457.0,58.4 1457.5,58.4 1457.5,171.3 1458.0,171.3 1458.0,67.6 1458.5,67.6 1458.5,171.5 1459.0,171.5 1459.0,73.7 1459.5,73.7 1459.5,171.5 1460.0,171.5 1460.0,73.1 1460.5,73.1 1460.5,171.5 1461.0,171.5 1461.0,71.3 1461.5,71.3 1461.5,171.5 1462.0,171.5 1462.1,66.8 1462.6,66.8 1462.6,171.5 1463.1,171.5 1463.1,64.2 1463.6,64.2 1463.6,171.3 1464.1,171.3 1464.1,103.5 1464.6,103.5 1464.6,171.5 1465.1,171.5 1465.1,101.4 1465.6,101.4 1465.6,170.5 1466.1,170.5 1466.1,94.9 1466.6,94.9 1466.6,171.0 1467.1,171.0 1467.1,99.2 1467.6,99.2 1467.6,171.5 1468.1,171.5 1468.1,101.7 1468.6,101.7 1468.6,171.5 1469.1,171.5 1469.1,99.9 1469.6,99.9 1469.6,171.5 1470.1,171.5 1470.1,89.8 1470.6,89.8 1470.6,171.5 1471.1,171.5 1471.1,75.3 1471.6,75.3 1471.6,171.3 1472.1,171.3 1472.1,75.0 1472.6,75.0 1472.6,170.7 1473.1,170.7 1473.1,72.1 1473.6,72.1 1473.6,171.3 1474.1,171.3 1474.1,69.0 1474.6,69.0 1474.6,171.5 1475.1,171.5 1475.1,68.3 1475.6,68.3 1475.6,171.5 1476.1,171.5 1476.1,86.9 1476.6,86.9 1476.6,171.4 1477.1,171.4 1477.1,88.7 1477.6,88.7 1477.6,171.5 1478.1,171.5 1478.1,88.2 1478.6,88.2 1478.6,171.4 1479.1,171.4 1479.1,85.8 1479.6,85.8 1479.6,171.1 1480.1,171.1 1480.1,79.1 1480.6,79.1 1480.6,171.1 1481.1,171.1 1481.2,68.3 1481.7,68.3 1481.7,170.6 1482.2,170.6 1482.2,82.7 1482.7,82.7 1482.7,171.0 1483.2,171.0 1483.2,85.9 1483.7,85.9 1483.7,171.5 1484.2,171.5 1484.2,90.5 1484.7,90.5 1484.7,169.7 1485.2,169.7 1485.2,92.2 1485.7,92.2 1485.7,171.5 1486.2,171.5 1486.2,93.3 1486.7,93.3 1486.7,171.5 1487.2,171.5 1487.2,96.8 1487.7,96.8 1487.7,171.4 1488.2,171.4 1488.2,98.4 1488.7,98.4 1488.7,171.5 1489.2,171.5 1489.2,100.0 1489.7,100.0 1489.7,171.4 1490.2,171.4 1490.2,102.3 1490.7,102.3 1490.7,171.5 1491.2,171.5 1491.2,104.3 1491.7,104.3 1491.7,171.5 1492.2,171.5 1492.2,104.6 1492.7,104.6 1492.7,171.3 1493.2,171.3 1493.2,104.0 1493.7,104.0 1493.7,171.5 1494.2,171.5 1494.2,100.0 1494.7,100.0 1494.7,171.5 1495.2,171.5 1495.2,84.2 1495.7,84.2 1495.7,171.5 1496.2,171.5 1496.2,102.0 1496.7,102.0 1496.7,171.4 1497.2,171.4 1497.2,108.9 1497.7,108.9 1497.7,170.6 1498.2,170.6 1498.2,115.5 1498.7,115.5 1498.7,171.5 1499.2,171.5 1499.2,118.5 1499.7,118.5 1499.7,171.4 1500.2,171.4 1500.3,118.1 1500.8,118.1 1500.8,171.3 1501.3,171.3 1501.3,114.7 1501.8,114.7 1501.8,171.5 1502.3,171.5 1502.3,105.0 1502.8,105.0 1502.8,171.4 1503.3,171.4 1503.3,124.9 1503.8,124.9 1503.8,171.2 1504.3,171.2 1504.3,127.3 1504.8,127.3 1504.8,171.5 1505.3,171.5 1505.3,130.1 1505.8,130.1 1505.8,171.0 1506.3,171.0 1506.3,126.5 1506.8,126.5 1506.8,171.5 1507.3,171.5 1507.3,132.7 1507.8,132.7 1507.8,171.5 1508.3,171.5 1508.3,132.1 1508.8,132.1 1508.8,171.5 1509.3,171.5 1509.3,130.6 1509.8,130.6 1509.8,171.5 1510.3,171.5 1510.3,115.0 1510.8,115.0 1510.8,171.5 1511.3,171.5 1511.3,121.3 1511.8,121.3 1511.8,171.4 1512.3,171.4 1512.3,125.9 1512.8,125.9 1512.8,171.3 1513.3,171.3" fill="none" stroke="#0000ff" stroke-width="2.08" stroke-linejoin="round" stroke-linecap="butt"/>
<line x1="1356.5" x2="1520.5" y1="174.76" y2="174.76" stroke="#ff0000" stroke-width="1.39"/>
<line x1="1423.61" x2="1512.76" y1="90.59" y2="90.59" stroke="#000" stroke-width="2.78" stroke-dasharray="2.78 4.58"/>
<line x1="1423.61" x2="1512.76" y1="173.42" y2="173.42" stroke="#000" stroke-width="2.78" stroke-dasharray="2.78 4.58"/>
<line x1="1423.61" x2="1512.76" y1="134.42" y2="134.42" stroke="#000" stroke-width="2.78"/>
<line x1="1423.61" x2="1512.76" y1="179.33" y2="179.33" stroke="#000" stroke-width="2.78"/>
<line x1="1423.61" x2="1512.76" y1="155.94" y2="155.94" stroke="#ff0000" stroke-width="2.08"/>
</g>
<line x1="1351.64" x2="1356.5" y1="48.5" y2="48.5" stroke="#000" stroke-width="1.1"/>
<text x="1345.76" y="53.67" text-anchor="end" font-size="13.89" textLength="16.61" lengthAdjust="spacingAndGlyphs">54</text>
<line x1="1351.64" x2="1356.5" y1="77.5" y2="77.5" stroke="#000" stroke-width="1.1"/>
<text x="1345.76" y="82.71" text-anchor="end" font-size="13.89" textLength="16.61" lengthAdjust="spacingAndGlyphs">53</text>
<line x1="1351.64" x2="1356.5" y1="106.5" y2="106.5" stroke="#000" stroke-width="1.1"/>
<text x="1345.76" y="111.76" text-anchor="end" font-size="13.89" textLength="16.61" lengthAdjust="spacingAndGlyphs">52</text>
<line x1="1351.64" x2="1356.5" y1="135.5" y2="135.5" stroke="#000" stroke-width="1.1"/>
<text x="1345.76" y="140.80" text-anchor="end" font-size="13.89" textLength="16.61" lengthAdjust="spacingAndGlyphs">51</text>
<line x1="1351.64" x2="1356.5" y1="164.5" y2="164.5" stroke="#000" stroke-width="1.1"/>
<text x="1345.76" y="169.84" text-anchor="end" font-size="13.89" textLength="16.61" lengthAdjust="spacingAndGlyphs">50</text>
<line x1="1351.64" x2="1356.5" y1="193.5" y2="193.5" stroke="#000" stroke-width="1.1"/>
<text x="1345.76" y="198.89" text-anchor="end" font-size="13.89" textLength="16.61" lengthAdjust="spacingAndGlyphs">49</text>
<line x1="1351.64" x2="1356.5" y1="222.5" y2="222.5" stroke="#000" stroke-width="1.1"/>
<text x="1345.76" y="227.66" text-anchor="end" font-size="13.89" textLength="16.61" lengthAdjust="spacingAndGlyphs">48</text>
<line x1="1351.64" x2="1356.5" y1="251.5" y2="251.5" stroke="#000" stroke-width="1.1"/>
<text x="1345.76" y="256.70" text-anchor="end" font-size="13.89" textLength="16.61" lengthAdjust="spacingAndGlyphs">47</text>
<line x1="1363.5" x2="1363.5" y1="268.5" y2="273.36" stroke="#000" stroke-width="1.1"/>
<text x="1364.30" y="287.65" text-anchor="middle" font-size="13.89" textLength="8.44" lengthAdjust="spacingAndGlyphs">0</text>
<line x1="1438.5" x2="1438.5" y1="268.5" y2="273.36" stroke="#000" stroke-width="1.1"/>
<text x="1439.36" y="287.65" text-anchor="middle" font-size="13.89" textLength="33.76" lengthAdjust="spacingAndGlyphs">2950</text>
<text x="1438.18" y="36.67" text-anchor="middle" font-size="13.89" textLength="61.17" lengthAdjust="spacingAndGlyphs">incl(deg)</text>
<g clip-path="url(#c6)">
<path d="M1520.3,40.5 1520.3,50.0 1520.0,50.0 1520.0,57.5 1519.7,57.5 1519.7,61.7 1519.2,61.7 1519.2,79.2 1518.3,79.2 1518.3,83.3 1516.7,83.3 1516.7,93.3 1515.0,93.3 1515.0,96.7 1514.2,96.7 1514.2,100.8 1511.7,100.8 1511.7,106.7 1512.5,106.7 1512.5,109.2 1511.7,109.2 1511.7,113.3 1510.3,113.3 1510.3,116.7 1509.2,116.7 1509.2,119.7 1506.7,119.7 1506.7,121.7 1501.7,121.7 1501.7,125.0 1498.3,125.0 1498.3,128.3 1497.5,128.3 1497.5,130.8 1492.5,130.8 1492.5,133.3 1490.8,133.3 1490.8,136.7 1492.5,136.7 1492.5,140.0 1491.7,140.0 1491.7,142.5 1486.7,142.5 1486.7,145.0 1485.0,145.0 1485.0,146.7 1477.5,146.7 1477.5,150.8 1475.8,150.8 1475.8,153.0 1471.7,153.0 1471.7,155.0 1468.3,155.0 1468.3,156.7 1462.5,156.7 1462.5,158.0 1455.0,158.0 1455.0,160.3 1450.0,160.3 1450.0,162.5 1445.0,162.5 1445.0,164.2 1435.8,164.2 1435.8,166.7 1422.5,166.7 1422.5,169.7 1428.3,169.7 1428.3,171.7 1462.5,171.7 1462.5,173.3 1504.2,173.3 1504.2,175.0 1520.3,175.0 1520.3,273.5" fill="none" stroke="#ff0000" stroke-width="1.39" stroke-linejoin="miter"/>
</g>
<rect x="1356.5" y="45.5" width="164.0" height="223.0" fill="none" stroke="#000" stroke-width="1.1"/>
<clipPath id="c7"><rect x="80.5" y="339.5" width="164.0" height="222.0"/></clipPath>
<g clip-path="url(#c7)">
<path d="M87.2,335.5 87.7,335.5 87.7,476.8 88.2,476.8 88.2,335.5 88.7,335.5 88.7,475.9 89.2,475.9 89.2,335.5 89.7,335.5 89.7,476.8 90.2,476.8 90.2,335.5 90.7,335.5 90.7,476.4 91.2,476.4 91.2,335.5 91.7,335.5 91.7,476.8 92.2,476.8 92.2,336.1 92.7,336.1 92.7,476.7 93.2,476.7 93.2,335.6 93.7,335.6 93.7,476.7 94.2,476.7 94.2,335.5 94.7,335.5 94.7,476.2 95.2,476.2 95.2,335.5 95.7,335.5 95.7,475.9 96.2,475.9 96.2,335.5 96.7,335.5 96.7,476.1 97.2,476.1 97.2,335.7 97.7,335.7 97.7,476.6 98.2,476.6 98.2,335.6 98.7,335.6 98.7,476.6 99.2,476.6 99.2,335.5 99.7,335.5 99.7,476.3 100.2,476.3 100.3,335.5 100.8,335.5 100.8,476.8 101.3,476.8 101.3,335.5 101.8,335.5 101.8,476.6 102.3,476.6 102.3,335.7 102.8,335.7 102.8,476.5 103.3,476.5 103.3,335.7 103.8,335.7 103.8,474.8 104.3,474.8 104.3,335.5 104.8,335.5 104.8,476.6 105.3,476.6 105.3,335.5 105.8,335.5 105.8,473.5 106.3,473.5 106.3,335.5 106.8,335.5 106.8,476.2 107.3,476.2 107.3,335.5 107.8,335.5 107.8,475.8 108.3,475.8 108.3,335.6 108.8,335.6 108.8,476.4 109.3,476.4 109.3,335.5 109.8,335.5 109.8,476.1 110.3,476.1 110.3,335.5 110.8,335.5 110.8,476.8 111.3,476.8 111.3,335.7 111.8,335.7 111.8,476.4 112.3,476.4 112.3,335.5 112.8,335.5 112.8,476.7 113.3,476.7 113.3,335.5 113.8,335.5 113.8,476.8 114.3,476.8 114.3,335.5 114.8,335.5 114.8,476.6 115.3,476.6 115.3,335.7 115.8,335.7 115.8,475.5 116.3,475.5 116.3,335.5 116.8,335.5 116.8,473.4 117.3,473.4 117.3,335.5 117.8,335.5 117.8,465.5 118.3,465.5 118.3,335.6 118.8,335.6 118.8,476.7 119.3,476.7 119.4,335.8 119.9,335.8 119.9,473.5 120.4,473.5 120.4,335.5 120.9,335.5 120.9,476.1 121.4,476.1 121.4,335.6 121.9,335.6 121.9,475.1 122.4,475.1 122.4,335.5 122.9,335.5 122.9,476.1 123.4,476.1 123.4,335.5 123.9,335.5 123.9,476.6 124.4,476.6 124.4,335.5 124.9,335.5 124.9,476.0 125.4,476.0 125.4,335.5 125.9,335.5 125.9,476.7 126.4,476.7 126.4,335.5 126.9,335.5 126.9,476.6 127.4,476.6 127.4,335.5 127.9,335.5 127.9,476.2 128.4,476.2 128.4,335.5 128.9,335.5 128.9,476.5 129.4,476.5 129.4,335.5 129.9,335.5 129.9,476.8 130.4,476.8 130.4,335.5 130.9,335.5 130.9,476.8 131.4,476.8 131.4,335.5 131.9,335.5 131.9,474.8 132.4,474.8 132.4,335.5 132.9,335.5 132.9,476.7 133.4,476.7 133.4,335.5 133.9,335.5 133.9,476.0 134.4,476.0 134.4,335.8 134.9,335.8 134.9,475.9 135.4,475.9 135.4,335.5 135.9,335.5 135.9,472.9 136.4,472.9 136.4,335.5 136.9,335.5 136.9,476.3 137.4,476.3 137.4,335.5 137.9,335.5 137.9,476.6 138.4,476.6 138.5,335.5 139.0,335.5 139.0,474.5 139.5,474.5 139.5,335.5 140.0,335.5 140.0,476.5 140.5,476.5 140.5,335.5 141.0,335.5 141.0,474.9 141.5,474.9 141.5,335.6 142.0,335.6 142.0,476.3 142.5,476.3 142.5,336.1 143.0,336.1 143.0,476.8 143.5,476.8 143.5,335.5 144.0,335.5 144.0,476.8 144.5,476.8 144.5,335.5 145.0,335.5 145.0,476.8 145.5,476.8 145.5,335.5 146.0,335.5 146.0,476.5 146.5,476.5 146.5,335.8 147.0,335.8 147.0,476.6 147.5,476.6 147.5,335.5 148.0,335.5 148.0,470.9 148.5,470.9 148.5,335.5 149.0,335.5 149.0,474.5 149.5,474.5 149.5,335.5 150.0,335.5 150.0,476.0 150.5,476.0 150.5,335.5 151.0,335.5 151.0,476.6 151.5,476.6 151.5,335.5 152.0,335.5 152.0,476.0 152.5,476.0 152.5,335.5 153.0,335.5 153.0,476.7 153.5,476.7 153.5,335.5 154.0,335.5 154.0,473.7 154.5,473.7 154.5,335.5 155.0,335.5 155.0,474.1 155.5,474.1 155.5,335.5 156.0,335.5 156.0,476.6 156.5,476.6 156.5,335.5 157.0,335.5 157.0,476.7 157.5,476.7 157.5,335.5 158.0,335.5 158.0,476.6 158.5,476.6 158.6,335.5 159.1,335.5 159.1,476.8 159.6,476.8 159.6,335.5 160.1,335.5 160.1,476.8 160.6,476.8 160.6,335.5 161.1,335.5 161.1,473.4 161.6,473.4 161.6,335.7 162.1,335.7 162.1,471.7 162.6,471.7 162.6,335.5 163.1,335.5 163.1,476.8 163.6,476.8 163.6,335.6 164.1,335.6 164.1,476.7 164.6,476.7 164.6,335.5 165.1,335.5 165.1,475.7 165.6,475.7 165.6,335.5 166.1,335.5 166.1,475.4 166.6,475.4 166.6,335.5 167.1,335.5 167.1,474.9 167.6,474.9 167.6,335.5 168.1,335.5 168.1,476.8 168.6,476.8 168.6,335.5 169.1,335.5 169.1,476.7 169.6,476.7 169.6,335.5 170.1,335.5 170.1,476.4 170.6,476.4 170.6,335.5 171.1,335.5 171.1,476.8 171.6,476.8 171.6,335.5 172.1,335.5 172.1,476.7 172.6,476.7 172.6,335.5 173.1,335.5 173.1,476.7 173.6,476.7 173.6,335.5 174.1,335.5 174.1,476.3 174.6,476.3 174.6,335.5 175.1,335.5 175.1,476.8 175.6,476.8 175.6,335.5 176.1,335.5 176.1,476.8 176.6,476.8 176.6,335.5 177.1,335.5 177.1,476.7 177.6,476.7 177.7,335.5 178.2,335.5 178.2,476.8 178.7,476.8 178.7,335.5 179.2,335.5 179.2,476.0 179.7,476.0 179.7,335.5 180.2,335.5 180.2,476.4 180.7,476.4 180.7,335.9 181.2,335.9 181.2,476.8 181.7,476.8 181.7,335.5 182.2,335.5 182.2,476.6 182.7,476.6 182.7,335.7 183.2,335.7 183.2,476.4 183.7,476.4 183.7,335.5 184.2,335.5 184.2,476.7 184.7,476.7 184.7,335.5 185.2,335.5 185.2,476.7 185.7,476.7 185.7,335.5 186.2,335.5 186.2,476.6 186.7,476.6 186.7,335.5 187.2,335.5 187.2,473.1 187.7,473.1 187.7,336.4 188.2,336.4 188.2,476.4 188.7,476.4 188.7,335.5 189.2,335.5 189.2,476.8 189.7,476.8 189.7,336.1 190.2,336.1 190.2,476.6 190.7,476.6 190.7,335.5 191.2,335.5 191.2,476.4 191.7,476.4 191.7,335.6 192.2,335.6 192.2,472.0 192.7,472.0 192.7,335.5 193.2,335.5 193.2,476.6 193.7,476.6 193.7,335.5 194.2,335.5 194.2,476.8 194.7,476.8 194.7,335.5 195.2,335.5 195.2,472.0 195.7,472.0 195.7,335.5 196.2,335.5 196.2,470.4 196.7,470.4 196.7,335.5 197.2,335.5 197.2,476.5 197.7,476.5 197.8,335.5 198.3,335.5 198.3,476.6 198.8,476.6 198.8,335.6 199.3,335.6 199.3,473.0 199.8,473.0 199.8,335.5 200.3,335.5 200.3,476.8 200.8,476.8 200.8,335.5 201.3,335.5 201.3,476.8 201.8,476.8 201.8,335.7 202.3,335.7 202.3,475.2 202.8,475.2 202.8,335.5 203.3,335.5 203.3,472.8 203.8,472.8 203.8,335.5 204.3,335.5 204.3,476.0 204.8,476.0 204.8,335.5 205.3,335.5 205.3,476.2 205.8,476.2 205.8,335.5 206.3,335.5 206.3,476.5 206.8,476.5 206.8,335.5 207.3,335.5 207.3,476.3 207.8,476.3 207.8,335.5 208.3,335.5 208.3,474.9 208.8,474.9 208.8,335.5 209.3,335.5 209.3,475.0 209.8,475.0 209.8,335.5 210.3,335.5 210.3,475.4 210.8,475.4 210.8,335.5 211.3,335.5 211.3,476.0 211.8,476.0 211.8,335.5 212.3,335.5 212.3,474.8 212.8,474.8 212.8,335.5 213.3,335.5 213.3,475.9 213.8,475.9 213.8,335.5 214.3,335.5 214.3,474.4 214.8,474.4 214.8,335.5 215.3,335.5 215.3,472.9 215.8,472.9 215.8,335.6 216.3,335.6 216.3,468.6 216.8,468.6 216.9,335.5 217.4,335.5 217.4,467.3 217.9,467.3 217.9,335.5 218.4,335.5 218.4,467.2 218.9,467.2 218.9,335.6 219.4,335.6 219.4,459.9 219.9,459.9 219.9,335.5 220.4,335.5 220.4,466.5 220.9,466.5 220.9,335.5 221.4,335.5 221.4,466.4 221.9,466.4 221.9,335.5 222.4,335.5 222.4,465.8 222.9,465.8 222.9,335.5 223.4,335.5 223.4,464.2 223.9,464.2 223.9,335.6 224.4,335.6 224.4,463.0 224.9,463.0 224.9,335.5 225.4,335.5 225.4,460.5 225.9,460.5 225.9,335.5 226.4,335.5 226.4,461.0 226.9,461.0 226.9,335.5 227.4,335.5 227.4,463.7 227.9,463.7 227.9,335.8 228.4,335.8 228.4,465.3 228.9,465.3 228.9,335.5 229.4,335.5 229.4,465.4 229.9,465.4 229.9,335.8 230.4,335.8 230.4,463.2 230.9,463.2 230.9,335.6 231.4,335.6 231.4,461.6 231.9,461.6 231.9,335.5 232.4,335.5 232.4,461.0 232.9,461.0 232.9,335.7 233.4,335.7 233.4,462.4 233.9,462.4 233.9,335.5 234.4,335.5 234.4,462.0 234.9,462.0 234.9,335.5 235.4,335.5 235.4,463.0 235.9,463.0 235.9,335.5 236.4,335.5 236.4,468.2 236.9,468.2" fill="none" stroke="#0000ff" stroke-width="2.08" stroke-linejoin="round" stroke-linecap="butt"/>
<rect x="231.5" y="330.0" width="1.9" height="100.0" fill="#fff"/>
<line x1="147.25" x2="236.40" y1="470.38" y2="470.38" stroke="#000" stroke-width="2.78" stroke-dasharray="2.78 4.58"/>
<line x1="147.25" x2="236.40" y1="428.42" y2="428.42" stroke="#000" stroke-width="2.78"/>
<line x1="147.25" x2="236.40" y1="472.53" y2="472.53" stroke="#000" stroke-width="2.78"/>
<line x1="147.25" x2="236.40" y1="449.94" y2="449.94" stroke="#ff0000" stroke-width="2.08"/>
</g>
<line x1="75.64" x2="80.5" y1="384.5" y2="384.5" stroke="#000" stroke-width="1.1"/>
<text x="69.40" y="389.89" text-anchor="end" font-size="13.89" textLength="16.61" lengthAdjust="spacingAndGlyphs">40</text>
<line x1="75.64" x2="80.5" y1="430.5" y2="430.5" stroke="#000" stroke-width="1.1"/>
<text x="69.40" y="435.88" text-anchor="end" font-size="13.89" textLength="16.61" lengthAdjust="spacingAndGlyphs">20</text>
<line x1="75.64" x2="80.5" y1="476.5" y2="476.5" stroke="#000" stroke-width="1.1"/>
<text x="69.40" y="481.86" text-anchor="end" font-size="13.89" textLength="8.31" lengthAdjust="spacingAndGlyphs">0</text>
<line x1="75.64" x2="80.5" y1="523.5" y2="523.5" stroke="#000" stroke-width="1.1"/>
<text x="69.40" y="528.38" text-anchor="end" font-size="13.89" textLength="27.55" lengthAdjust="spacingAndGlyphs">−20</text>
<line x1="87.5" x2="87.5" y1="561.5" y2="566.36" stroke="#000" stroke-width="1.1"/>
<text x="87.94" y="581.38" text-anchor="middle" font-size="13.89" textLength="8.44" lengthAdjust="spacingAndGlyphs">0</text>
<line x1="162.5" x2="162.5" y1="561.5" y2="566.36" stroke="#000" stroke-width="1.1"/>
<text x="163.00" y="581.38" text-anchor="middle" font-size="13.89" textLength="33.76" lengthAdjust="spacingAndGlyphs">2950</text>
<text x="161.82" y="331.01" text-anchor="middle" font-size="13.89" textLength="54.00" lengthAdjust="spacingAndGlyphs">PA(deg)</text>
<g clip-path="url(#c7)">
<path d="M244.3,334.5 244.3,365.0 244.3,365.0 244.3,367.6 243.0,367.6 243.0,379.7 244.3,379.7 244.3,402.1 243.3,402.1 243.3,408.0 241.9,408.0 241.9,415.5 238.4,415.5 238.4,418.7 234.4,418.7 234.4,420.9 231.2,420.9 231.2,424.1 227.7,424.1 227.7,425.7 221.5,425.7 221.5,428.4 215.6,428.4 215.6,430.6 204.8,430.6 204.8,433.3 192.7,433.3 192.7,436.0 179.2,436.0 179.2,438.6 164.5,438.6 164.5,440.8 148.3,440.8 148.3,442.4 142.4,442.4 142.4,445.6 144.0,445.6 144.0,448.3 147.2,448.3 147.2,451.6 155.0,451.6 155.0,453.2 169.8,453.2 169.8,456.9 186.0,456.9 186.0,459.6 202.1,459.6 202.1,462.3 212.9,462.3 212.9,465.0 218.2,465.0 218.2,467.7 224.2,467.7 224.2,470.4 227.7,470.4 227.7,473.6 229.0,473.6 229.0,475.8 233.0,475.8 233.0,477.4 242.4,477.4 242.4,478.7 244.3,478.7 244.3,566.5" fill="none" stroke="#ff0000" stroke-width="1.39" stroke-linejoin="miter"/>
</g>
<rect x="80.5" y="339.5" width="164.0" height="222.0" fill="none" stroke="#000" stroke-width="1.1"/>
<clipPath id="c8"><rect x="293.5" y="339.5" width="163.0" height="222.0"/></clipPath>
<g clip-path="url(#c8)">
<path d="M299.9,349.1 300.4,349.1 300.4,468.6 300.9,468.6 300.9,344.0 301.4,344.0 301.4,468.6 301.9,468.6 301.9,348.6 302.4,348.6 302.4,468.8 302.9,468.8 302.9,354.4 303.4,354.4 303.4,468.6 303.9,468.6 303.9,353.4 304.4,353.4 304.4,468.1 304.9,468.1 304.9,350.2 305.4,350.2 305.4,468.5 305.9,468.5 305.9,342.4 306.4,342.4 306.4,468.8 306.9,468.8 307.0,357.3 307.5,357.3 307.5,468.6 308.0,468.6 308.0,359.4 308.5,359.4 308.5,468.7 309.0,468.7 309.0,358.1 309.5,358.1 309.5,468.8 310.0,468.8 310.0,344.8 310.5,344.8 310.5,468.2 311.0,468.2 311.0,352.8 311.5,352.8 311.5,468.8 312.0,468.8 312.0,354.4 312.5,354.4 312.5,468.7 313.0,468.7 313.0,354.2 313.5,354.2 313.5,468.7 314.0,468.7 314.0,345.7 314.5,345.7 314.5,468.7 315.0,468.7 315.0,344.3 315.5,344.3 315.5,468.8 316.0,468.8 316.0,345.9 316.5,345.9 316.5,468.7 317.0,468.7 317.0,345.5 317.5,345.5 317.5,467.8 318.0,467.8 318.0,346.0 318.5,346.0 318.5,468.8 319.0,468.8 319.0,342.4 319.5,342.4 319.5,468.7 320.0,468.7 320.0,349.7 320.5,349.7 320.5,468.7 321.0,468.7 321.0,353.4 321.5,353.4 321.5,468.6 322.0,468.6 322.0,356.1 322.5,356.1 322.5,468.6 323.0,468.6 323.0,355.6 323.5,355.6 323.5,468.8 324.0,468.8 324.0,360.7 324.5,360.7 324.5,468.8 325.0,468.8 325.0,367.3 325.5,367.3 325.5,468.5 326.0,468.5 326.0,364.7 326.5,364.7 326.5,468.6 327.0,468.6 327.1,359.3 327.6,359.3 327.6,468.7 328.1,468.7 328.1,343.2 328.6,343.2 328.6,468.7 329.1,468.7 329.1,354.4 329.6,354.4 329.6,468.7 330.1,468.7 330.1,360.2 330.6,360.2 330.6,468.7 331.1,468.7 331.1,353.7 331.6,353.7 331.6,468.7 332.1,468.7 332.1,343.7 332.6,343.7 332.6,468.7 333.1,468.7 333.1,355.8 333.6,355.8 333.6,466.9 334.1,466.9 334.1,356.1 334.6,356.1 334.6,468.6 335.1,468.6 335.1,362.7 335.6,362.7 335.6,468.7 336.1,468.7 336.1,362.8 336.6,362.8 336.6,468.6 337.1,468.6 337.1,371.0 337.6,371.0 337.6,468.8 338.1,468.8 338.1,368.1 338.6,368.1 338.6,468.7 339.1,468.7 339.1,359.3 339.6,359.3 339.6,468.7 340.1,468.7 340.1,355.8 340.6,355.8 340.6,468.4 341.1,468.4 341.1,355.0 341.6,355.0 341.6,468.7 342.1,468.7 342.1,355.7 342.6,355.7 342.6,468.7 343.1,468.7 343.1,361.2 343.6,361.2 343.6,468.7 344.1,468.7 344.1,362.9 344.6,362.9 344.6,468.4 345.1,468.4 345.1,366.7 345.6,366.7 345.6,468.7 346.1,468.7 346.2,368.6 346.7,368.6 346.7,468.7 347.2,468.7 347.2,366.6 347.7,366.6 347.7,468.5 348.2,468.5 348.2,354.0 348.7,354.0 348.7,468.7 349.2,468.7 349.2,362.8 349.7,362.8 349.7,467.7 350.2,467.7 350.2,364.5 350.7,364.5 350.7,468.6 351.2,468.6 351.2,364.8 351.7,364.8 351.7,468.6 352.2,468.6 352.2,360.5 352.7,360.5 352.7,468.7 353.2,468.7 353.2,346.0 353.7,346.0 353.7,467.7 354.2,467.7 354.2,354.7 354.7,354.7 354.7,467.5 355.2,467.5 355.2,358.6 355.7,358.6 355.7,468.4 356.2,468.4 356.2,358.5 356.7,358.5 356.7,468.5 357.2,468.5 357.2,349.0 357.7,349.0 357.7,468.7 358.2,468.7 358.2,351.9 358.7,351.9 358.7,467.8 359.2,467.8 359.2,355.2 359.7,355.2 359.7,468.7 360.2,468.7 360.2,353.5 360.7,353.5 360.7,468.6 361.2,468.6 361.2,345.1 361.7,345.1 361.7,467.6 362.2,467.6 362.2,347.6 362.7,347.6 362.7,468.7 363.2,468.7 363.2,351.9 363.7,351.9 363.7,468.2 364.2,468.2 364.2,358.1 364.7,358.1 364.7,467.3 365.2,467.3 365.2,358.2 365.7,358.2 365.7,468.7 366.2,468.7 366.3,357.7 366.8,357.7 366.8,468.7 367.3,468.7 367.3,348.7 367.8,348.7 367.8,468.6 368.3,468.6 368.3,356.8 368.8,356.8 368.8,468.6 369.3,468.6 369.3,361.9 369.8,361.9 369.8,468.7 370.3,468.7 370.3,363.5 370.8,363.5 370.8,468.7 371.3,468.7 371.3,364.1 371.8,364.1 371.8,468.1 372.3,468.1 372.3,365.3 372.8,365.3 372.8,468.5 373.3,468.5 373.3,344.8 373.8,344.8 373.8,468.6 374.3,468.6 374.3,348.0 374.8,348.0 374.8,468.7 375.3,468.7 375.3,346.8 375.8,346.8 375.8,468.7 376.3,468.7 376.3,357.2 376.8,357.2 376.8,468.7 377.3,468.7 377.3,362.0 377.8,362.0 377.8,468.7 378.3,468.7 378.3,362.9 378.8,362.9 378.8,468.5 379.3,468.5 379.3,390.0 379.8,390.0 379.8,468.6 380.3,468.6 380.3,384.9 380.8,384.9 380.8,468.7 381.3,468.7 381.3,376.1 381.8,376.1 381.8,468.8 382.3,468.8 382.3,378.5 382.8,378.5 382.8,468.7 383.3,468.7 383.3,379.5 383.8,379.5 383.8,468.8 384.3,468.8 384.3,385.4 384.8,385.4 384.8,468.7 385.3,468.7 385.4,386.5 385.9,386.5 385.9,468.3 386.4,468.3 386.4,378.9 386.9,378.9 386.9,468.6 387.4,468.6 387.4,372.6 387.9,372.6 387.9,468.7 388.4,468.7 388.4,371.3 388.9,371.3 388.9,468.7 389.4,468.7 389.4,369.5 389.9,369.5 389.9,468.7 390.4,468.7 390.4,370.3 390.9,370.3 390.9,467.5 391.4,467.5 391.4,371.0 391.9,371.0 391.9,468.8 392.4,468.8 392.4,372.9 392.9,372.9 392.9,468.6 393.4,468.6 393.4,368.9 393.9,368.9 393.9,468.6 394.4,468.6 394.4,364.5 394.9,364.5 394.9,468.6 395.4,468.6 395.4,367.8 395.9,367.8 395.9,467.8 396.4,467.8 396.4,369.2 396.9,369.2 396.9,468.0 397.4,468.0 397.4,369.2 397.9,369.2 397.9,468.6 398.4,468.6 398.4,368.2 398.9,368.2 398.9,468.7 399.4,468.7 399.4,373.1 399.9,373.1 399.9,468.4 400.4,468.4 400.4,374.3 400.9,374.3 400.9,468.7 401.4,468.7 401.4,367.4 401.9,367.4 401.9,467.7 402.4,467.7 402.4,357.3 402.9,357.3 402.9,468.7 403.4,468.7 403.4,373.5 403.9,373.5 403.9,468.7 404.4,468.7 404.4,370.7 404.9,370.7 404.9,468.6 405.4,468.6 405.5,372.1 406.0,372.1 406.0,468.7 406.5,468.7 406.5,367.9 407.0,367.9 407.0,468.6 407.5,468.6 407.5,363.8 408.0,363.8 408.0,468.7 408.5,468.7 408.5,359.0 409.0,359.0 409.0,468.5 409.5,468.5 409.5,383.6 410.0,383.6 410.0,468.3 410.5,468.3 410.5,386.3 411.0,386.3 411.0,468.7 411.5,468.7 411.5,380.6 412.0,380.6 412.0,468.8 412.5,468.8 412.5,369.2 413.0,369.2 413.0,468.7 413.5,468.7 413.5,357.3 414.0,357.3 414.0,468.6 414.5,468.6 414.5,371.2 415.0,371.2 415.0,468.0 415.5,468.0 415.5,369.3 416.0,369.3 416.0,468.5 416.5,468.5 416.5,362.7 417.0,362.7 417.0,468.4 417.5,468.4 417.5,363.7 418.0,363.7 418.0,468.7 418.5,468.7 418.5,364.3 419.0,364.3 419.0,468.2 419.5,468.2 419.5,361.3 420.0,361.3 420.0,467.3 420.5,467.3 420.5,367.9 421.0,367.9 421.0,468.7 421.5,468.7 421.5,370.2 422.0,370.2 422.0,468.1 422.5,468.1 422.5,372.2 423.0,372.2 423.0,468.7 423.5,468.7 423.5,386.6 424.0,386.6 424.0,468.4 424.5,468.4 424.6,395.2 425.1,395.2 425.1,468.7 425.6,468.7 425.6,399.8 426.1,399.8 426.1,468.7 426.6,468.7 426.6,399.4 427.1,399.4 427.1,468.7 427.6,468.7 427.6,389.8 428.1,389.8 428.1,468.6 428.6,468.6 428.6,386.8 429.1,386.8 429.1,468.7 429.6,468.7 429.6,384.0 430.1,384.0 430.1,468.6 430.6,468.6 430.6,398.6 431.1,398.6 431.1,468.6 431.6,468.6 431.6,404.7 432.1,404.7 432.1,468.2 432.6,468.2 432.6,407.6 433.1,407.6 433.1,468.8 433.6,468.8 433.6,405.7 434.1,405.7 434.1,468.6 434.6,468.6 434.6,406.1 435.1,406.1 435.1,468.7 435.6,468.7 435.6,405.5 436.1,405.5 436.1,468.7 436.6,468.7 436.6,386.5 437.1,386.5 437.1,468.7 437.6,468.7 437.6,406.6 438.1,406.6 438.1,468.7 438.6,468.7 438.6,405.3 439.1,405.3 439.1,467.1 439.6,467.1 439.6,388.0 440.1,388.0 440.1,468.6 440.6,468.6 440.6,396.1 441.1,396.1 441.1,468.1 441.6,468.1 441.6,398.5 442.1,398.5 442.1,468.8 442.6,468.8 442.6,399.8 443.1,399.8 443.1,468.7 443.6,468.7 443.6,401.7 444.1,401.7 444.1,468.7 444.6,468.7 444.7,413.1 445.2,413.1 445.2,468.7 445.7,468.7 445.7,421.7 446.2,421.7 446.2,468.7 446.7,468.7 446.7,425.0 447.2,425.0 447.2,468.3 447.7,468.3 447.7,426.7 448.2,426.7 448.2,467.2 448.7,467.2 448.7,426.9 449.2,426.9 449.2,468.7 449.7,468.7" fill="none" stroke="#0000ff" stroke-width="2.08" stroke-linejoin="round" stroke-linecap="butt"/>
<line x1="293.5" x2="456.5" y1="340.22" y2="340.22" stroke="#ff0000" stroke-width="1.39"/>
<line x1="293.5" x2="456.5" y1="471.18" y2="471.18" stroke="#ff0000" stroke-width="1.39"/>
<line x1="359.98" x2="449.13" y1="383.51" y2="383.51" stroke="#000" stroke-width="2.78" stroke-dasharray="2.78 4.58"/>
<line x1="359.98" x2="449.13" y1="469.30" y2="469.30" stroke="#000" stroke-width="2.78" stroke-dasharray="2.78 4.58"/>
<line x1="359.98" x2="449.13" y1="428.42" y2="428.42" stroke="#000" stroke-width="2.78"/>
<line x1="359.98" x2="449.13" y1="472.53" y2="472.53" stroke="#000" stroke-width="2.78"/>
<line x1="359.98" x2="449.13" y1="449.94" y2="449.94" stroke="#ff0000" stroke-width="2.08"/>
</g>
<line x1="288.64" x2="293.5" y1="340.5" y2="340.5" stroke="#000" stroke-width="1.1"/>
<text x="282.13" y="345.52" text-anchor="end" font-size="13.89" textLength="16.61" lengthAdjust="spacingAndGlyphs">25</text>
<line x1="288.64" x2="293.5" y1="372.5" y2="372.5" stroke="#000" stroke-width="1.1"/>
<text x="282.13" y="377.79" text-anchor="end" font-size="13.89" textLength="16.61" lengthAdjust="spacingAndGlyphs">20</text>
<line x1="288.64" x2="293.5" y1="405.5" y2="405.5" stroke="#000" stroke-width="1.1"/>
<text x="282.13" y="410.87" text-anchor="end" font-size="13.89" textLength="16.61" lengthAdjust="spacingAndGlyphs">15</text>
<line x1="288.64" x2="293.5" y1="438.5" y2="438.5" stroke="#000" stroke-width="1.1"/>
<text x="282.13" y="443.67" text-anchor="end" font-size="13.89" textLength="16.61" lengthAdjust="spacingAndGlyphs">10</text>
<line x1="288.64" x2="293.5" y1="471.5" y2="471.5" stroke="#000" stroke-width="1.1"/>
<text x="282.13" y="476.48" text-anchor="end" font-size="13.89" textLength="8.31" lengthAdjust="spacingAndGlyphs">5</text>
<line x1="288.64" x2="293.5" y1="503.5" y2="503.5" stroke="#000" stroke-width="1.1"/>
<text x="282.13" y="509.02" text-anchor="end" font-size="13.89" textLength="8.31" lengthAdjust="spacingAndGlyphs">0</text>
<line x1="288.64" x2="293.5" y1="536.5" y2="536.5" stroke="#000" stroke-width="1.1"/>
<text x="282.13" y="541.83" text-anchor="end" font-size="13.89" textLength="19.25" lengthAdjust="spacingAndGlyphs">−5</text>
<line x1="300.5" x2="300.5" y1="561.5" y2="566.36" stroke="#000" stroke-width="1.1"/>
<text x="300.67" y="581.38" text-anchor="middle" font-size="13.89" textLength="8.44" lengthAdjust="spacingAndGlyphs">0</text>
<line x1="375.5" x2="375.5" y1="561.5" y2="566.36" stroke="#000" stroke-width="1.1"/>
<text x="375.73" y="581.38" text-anchor="middle" font-size="13.89" textLength="33.76" lengthAdjust="spacingAndGlyphs">2950</text>
<text x="374.55" y="331.01" text-anchor="middle" font-size="13.89" textLength="27.31" lengthAdjust="spacingAndGlyphs">c2()</text>
<g clip-path="url(#c8)">
<path d="M456.4,334.5 456.4,344.0 454.8,344.0 454.8,348.2 455.8,348.2 455.8,350.7 455.0,350.7 455.0,355.7 455.8,355.7 455.8,361.5 454.5,361.5 454.5,364.0 455.0,364.0 455.0,368.2 451.7,368.2 451.7,370.7 453.3,370.7 453.3,374.0 454.5,374.0 454.5,377.3 454.0,377.3 454.0,379.8 452.8,379.8 452.8,383.2 453.7,383.2 453.7,386.5 451.2,386.5 451.2,389.0 450.0,389.0 450.0,393.2 448.7,393.2 448.7,398.2 446.7,398.2 446.7,402.3 444.5,402.3 444.5,407.3 442.8,407.3 442.8,411.5 441.2,411.5 441.2,414.0 437.0,414.0 437.0,417.3 438.7,417.3 438.7,420.7 437.0,420.7 437.0,422.3 429.5,422.3 429.5,425.7 428.7,425.7 428.7,429.8 430.3,429.8 430.3,432.3 424.5,432.3 424.5,434.0 418.7,434.0 418.7,435.7 409.5,435.7 409.5,438.2 407.8,438.2 407.8,440.7 405.3,440.7 405.3,442.3 398.7,442.3 398.7,444.8 390.3,444.8 390.3,447.3 384.5,447.3 384.5,450.7 381.2,450.7 381.2,453.2 366.7,453.2 366.7,456.5 362.8,456.5 362.8,458.2 373.7,458.2 373.7,460.3 367.8,460.3 367.8,462.3 364.5,462.3 364.5,465.3 382.0,465.3 382.0,467.0 402.0,467.0 402.0,468.7 437.0,468.7 437.0,470.7 456.4,470.7 456.4,566.5" fill="none" stroke="#ff0000" stroke-width="1.39" stroke-linejoin="miter"/>
</g>
<rect x="293.5" y="339.5" width="163.0" height="222.0" fill="none" stroke="#000" stroke-width="1.1"/>
<clipPath id="c9"><rect x="505.5" y="339.5" width="164.0" height="222.0"/></clipPath>
<g clip-path="url(#c9)">
<path d="M512.6,406.2 513.1,406.2 513.1,484.2 513.6,484.2 513.6,400.8 514.1,400.8 514.1,484.6 514.6,484.6 514.7,389.0 515.2,389.0 515.2,487.2 515.7,487.2 515.7,401.8 516.2,401.8 516.2,486.9 516.7,486.9 516.7,402.5 517.2,402.5 517.2,486.9 517.7,486.9 517.7,405.4 518.2,405.4 518.2,487.3 518.7,487.3 518.7,387.0 519.2,387.0 519.2,481.7 519.7,481.7 519.7,387.3 520.2,387.3 520.2,481.0 520.7,481.0 520.7,386.3 521.2,386.3 521.2,481.7 521.7,481.7 521.7,383.1 522.2,383.1 522.2,481.9 522.7,481.9 522.7,377.0 523.2,377.0 523.2,485.0 523.7,485.0 523.7,408.8 524.2,408.8 524.2,483.4 524.7,483.4 524.7,407.8 525.2,407.8 525.2,482.4 525.7,482.4 525.7,404.1 526.2,404.1 526.2,481.2 526.7,481.2 526.7,405.7 527.2,405.7 527.2,482.3 527.7,482.3 527.7,407.4 528.2,407.4 528.2,482.6 528.7,482.6 528.7,407.7 529.2,407.7 529.2,485.4 529.7,485.4 529.7,402.2 530.2,402.2 530.2,485.1 530.7,485.1 530.7,399.3 531.2,399.3 531.2,483.7 531.7,483.7 531.7,398.8 532.2,398.8 532.2,484.0 532.7,484.0 532.7,393.1 533.2,393.1 533.2,480.4 533.7,480.4 533.8,387.8 534.3,387.8 534.3,480.2 534.8,480.2 534.8,386.6 535.3,386.6 535.3,480.3 535.8,480.3 535.8,387.6 536.3,387.6 536.3,481.6 536.8,481.6 536.8,383.2 537.3,383.2 537.3,480.9 537.8,480.9 537.8,388.1 538.3,388.1 538.3,482.3 538.8,482.3 538.8,389.2 539.3,389.2 539.3,485.1 539.8,485.1 539.8,386.8 540.3,386.8 540.3,483.9 540.8,483.9 540.8,366.5 541.3,366.5 541.3,483.0 541.8,483.0 541.8,397.7 542.3,397.7 542.3,483.5 542.8,483.5 542.8,400.5 543.3,400.5 543.3,481.7 543.8,481.7 543.8,404.1 544.3,404.1 544.3,482.1 544.8,482.1 544.8,403.2 545.3,403.2 545.3,482.2 545.8,482.2 545.8,391.1 546.3,391.1 546.3,483.2 546.8,483.2 546.8,364.8 547.3,364.8 547.3,477.8 547.8,477.8 547.8,392.5 548.3,392.5 548.3,476.6 548.8,476.6 548.8,407.8 549.3,407.8 549.3,476.2 549.8,476.2 549.8,407.2 550.3,407.2 550.3,479.2 550.8,479.2 550.8,408.5 551.3,408.5 551.3,481.7 551.8,481.7 551.8,402.9 552.3,402.9 552.3,480.0 552.8,480.0 552.8,383.2 553.3,383.2 553.3,482.0 553.8,482.0 553.9,385.5 554.4,385.5 554.4,483.1 554.9,483.1 554.9,391.2 555.4,391.2 555.4,482.3 555.9,482.3 555.9,402.7 556.4,402.7 556.4,479.9 556.9,479.9 556.9,400.8 557.4,400.8 557.4,479.3 557.9,479.3 557.9,390.1 558.4,390.1 558.4,480.1 558.9,480.1 558.9,398.2 559.4,398.2 559.4,477.1 559.9,477.1 559.9,398.2 560.4,398.2 560.4,477.6 560.9,477.6 560.9,395.2 561.4,395.2 561.4,475.7 561.9,475.7 561.9,390.3 562.4,390.3 562.4,476.3 562.9,476.3 562.9,391.4 563.4,391.4 563.4,477.5 563.9,477.5 563.9,390.4 564.4,390.4 564.4,479.8 564.9,479.8 564.9,383.2 565.4,383.2 565.4,478.5 565.9,478.5 565.9,394.6 566.4,394.6 566.4,479.9 566.9,479.9 566.9,396.2 567.4,396.2 567.4,481.4 567.9,481.4 567.9,405.2 568.4,405.2 568.4,479.3 568.9,479.3 568.9,405.0 569.4,405.0 569.4,479.6 569.9,479.6 569.9,405.7 570.4,405.7 570.4,480.5 570.9,480.5 570.9,400.7 571.4,400.7 571.4,480.7 571.9,480.7 571.9,394.1 572.4,394.1 572.4,479.9 572.9,479.9 573.0,391.7 573.5,391.7 573.5,481.6 574.0,481.6 574.0,380.7 574.5,380.7 574.5,479.4 575.0,479.4 575.0,384.8 575.5,384.8 575.5,481.7 576.0,481.7 576.0,384.4 576.5,384.4 576.5,480.7 577.0,480.7 577.0,381.6 577.5,381.6 577.5,480.2 578.0,480.2 578.0,373.2 578.5,373.2 578.5,478.7 579.0,478.7 579.0,376.3 579.5,376.3 579.5,479.0 580.0,479.0 580.0,379.4 580.5,379.4 580.5,478.0 581.0,478.0 581.0,384.0 581.5,384.0 581.5,478.1 582.0,478.1 582.0,387.5 582.5,387.5 582.5,477.4 583.0,477.4 583.0,390.7 583.5,390.7 583.5,476.5 584.0,476.5 584.0,393.0 584.5,393.0 584.5,477.5 585.0,477.5 585.0,388.7 585.5,388.7 585.5,481.0 586.0,481.0 586.0,372.7 586.5,372.7 586.5,479.8 587.0,479.8 587.0,378.5 587.5,378.5 587.5,479.8 588.0,479.8 588.0,379.4 588.5,379.4 588.5,479.8 589.0,479.8 589.0,376.5 589.5,376.5 589.5,477.9 590.0,477.9 590.0,381.1 590.5,381.1 590.5,480.0 591.0,480.0 591.0,383.8 591.5,383.8 591.5,479.3 592.0,479.3 592.0,381.5 592.5,381.5 592.5,481.2 593.0,481.2 593.1,354.8 593.6,354.8 593.6,479.7 594.1,479.7 594.1,367.1 594.6,367.1 594.6,477.5 595.1,477.5 595.1,372.0 595.6,372.0 595.6,477.3 596.1,477.3 596.1,378.3 596.6,378.3 596.6,478.0 597.1,478.0 597.1,377.9 597.6,377.9 597.6,477.3 598.1,477.3 598.1,375.1 598.6,375.1 598.6,477.8 599.1,477.8 599.1,369.8 599.6,369.8 599.6,477.3 600.1,477.3 600.1,392.3 600.6,392.3 600.6,476.8 601.1,476.8 601.1,393.6 601.6,393.6 601.6,475.4 602.1,475.4 602.1,383.7 602.6,383.7 602.6,475.9 603.1,475.9 603.1,383.6 603.6,383.6 603.6,476.4 604.1,476.4 604.1,380.5 604.6,380.5 604.6,477.9 605.1,477.9 605.1,379.7 605.6,379.7 605.6,476.9 606.1,476.9 606.1,379.5 606.6,379.5 606.6,480.4 607.1,480.4 607.1,377.9 607.6,377.9 607.6,477.4 608.1,477.4 608.1,375.6 608.6,375.6 608.6,476.1 609.1,476.1 609.1,376.4 609.6,376.4 609.6,475.0 610.1,475.0 610.1,378.6 610.6,378.6 610.6,476.3 611.1,476.3 611.1,373.2 611.6,373.2 611.6,476.3 612.1,476.3 612.2,382.8 612.7,382.8 612.7,475.2 613.2,475.2 613.2,385.1 613.7,385.1 613.7,474.4 614.2,474.4 614.2,391.3 614.7,391.3 614.7,476.2 615.2,476.2 615.2,390.4 615.7,390.4 615.7,475.6 616.2,475.6 616.2,383.6 616.7,383.6 616.7,475.3 617.2,475.3 617.2,373.2 617.7,373.2 617.7,476.1 618.2,476.1 618.2,389.3 618.7,389.3 618.7,478.4 619.2,478.4 619.2,383.2 619.7,383.2 619.7,478.3 620.2,478.3 620.2,359.8 620.7,359.8 620.7,480.5 621.2,480.5 621.2,382.2 621.7,382.2 621.7,478.5 622.2,478.5 622.2,380.9 622.7,380.9 622.7,477.1 623.2,477.1 623.2,380.8 623.7,380.8 623.7,477.3 624.2,477.3 624.2,373.2 624.7,373.2 624.7,476.6 625.2,476.6 625.2,368.2 625.7,368.2 625.7,478.4 626.2,478.4 626.2,384.8 626.7,384.8 626.7,479.7 627.2,479.7 627.2,386.5 627.7,386.5 627.7,476.5 628.2,476.5 628.2,378.7 628.7,378.7 628.7,478.4 629.2,478.4 629.2,365.5 629.7,365.5 629.7,476.4 630.2,476.4 630.2,368.2 630.7,368.2 630.7,475.1 631.2,475.1 631.2,368.2 631.7,368.2 631.7,475.9 632.2,475.9 632.3,367.3 632.8,367.3 632.8,476.3 633.3,476.3 633.3,365.2 633.8,365.2 633.8,474.4 634.3,474.4 634.3,366.6 634.8,366.6 634.8,474.5 635.3,474.5 635.3,362.7 635.8,362.7 635.8,475.0 636.3,475.0 636.3,357.0 636.8,357.0 636.8,473.4 637.3,473.4 637.3,372.0 637.8,372.0 637.8,475.2 638.3,475.2 638.3,374.9 638.8,374.9 638.8,476.1 639.3,476.1 639.3,379.4 639.8,379.4 639.8,475.3 640.3,475.3 640.3,381.9 640.8,381.9 640.8,475.4 641.3,475.4 641.3,381.3 641.8,381.3 641.8,473.8 642.3,473.8 642.3,383.5 642.8,383.5 642.8,474.0 643.3,474.0 643.3,377.6 643.8,377.6 643.8,472.9 644.3,472.9 644.3,379.2 644.8,379.2 644.8,474.0 645.3,474.0 645.3,375.2 645.8,375.2 645.8,475.8 646.3,475.8 646.3,372.0 646.8,372.0 646.8,476.9 647.3,476.9 647.3,369.8 647.8,369.8 647.8,478.4 648.3,478.4 648.3,365.5 648.8,365.5 648.8,476.4 649.3,476.4 649.3,363.2 649.8,363.2 649.8,479.2 650.3,479.2 650.3,382.4 650.8,382.4 650.8,471.5 651.3,471.5 651.4,380.5 651.9,380.5 651.9,470.5 652.4,470.5 652.4,374.2 652.9,374.2 652.9,469.6 653.4,469.6 653.4,371.4 653.9,371.4 653.9,472.7 654.4,472.7 654.4,369.8 654.9,369.8 654.9,471.1 655.4,471.1 655.4,367.3 655.9,367.3 655.9,470.2 656.4,470.2 656.4,372.3 656.9,372.3 656.9,467.2 657.4,467.2 657.4,373.7 657.9,373.7 657.9,467.9 658.4,467.9 658.4,368.2 658.9,368.2 658.9,469.4 659.4,469.4 659.4,356.9 659.9,356.9 659.9,468.5 660.4,468.5 660.4,387.4 660.9,387.4 660.9,468.5 661.4,468.5 661.4,407.3 661.9,407.3 661.9,464.5 662.4,464.5" fill="none" stroke="#0000ff" stroke-width="2.08" stroke-linejoin="round" stroke-linecap="butt"/>
<line x1="505.5" x2="669.5" y1="488.12" y2="488.12" stroke="#ff0000" stroke-width="1.39"/>
<line x1="572.70" x2="661.85" y1="389.43" y2="389.43" stroke="#000" stroke-width="2.78" stroke-dasharray="2.78 4.58"/>
<line x1="572.70" x2="661.85" y1="474.41" y2="474.41" stroke="#000" stroke-width="2.78" stroke-dasharray="2.78 4.58"/>
<line x1="572.70" x2="661.85" y1="428.42" y2="428.42" stroke="#000" stroke-width="2.78"/>
<line x1="572.70" x2="661.85" y1="472.53" y2="472.53" stroke="#000" stroke-width="2.78"/>
<line x1="572.70" x2="661.85" y1="449.94" y2="449.94" stroke="#ff0000" stroke-width="2.08"/>
</g>
<line x1="500.64" x2="505.5" y1="359.5" y2="359.5" stroke="#000" stroke-width="1.1"/>
<text x="494.85" y="364.61" text-anchor="end" font-size="13.89" textLength="24.92" lengthAdjust="spacingAndGlyphs">150</text>
<line x1="500.64" x2="505.5" y1="407.5" y2="407.5" stroke="#000" stroke-width="1.1"/>
<text x="494.85" y="412.48" text-anchor="end" font-size="13.89" textLength="24.92" lengthAdjust="spacingAndGlyphs">100</text>
<line x1="500.64" x2="505.5" y1="454.5" y2="454.5" stroke="#000" stroke-width="1.1"/>
<text x="494.85" y="459.81" text-anchor="end" font-size="13.89" textLength="16.61" lengthAdjust="spacingAndGlyphs">50</text>
<line x1="500.64" x2="505.5" y1="502.5" y2="502.5" stroke="#000" stroke-width="1.1"/>
<text x="494.85" y="507.68" text-anchor="end" font-size="13.89" textLength="8.31" lengthAdjust="spacingAndGlyphs">0</text>
<line x1="500.64" x2="505.5" y1="550.5" y2="550.5" stroke="#000" stroke-width="1.1"/>
<text x="494.85" y="555.54" text-anchor="end" font-size="13.89" textLength="27.55" lengthAdjust="spacingAndGlyphs">−50</text>
<line x1="512.5" x2="512.5" y1="561.5" y2="566.36" stroke="#000" stroke-width="1.1"/>
<text x="513.39" y="581.38" text-anchor="middle" font-size="13.89" textLength="8.44" lengthAdjust="spacingAndGlyphs">0</text>
<line x1="587.5" x2="587.5" y1="561.5" y2="566.36" stroke="#000" stroke-width="1.1"/>
<text x="588.45" y="581.38" text-anchor="middle" font-size="13.89" textLength="33.76" lengthAdjust="spacingAndGlyphs">2950</text>
<text x="587.27" y="331.01" text-anchor="middle" font-size="13.89" textLength="71.62" lengthAdjust="spacingAndGlyphs">Vvir(km/s)</text>
<g clip-path="url(#c9)">
<path d="M669.4,334.5 669.4,354.0 668.5,354.0 668.5,362.3 668.2,362.3 668.2,367.3 666.7,367.3 666.7,373.2 665.3,373.2 665.3,378.2 663.7,378.2 663.7,383.2 662.5,383.2 662.5,387.3 660.8,387.3 660.8,391.5 659.2,391.5 659.2,395.7 657.5,395.7 657.5,399.8 655.8,399.8 655.8,402.3 652.5,402.3 652.5,406.5 651.7,406.5 651.7,410.7 650.0,410.7 650.0,413.2 645.8,413.2 645.8,415.7 642.5,415.7 642.5,417.3 639.2,417.3 639.2,420.7 640.8,420.7 640.8,423.2 637.5,423.2 637.5,425.3 635.0,425.3 635.0,428.2 628.3,428.2 628.3,430.7 621.7,430.7 621.7,434.0 620.3,434.0 620.3,437.3 618.3,437.3 618.3,439.8 612.5,439.8 612.5,442.3 602.5,442.3 602.5,447.3 591.7,447.3 591.7,449.3 573.3,449.3 573.3,451.5 574.2,451.5 574.2,456.5 580.8,456.5 580.8,460.7 585.8,460.7 585.8,464.0 589.2,464.0 589.2,467.0 599.2,467.0 599.2,469.8 614.2,469.8 614.2,471.5 631.7,471.5 631.7,474.0 648.3,474.0 648.3,476.5 658.3,476.5 658.3,478.2 664.2,478.2 664.2,480.7 668.2,480.7 668.2,482.7 669.4,482.7 669.4,566.5" fill="none" stroke="#ff0000" stroke-width="1.39" stroke-linejoin="miter"/>
</g>
<rect x="505.5" y="339.5" width="164.0" height="222.0" fill="none" stroke="#000" stroke-width="1.1"/>
<clipPath id="c10"><rect x="718.5" y="339.5" width="164.0" height="222.0"/></clipPath>
<g clip-path="url(#c10)">
<path d="M725.4,376.5 725.9,376.5 725.9,546.5 726.4,546.5 726.4,390.0 726.9,390.0 726.9,541.3 727.4,541.3 727.4,391.6 727.9,391.6 727.9,541.0 728.4,541.0 728.4,392.6 728.9,392.6 728.9,541.2 729.4,541.2 729.4,393.9 729.9,393.9 729.9,543.6 730.4,543.6 730.4,394.8 730.9,394.8 730.9,545.3 731.4,545.3 731.4,396.4 731.9,396.4 731.9,557.5 732.4,557.5 732.4,390.8 732.9,390.8 732.9,565.5 733.4,565.5 733.4,381.2 733.9,381.2 733.9,550.2 734.4,550.2 734.4,383.3 734.9,383.3 734.9,546.5 735.4,546.5 735.4,385.2 735.9,385.2 735.9,565.5 736.4,565.5 736.4,397.9 736.9,397.9 736.9,550.9 737.4,550.9 737.4,398.8 737.9,398.8 737.9,539.8 738.4,539.8 738.4,401.7 738.9,401.7 738.9,535.4 739.4,535.4 739.4,400.1 739.9,400.1 739.9,537.9 740.4,537.9 740.4,376.0 740.9,376.0 740.9,544.1 741.4,544.1 741.5,381.1 742.0,381.1 742.0,552.3 742.5,552.3 742.5,386.1 743.0,386.1 743.0,531.1 743.5,531.1 743.5,390.8 744.0,390.8 744.0,530.6 744.5,530.6 744.5,392.3 745.0,392.3 745.0,538.5 745.5,538.5 745.5,391.0 746.0,391.0 746.0,546.8 746.5,546.8 746.5,388.2 747.0,388.2 747.0,550.0 747.5,550.0 747.5,403.7 748.0,403.7 748.0,554.4 748.5,554.4 748.5,402.3 749.0,402.3 749.0,558.2 749.5,558.2 749.5,394.8 750.0,394.8 750.0,536.0 750.5,536.0 750.5,393.5 751.0,393.5 751.0,534.1 751.5,534.1 751.5,394.8 752.0,394.8 752.0,537.7 752.5,537.7 752.5,401.7 753.0,401.7 753.0,544.0 753.5,544.0 753.5,402.4 754.0,402.4 754.0,532.8 754.5,532.8 754.5,402.8 755.0,402.8 755.0,530.3 755.5,530.3 755.5,400.3 756.0,400.3 756.0,528.1 756.5,528.1 756.5,401.0 757.0,401.0 757.0,538.7 757.5,538.7 757.5,397.6 758.0,397.6 758.0,565.5 758.5,565.5 758.5,394.3 759.0,394.3 759.0,535.4 759.5,535.4 759.5,390.3 760.0,390.3 760.0,528.2 760.5,528.2 760.5,397.8 761.0,397.8 761.0,513.8 761.5,513.8 761.6,401.0 762.1,401.0 762.1,506.8 762.6,506.8 762.6,402.6 763.1,402.6 763.1,508.2 763.6,508.2 763.6,410.5 764.1,410.5 764.1,526.7 764.6,526.7 764.6,416.0 765.1,416.0 765.1,557.3 765.6,557.3 765.6,413.4 766.1,413.4 766.1,533.9 766.6,533.9 766.6,408.1 767.1,408.1 767.1,533.3 767.6,533.3 767.6,404.4 768.1,404.4 768.1,538.6 768.6,538.6 768.6,399.9 769.1,399.9 769.1,551.5 769.6,551.5 769.6,384.0 770.1,384.0 770.1,527.1 770.6,527.1 770.6,393.0 771.1,393.0 771.1,520.4 771.6,520.4 771.6,391.5 772.1,391.5 772.1,525.2 772.6,525.2 772.6,386.4 773.1,386.4 773.1,527.1 773.6,527.1 773.6,404.3 774.1,404.3 774.1,530.6 774.6,530.6 774.6,408.0 775.1,408.0 775.1,532.0 775.6,532.0 775.6,406.7 776.1,406.7 776.1,534.8 776.6,534.8 776.6,406.9 777.1,406.9 777.1,526.1 777.6,526.1 777.6,406.9 778.1,406.9 778.1,527.8 778.6,527.8 778.6,404.5 779.1,404.5 779.1,526.2 779.6,526.2 779.6,402.0 780.1,402.0 780.1,528.2 780.6,528.2 780.7,401.5 781.2,401.5 781.2,504.5 781.7,504.5 781.7,401.7 782.2,401.7 782.2,499.1 782.7,499.1 782.7,400.7 783.2,400.7 783.2,502.4 783.7,502.4 783.7,398.7 784.2,398.7 784.2,515.7 784.7,515.7 784.7,399.1 785.2,399.1 785.2,507.1 785.7,507.1 785.7,399.9 786.2,399.9 786.2,506.5 786.7,506.5 786.7,399.6 787.2,399.6 787.2,513.2 787.7,513.2 787.7,395.7 788.2,395.7 788.2,533.7 788.7,533.7 788.7,397.0 789.2,397.0 789.2,518.0 789.7,518.0 789.7,397.9 790.2,397.9 790.2,510.5 790.7,510.5 790.7,395.9 791.2,395.9 791.2,504.7 791.7,504.7 791.7,395.5 792.2,395.5 792.2,496.7 792.7,496.7 792.7,415.6 793.2,415.6 793.2,494.3 793.7,494.3 793.7,417.0 794.2,417.0 794.2,495.4 794.7,495.4 794.7,412.5 795.2,412.5 795.2,506.8 795.7,506.8 795.7,403.3 796.2,403.3 796.2,515.7 796.7,515.7 796.7,389.8 797.2,389.8 797.2,510.0 797.7,510.0 797.7,397.2 798.2,397.2 798.2,510.6 798.7,510.6 798.7,399.2 799.2,399.2 799.2,511.4 799.7,511.4 799.8,395.7 800.2,395.7 800.2,514.4 800.8,514.4 800.8,400.9 801.3,400.9 801.3,520.2 801.8,520.2 801.8,404.5 802.3,404.5 802.3,506.0 802.8,506.0 802.8,408.7 803.3,408.7 803.3,502.0 803.8,502.0 803.8,410.6 804.3,410.6 804.3,504.3 804.8,504.3 804.8,399.8 805.3,399.8 805.3,510.8 805.8,510.8 805.8,404.0 806.3,404.0 806.3,525.7 806.8,525.7 806.8,405.6 807.3,405.6 807.3,526.7 807.8,526.7 807.8,409.7 808.3,409.7 808.3,527.4 808.8,527.4 808.8,408.1 809.3,408.1 809.3,532.3 809.8,532.3 809.8,409.1 810.3,409.1 810.3,519.6 810.8,519.6 810.8,396.5 811.3,396.5 811.3,515.0 811.8,515.0 811.8,403.3 812.3,403.3 812.3,512.1 812.8,512.1 812.8,405.2 813.3,405.2 813.3,509.7 813.8,509.7 813.8,410.8 814.3,410.8 814.3,506.1 814.8,506.1 814.8,411.7 815.3,411.7 815.3,498.9 815.8,498.9 815.8,410.1 816.3,410.1 816.3,497.1 816.8,497.1 816.8,406.0 817.3,406.0 817.3,501.5 817.8,501.5 817.8,392.6 818.3,392.6 818.3,512.3 818.8,512.3 818.8,406.8 819.3,406.8 819.3,510.3 819.8,510.3 819.9,407.0 820.4,407.0 820.4,509.3 820.9,509.3 820.9,403.3 821.4,403.3 821.4,510.4 821.9,510.4 821.9,400.7 822.4,400.7 822.4,515.4 822.9,515.4 822.9,411.8 823.4,411.8 823.4,518.3 823.9,518.3 823.9,411.9 824.4,411.9 824.4,518.3 824.9,518.3 824.9,405.9 825.4,405.9 825.4,523.2 825.9,523.2 825.9,399.7 826.4,399.7 826.4,515.4 826.9,515.4 826.9,409.3 827.4,409.3 827.4,510.4 827.9,510.4 827.9,407.4 828.4,407.4 828.4,510.2 828.9,510.2 828.9,408.3 829.4,408.3 829.4,508.0 829.9,508.0 829.9,406.3 830.4,406.3 830.4,514.9 830.9,514.9 830.9,403.8 831.4,403.8 831.4,506.7 831.9,506.7 831.9,399.8 832.4,399.8 832.4,502.0 832.9,502.0 832.9,404.2 833.4,404.2 833.4,504.0 833.9,504.0 833.9,407.4 834.4,407.4 834.4,509.9 834.9,509.9 834.9,409.5 835.4,409.5 835.4,524.3 835.9,524.3 835.9,408.2 836.4,408.2 836.4,511.2 836.9,511.2 836.9,405.4 837.4,405.4 837.4,508.8 837.9,508.8 837.9,388.7 838.4,388.7 838.4,508.9 838.9,508.9 839.0,406.3 839.5,406.3 839.5,528.7 840.0,528.7 840.0,410.0 840.5,410.0 840.5,524.2 841.0,524.2 841.0,408.4 841.5,408.4 841.5,518.1 842.0,518.1 842.0,403.7 842.5,403.7 842.5,515.7 843.0,515.7 843.0,404.7 843.5,404.7 843.5,514.8 844.0,514.8 844.0,399.0 844.5,399.0 844.5,518.2 845.0,518.2 845.0,402.9 845.5,402.9 845.5,514.2 846.0,514.2 846.0,410.9 846.5,410.9 846.5,516.2 847.0,516.2 847.0,410.8 847.5,410.8 847.5,509.6 848.0,509.6 848.0,404.7 848.5,404.7 848.5,513.4 849.0,513.4 849.0,400.7 849.5,400.7 849.5,513.5 850.0,513.5 850.0,400.2 850.5,400.2 850.5,520.7 851.0,520.7 851.0,406.2 851.5,406.2 851.5,512.7 852.0,512.7 852.0,410.9 852.5,410.9 852.5,508.4 853.0,508.4 853.0,410.5 853.5,410.5 853.5,506.8 854.0,506.8 854.0,410.6 854.5,410.6 854.5,506.8 855.0,506.8 855.0,406.5 855.5,406.5 855.5,506.9 856.0,506.9 856.0,409.1 856.5,409.1 856.5,505.3 857.0,505.3 857.0,408.9 857.5,408.9 857.5,504.9 858.0,504.9 858.0,408.9 858.5,408.9 858.5,506.4 859.0,506.4 859.1,404.8 859.6,404.8 859.6,506.1 860.1,506.1 860.1,406.5 860.6,406.5 860.6,500.8 861.1,500.8 861.1,407.2 861.6,407.2 861.6,498.3 862.1,498.3 862.1,407.4 862.6,407.4 862.6,493.4 863.1,493.4 863.1,410.3 863.6,410.3 863.6,501.0 864.1,501.0 864.1,408.6 864.6,408.6 864.6,511.5 865.1,511.5 865.1,411.9 865.6,411.9 865.6,485.2 866.1,485.2 866.1,411.5 866.6,411.5 866.6,483.4 867.1,483.4 867.1,411.3 867.6,411.3 867.6,485.7 868.1,485.7 868.1,407.9 868.6,407.9 868.6,494.0 869.1,494.0 869.1,409.6 869.6,409.6 869.6,491.1 870.1,491.1 870.1,407.0 870.6,407.0 870.6,489.4 871.1,489.4 871.1,408.5 871.6,408.5 871.6,490.0 872.1,490.0 872.1,409.9 872.6,409.9 872.6,491.9 873.1,491.9 873.1,410.2 873.6,410.2 873.6,494.8 874.1,494.8 874.1,406.9 874.6,406.9 874.6,493.6 875.1,493.6" fill="none" stroke="#0000ff" stroke-width="2.08" stroke-linejoin="round" stroke-linecap="butt"/>
<line x1="785.43" x2="874.58" y1="413.63" y2="413.63" stroke="#000" stroke-width="2.78" stroke-dasharray="2.78 4.58"/>
<line x1="785.43" x2="874.58" y1="500.49" y2="500.49" stroke="#000" stroke-width="2.78" stroke-dasharray="2.78 4.58"/>
<line x1="785.43" x2="874.58" y1="428.42" y2="428.42" stroke="#000" stroke-width="2.78"/>
<line x1="785.43" x2="874.58" y1="472.53" y2="472.53" stroke="#000" stroke-width="2.78"/>
<line x1="785.43" x2="874.58" y1="449.94" y2="449.94" stroke="#ff0000" stroke-width="2.08"/>
</g>
<line x1="713.64" x2="718.5" y1="344.5" y2="344.5" stroke="#000" stroke-width="1.1"/>
<text x="707.58" y="349.82" text-anchor="end" font-size="13.89" textLength="29.07" lengthAdjust="spacingAndGlyphs">37.5</text>
<line x1="713.64" x2="718.5" y1="375.5" y2="375.5" stroke="#000" stroke-width="1.1"/>
<text x="707.58" y="380.48" text-anchor="end" font-size="13.89" textLength="29.07" lengthAdjust="spacingAndGlyphs">35.0</text>
<line x1="713.64" x2="718.5" y1="405.5" y2="405.5" stroke="#000" stroke-width="1.1"/>
<text x="707.58" y="411.13" text-anchor="end" font-size="13.89" textLength="29.07" lengthAdjust="spacingAndGlyphs">32.5</text>
<line x1="713.64" x2="718.5" y1="436.5" y2="436.5" stroke="#000" stroke-width="1.1"/>
<text x="707.58" y="441.52" text-anchor="end" font-size="13.89" textLength="29.07" lengthAdjust="spacingAndGlyphs">30.0</text>
<line x1="713.64" x2="718.5" y1="466.5" y2="466.5" stroke="#000" stroke-width="1.1"/>
<text x="707.58" y="471.91" text-anchor="end" font-size="13.89" textLength="29.07" lengthAdjust="spacingAndGlyphs">27.5</text>
<line x1="713.64" x2="718.5" y1="497.5" y2="497.5" stroke="#000" stroke-width="1.1"/>
<text x="707.58" y="502.57" text-anchor="end" font-size="13.89" textLength="29.07" lengthAdjust="spacingAndGlyphs">25.0</text>
<line x1="713.64" x2="718.5" y1="527.5" y2="527.5" stroke="#000" stroke-width="1.1"/>
<text x="707.58" y="533.22" text-anchor="end" font-size="13.89" textLength="29.07" lengthAdjust="spacingAndGlyphs">22.5</text>
<line x1="713.64" x2="718.5" y1="558.5" y2="558.5" stroke="#000" stroke-width="1.1"/>
<text x="707.58" y="563.61" text-anchor="end" font-size="13.89" textLength="29.07" lengthAdjust="spacingAndGlyphs">20.0</text>
<line x1="725.5" x2="725.5" y1="561.5" y2="566.36" stroke="#000" stroke-width="1.1"/>
<text x="726.12" y="581.38" text-anchor="middle" font-size="13.89" textLength="8.44" lengthAdjust="spacingAndGlyphs">0</text>
<line x1="800.5" x2="800.5" y1="561.5" y2="566.36" stroke="#000" stroke-width="1.1"/>
<text x="801.18" y="581.38" text-anchor="middle" font-size="13.89" textLength="33.76" lengthAdjust="spacingAndGlyphs">2950</text>
<text x="800.00" y="331.01" text-anchor="middle" font-size="13.89" textLength="82.60" lengthAdjust="spacingAndGlyphs">Vturb(km/s)</text>
<g clip-path="url(#c10)">
<path d="M882.4,334.5 882.4,380.7 880.8,380.7 880.8,386.5 881.3,386.5 881.3,393.2 879.7,393.2 879.7,399.0 876.0,399.0 876.0,404.8 877.2,404.8 877.2,407.3 873.0,407.3 873.0,409.0 869.7,409.0 869.7,411.5 864.7,411.5 864.7,413.7 858.8,413.7 858.8,416.0 855.5,416.0 855.5,418.2 850.5,418.2 850.5,420.7 843.8,420.7 843.8,423.2 836.3,423.2 836.3,424.8 822.2,424.8 822.2,426.5 813.8,426.5 813.8,431.5 808.0,431.5 808.0,434.0 806.3,434.0 806.3,438.2 793.0,438.2 793.0,440.7 787.2,440.7 787.2,442.3 795.5,442.3 795.5,444.3 800.5,444.3 800.5,447.3 790.5,447.3 790.5,449.3 785.5,449.3 785.5,451.5 807.2,451.5 807.2,453.2 794.7,453.2 794.7,456.5 798.8,456.5 798.8,459.0 808.8,459.0 808.8,460.7 817.2,460.7 817.2,465.3 822.7,465.3 822.7,467.3 826.3,467.3 826.3,469.3 823.3,469.3 823.3,471.5 828.0,471.5 828.0,474.0 837.2,474.0 837.2,476.5 840.5,476.5 840.5,479.0 844.7,479.0 844.7,481.0 856.3,481.0 856.3,483.2 862.2,483.2 862.2,485.7 862.7,485.7 862.7,489.0 862.2,489.0 862.2,492.3 864.7,492.3 864.7,494.8 871.3,494.8 871.3,498.2 874.3,498.2 874.3,502.3 875.0,502.3 875.0,505.7 876.3,505.7 876.3,509.8 878.0,509.8 878.0,513.2 879.7,513.2 879.7,517.3 880.8,517.3 880.8,534.0 882.4,534.0 882.4,566.5" fill="none" stroke="#ff0000" stroke-width="1.39" stroke-linejoin="miter"/>
</g>
<rect x="718.5" y="339.5" width="164.0" height="222.0" fill="none" stroke="#000" stroke-width="1.1"/>
<clipPath id="c11"><rect x="931.5" y="339.5" width="164.0" height="222.0"/></clipPath>
<g clip-path="url(#c11)">
<path d="M938.1,411.5 938.6,411.5 938.6,488.2 939.1,488.2 939.1,411.5 939.6,411.5 939.6,488.3 940.1,488.3 940.1,411.7 940.6,411.7 940.6,488.1 941.1,488.1 941.1,411.5 941.6,411.5 941.6,488.0 942.1,488.0 942.1,411.5 942.6,411.5 942.6,486.2 943.1,486.2 943.1,411.8 943.6,411.8 943.6,485.4 944.1,485.4 944.1,411.7 944.6,411.7 944.6,488.3 945.1,488.3 945.1,411.5 945.6,411.5 945.6,488.4 946.1,488.4 946.1,412.2 946.6,412.2 946.6,487.3 947.1,487.3 947.1,411.6 947.6,411.6 947.6,488.2 948.1,488.2 948.1,411.5 948.6,411.5 948.6,487.2 949.1,487.2 949.2,411.6 949.7,411.6 949.7,488.4 950.2,488.4 950.2,412.3 950.7,412.3 950.7,488.4 951.2,488.4 951.2,412.0 951.7,412.0 951.7,487.9 952.2,487.9 952.2,411.7 952.7,411.7 952.7,488.1 953.2,488.1 953.2,411.9 953.7,411.9 953.7,488.3 954.2,488.3 954.2,411.7 954.7,411.7 954.7,488.3 955.2,488.3 955.2,411.9 955.7,411.9 955.7,488.3 956.2,488.3 956.2,411.6 956.7,411.6 956.7,487.7 957.2,487.7 957.2,411.6 957.7,411.6 957.7,488.3 958.2,488.3 958.2,411.7 958.7,411.7 958.7,488.4 959.2,488.4 959.2,411.5 959.7,411.5 959.7,488.4 960.2,488.4 960.2,413.9 960.7,413.9 960.7,488.2 961.2,488.2 961.2,411.8 961.7,411.8 961.7,488.3 962.2,488.3 962.2,411.6 962.7,411.6 962.7,487.4 963.2,487.4 963.2,412.7 963.7,412.7 963.7,485.1 964.2,485.1 964.2,411.6 964.7,411.6 964.7,488.2 965.2,488.2 965.2,411.6 965.7,411.6 965.7,488.4 966.2,488.4 966.2,413.6 966.7,413.6 966.7,488.3 967.2,488.3 967.2,411.7 967.7,411.7 967.7,488.4 968.2,488.4 968.3,411.8 968.8,411.8 968.8,486.6 969.3,486.6 969.3,411.5 969.8,411.5 969.8,488.3 970.3,488.3 970.3,411.7 970.8,411.7 970.8,488.3 971.3,488.3 971.3,411.5 971.8,411.5 971.8,488.4 972.3,488.4 972.3,412.0 972.8,412.0 972.8,488.3 973.3,488.3 973.3,412.3 973.8,412.3 973.8,488.1 974.3,488.1 974.3,411.5 974.8,411.5 974.8,488.0 975.3,488.0 975.3,411.6 975.8,411.6 975.8,487.9 976.3,487.9 976.3,411.5 976.8,411.5 976.8,488.4 977.3,488.4 977.3,411.5 977.8,411.5 977.8,488.3 978.3,488.3 978.3,411.7 978.8,411.7 978.8,488.4 979.3,488.4 979.3,412.0 979.8,412.0 979.8,488.1 980.3,488.1 980.3,411.5 980.8,411.5 980.8,488.4 981.3,488.4 981.3,411.5 981.8,411.5 981.8,488.3 982.3,488.3 982.3,411.6 982.8,411.6 982.8,488.3 983.3,488.3 983.3,411.5 983.8,411.5 983.8,488.3 984.3,488.3 984.3,411.6 984.8,411.6 984.8,488.3 985.3,488.3 985.3,412.7 985.8,412.7 985.8,488.2 986.3,488.2 986.3,413.5 986.8,413.5 986.8,488.3 987.3,488.3 987.3,411.8 987.8,411.8 987.8,485.2 988.3,485.2 988.4,412.1 988.9,412.1 988.9,488.3 989.4,488.3 989.4,411.6 989.9,411.6 989.9,488.4 990.4,488.4 990.4,412.2 990.9,412.2 990.9,488.3 991.4,488.3 991.4,411.6 991.9,411.6 991.9,487.5 992.4,487.5 992.4,413.3 992.9,413.3 992.9,488.1 993.4,488.1 993.4,411.7 993.9,411.7 993.9,488.4 994.4,488.4 994.4,411.6 994.9,411.6 994.9,488.3 995.4,488.3 995.4,411.8 995.9,411.8 995.9,488.4 996.4,488.4 996.4,411.5 996.9,411.5 996.9,488.4 997.4,488.4 997.4,412.2 997.9,412.2 997.9,488.1 998.4,488.1 998.4,411.7 998.9,411.7 998.9,488.4 999.4,488.4 999.4,411.5 999.9,411.5 999.9,488.3 1000.4,488.3 1000.4,411.5 1000.9,411.5 1000.9,486.3 1001.4,486.3 1001.4,411.7 1001.9,411.7 1001.9,488.3 1002.4,488.3 1002.4,411.6 1002.9,411.6 1002.9,488.2 1003.4,488.2 1003.4,411.8 1003.9,411.8 1003.9,487.3 1004.4,487.3 1004.4,411.5 1004.9,411.5 1004.9,487.8 1005.4,487.8 1005.4,411.7 1005.9,411.7 1005.9,488.4 1006.4,488.4 1006.4,411.6 1006.9,411.6 1006.9,488.2 1007.4,488.2 1007.5,412.2 1008.0,412.2 1008.0,488.3 1008.5,488.3 1008.5,411.6 1009.0,411.6 1009.0,488.3 1009.5,488.3 1009.5,411.8 1010.0,411.8 1010.0,487.4 1010.5,487.4 1010.5,411.8 1011.0,411.8 1011.0,487.9 1011.5,487.9 1011.5,411.5 1012.0,411.5 1012.0,488.4 1012.5,488.4 1012.5,412.3 1013.0,412.3 1013.0,484.5 1013.5,484.5 1013.5,411.6 1014.0,411.6 1014.0,488.4 1014.5,488.4 1014.5,411.7 1015.0,411.7 1015.0,488.2 1015.5,488.2 1015.5,411.8 1016.0,411.8 1016.0,488.4 1016.5,488.4 1016.5,411.6 1017.0,411.6 1017.0,488.3 1017.5,488.3 1017.5,411.9 1018.0,411.9 1018.0,488.2 1018.5,488.2 1018.5,411.5 1019.0,411.5 1019.0,488.3 1019.5,488.3 1019.5,412.2 1020.0,412.2 1020.0,488.3 1020.5,488.3 1020.5,411.6 1021.0,411.6 1021.0,488.1 1021.5,488.1 1021.5,411.6 1022.0,411.6 1022.0,488.3 1022.5,488.3 1022.5,412.0 1023.0,412.0 1023.0,488.0 1023.5,488.0 1023.5,412.0 1024.0,412.0 1024.0,488.3 1024.5,488.3 1024.5,411.5 1025.0,411.5 1025.0,488.2 1025.5,488.2 1025.5,412.1 1026.0,412.1 1026.0,488.3 1026.5,488.3 1026.5,411.8 1027.0,411.8 1027.0,488.3 1027.5,488.3 1027.6,411.9 1028.1,411.9 1028.1,488.3 1028.6,488.3 1028.6,412.8 1029.1,412.8 1029.1,488.4 1029.6,488.4 1029.6,411.6 1030.1,411.6 1030.1,488.4 1030.6,488.4 1030.6,411.8 1031.1,411.8 1031.1,488.4 1031.6,488.4 1031.6,411.7 1032.1,411.7 1032.1,488.4 1032.6,488.4 1032.6,411.9 1033.1,411.9 1033.1,486.9 1033.6,486.9 1033.6,411.5 1034.1,411.5 1034.1,488.4 1034.6,488.4 1034.6,411.8 1035.1,411.8 1035.1,488.0 1035.6,488.0 1035.6,412.1 1036.1,412.1 1036.1,488.4 1036.6,488.4 1036.6,415.0 1037.1,415.0 1037.1,487.5 1037.6,487.5 1037.6,412.0 1038.1,412.0 1038.1,487.3 1038.6,487.3 1038.6,411.6 1039.1,411.6 1039.1,488.2 1039.6,488.2 1039.6,411.9 1040.1,411.9 1040.1,488.2 1040.6,488.2 1040.6,411.5 1041.1,411.5 1041.1,488.4 1041.6,488.4 1041.6,411.7 1042.1,411.7 1042.1,488.3 1042.6,488.3 1042.6,412.1 1043.1,412.1 1043.1,488.3 1043.6,488.3 1043.6,411.6 1044.1,411.6 1044.1,488.3 1044.6,488.3 1044.6,411.5 1045.1,411.5 1045.1,488.2 1045.6,488.2 1045.6,411.5 1046.1,411.5 1046.1,488.3 1046.6,488.3 1046.7,411.5 1047.2,411.5 1047.2,488.2 1047.7,488.2 1047.7,413.5 1048.2,413.5 1048.2,488.3 1048.7,488.3 1048.7,411.6 1049.2,411.6 1049.2,486.7 1049.7,486.7 1049.7,411.6 1050.2,411.6 1050.2,488.4 1050.7,488.4 1050.7,411.5 1051.2,411.5 1051.2,488.4 1051.7,488.4 1051.7,411.5 1052.2,411.5 1052.2,487.6 1052.7,487.6 1052.7,411.6 1053.2,411.6 1053.2,488.4 1053.7,488.4 1053.7,411.6 1054.2,411.6 1054.2,488.0 1054.7,488.0 1054.7,411.7 1055.2,411.7 1055.2,488.2 1055.7,488.2 1055.7,411.5 1056.2,411.5 1056.2,488.1 1056.7,488.1 1056.7,411.5 1057.2,411.5 1057.2,488.4 1057.7,488.4 1057.7,411.6 1058.2,411.6 1058.2,488.2 1058.7,488.2 1058.7,411.5 1059.2,411.5 1059.2,488.3 1059.7,488.3 1059.7,411.5 1060.2,411.5 1060.2,488.3 1060.7,488.3 1060.7,411.8 1061.2,411.8 1061.2,487.8 1061.7,487.8 1061.7,411.6 1062.2,411.6 1062.2,488.3 1062.7,488.3 1062.7,411.5 1063.2,411.5 1063.2,488.2 1063.7,488.2 1063.7,411.5 1064.2,411.5 1064.2,486.9 1064.7,486.9 1064.7,412.3 1065.2,412.3 1065.2,488.0 1065.7,488.0 1065.7,411.8 1066.2,411.8 1066.2,487.0 1066.7,487.0 1066.8,411.8 1067.3,411.8 1067.3,488.3 1067.8,488.3 1067.8,412.3 1068.3,412.3 1068.3,486.8 1068.8,486.8 1068.8,411.5 1069.3,411.5 1069.3,488.4 1069.8,488.4 1069.8,412.0 1070.3,412.0 1070.3,488.3 1070.8,488.3 1070.8,411.5 1071.3,411.5 1071.3,488.3 1071.8,488.3 1071.8,411.7 1072.3,411.7 1072.3,488.4 1072.8,488.4 1072.8,411.8 1073.3,411.8 1073.3,488.0 1073.8,488.0 1073.8,411.9 1074.3,411.9 1074.3,486.9 1074.8,486.9 1074.8,411.5 1075.3,411.5 1075.3,488.1 1075.8,488.1 1075.8,414.2 1076.3,414.2 1076.3,486.2 1076.8,486.2 1076.8,411.5 1077.3,411.5 1077.3,488.0 1077.8,488.0 1077.8,411.6 1078.3,411.6 1078.3,488.3 1078.8,488.3 1078.8,411.6 1079.3,411.6 1079.3,488.4 1079.8,488.4 1079.8,412.2 1080.3,412.2 1080.3,488.3 1080.8,488.3 1080.8,411.5 1081.3,411.5 1081.3,488.3 1081.8,488.3 1081.8,411.5 1082.3,411.5 1082.3,488.3 1082.8,488.3 1082.8,411.6 1083.3,411.6 1083.3,488.3 1083.8,488.3 1083.8,411.5 1084.3,411.5 1084.3,488.2 1084.8,488.2 1084.8,411.6 1085.3,411.6 1085.3,488.3 1085.8,488.3 1085.9,411.6 1086.4,411.6 1086.4,488.3 1086.9,488.3 1086.9,413.9 1087.4,413.9 1087.4,488.3 1087.9,488.3" fill="none" stroke="#0000ff" stroke-width="2.08" stroke-linejoin="round" stroke-linecap="butt"/>
<line x1="931.5" x2="1095.5" y1="411.21" y2="411.21" stroke="#ff0000" stroke-width="1.39"/>
<line x1="931.5" x2="1095.5" y1="489.47" y2="489.47" stroke="#ff0000" stroke-width="1.39"/>
<line x1="998.16" x2="1087.31" y1="413.36" y2="413.36" stroke="#000" stroke-width="2.78" stroke-dasharray="2.78 4.58"/>
<line x1="998.16" x2="1087.31" y1="487.32" y2="487.32" stroke="#000" stroke-width="2.78" stroke-dasharray="2.78 4.58"/>
<line x1="998.16" x2="1087.31" y1="428.42" y2="428.42" stroke="#000" stroke-width="2.78"/>
<line x1="998.16" x2="1087.31" y1="472.53" y2="472.53" stroke="#000" stroke-width="2.78"/>
<line x1="998.16" x2="1087.31" y1="449.94" y2="449.94" stroke="#ff0000" stroke-width="2.08"/>
</g>
<line x1="926.64" x2="931.5" y1="385.5" y2="385.5" stroke="#000" stroke-width="1.1"/>
<text x="920.31" y="390.43" text-anchor="end" font-size="13.89" textLength="16.61" lengthAdjust="spacingAndGlyphs">20</text>
<line x1="926.64" x2="931.5" y1="437.5" y2="437.5" stroke="#000" stroke-width="1.1"/>
<text x="920.31" y="442.60" text-anchor="end" font-size="13.89" textLength="16.61" lengthAdjust="spacingAndGlyphs">10</text>
<line x1="926.64" x2="931.5" y1="489.5" y2="489.5" stroke="#000" stroke-width="1.1"/>
<text x="920.31" y="494.50" text-anchor="end" font-size="13.89" textLength="8.31" lengthAdjust="spacingAndGlyphs">0</text>
<line x1="926.64" x2="931.5" y1="541.5" y2="541.5" stroke="#000" stroke-width="1.1"/>
<text x="920.31" y="546.67" text-anchor="end" font-size="13.89" textLength="27.55" lengthAdjust="spacingAndGlyphs">−10</text>
<line x1="938.5" x2="938.5" y1="561.5" y2="566.36" stroke="#000" stroke-width="1.1"/>
<text x="938.85" y="581.38" text-anchor="middle" font-size="13.89" textLength="8.44" lengthAdjust="spacingAndGlyphs">0</text>
<line x1="1013.5" x2="1013.5" y1="561.5" y2="566.36" stroke="#000" stroke-width="1.1"/>
<text x="1013.91" y="581.38" text-anchor="middle" font-size="13.89" textLength="33.76" lengthAdjust="spacingAndGlyphs">2950</text>
<text x="1012.73" y="331.01" text-anchor="middle" font-size="13.89" textLength="132.76" lengthAdjust="spacingAndGlyphs">s_gas(Msun pc^-2)</text>
<g clip-path="url(#c11)">
<path d="M1095.3,334.5 1095.3,408.8 1057.3,408.8 1057.3,411.2 1095.3,411.2 1095.3,411.5 1027.2,411.5 1027.2,413.9 1017.8,413.9 1017.8,417.7 1008.4,417.7 1008.4,421.4 1004.4,421.4 1004.4,424.1 998.2,424.1 998.2,426.3 1000.3,426.3 1000.3,428.4 1007.0,428.4 1007.0,430.6 1012.4,430.6 1012.4,433.3 1010.5,433.3 1010.5,435.4 1016.5,435.4 1016.5,438.1 1017.8,438.1 1017.8,440.8 1014.3,440.8 1014.3,443.5 1008.4,443.5 1008.4,445.6 1004.4,445.6 1004.4,447.8 1001.7,447.8 1001.7,449.9 998.2,449.9 998.2,451.6 1005.7,451.6 1005.7,453.2 1011.6,453.2 1011.6,455.3 1015.1,455.3 1015.1,458.0 1011.1,458.0 1011.1,460.2 1008.9,460.2 1008.9,461.8 999.2,461.8 999.2,464.5 1002.5,464.5 1002.5,467.1 1006.2,467.1 1006.2,469.3 1011.1,469.3 1011.1,470.9 1004.4,470.9 1004.4,473.6 1007.9,473.6 1007.9,476.3 1011.1,476.3 1011.1,479.0 1013.2,479.0 1013.2,481.7 1015.9,481.7 1015.9,484.9 1019.1,484.9 1019.1,486.5 1064.9,486.5 1064.9,488.1 1095.3,488.1 1095.3,566.5" fill="none" stroke="#ff0000" stroke-width="1.39" stroke-linejoin="miter"/>
</g>
<rect x="931.5" y="339.5" width="164.0" height="222.0" fill="none" stroke="#000" stroke-width="1.1"/>
<clipPath id="c12"><rect x="1144.5" y="339.5" width="163.0" height="222.0"/></clipPath>
<g clip-path="url(#c12)">
<path d="M1150.8,372.6 1151.3,372.6 1151.3,481.1 1151.8,481.1 1151.8,376.4 1152.3,376.4 1152.3,481.0 1152.8,481.0 1152.8,380.9 1153.3,380.9 1153.3,481.1 1153.8,481.1 1153.8,384.7 1154.3,384.7 1154.3,480.9 1154.8,480.9 1154.8,375.9 1155.3,375.9 1155.3,481.0 1155.8,481.0 1155.9,364.8 1156.4,364.8 1156.4,481.1 1156.9,481.1 1156.9,374.7 1157.4,374.7 1157.4,481.1 1157.9,481.1 1157.9,379.5 1158.4,379.5 1158.4,481.1 1158.9,481.1 1158.9,382.8 1159.4,382.8 1159.4,481.1 1159.9,481.1 1159.9,384.0 1160.4,384.0 1160.4,481.1 1160.9,481.1 1160.9,377.6 1161.4,377.6 1161.4,481.0 1161.9,481.0 1161.9,371.5 1162.4,371.5 1162.4,481.1 1162.9,481.1 1162.9,377.5 1163.4,377.5 1163.4,481.1 1163.9,481.1 1163.9,379.7 1164.4,379.7 1164.4,480.8 1164.9,480.8 1164.9,374.1 1165.4,374.1 1165.4,481.1 1165.9,481.1 1165.9,364.8 1166.4,364.8 1166.4,480.9 1166.9,480.9 1166.9,377.0 1167.4,377.0 1167.4,480.8 1167.9,480.8 1167.9,377.2 1168.4,377.2 1168.4,481.1 1168.9,481.1 1168.9,376.8 1169.4,376.8 1169.4,480.9 1169.9,480.9 1169.9,368.0 1170.4,368.0 1170.4,481.0 1170.9,481.0 1170.9,367.1 1171.4,367.1 1171.4,481.1 1171.9,481.1 1171.9,365.7 1172.4,365.7 1172.4,481.0 1172.9,481.0 1172.9,369.8 1173.4,369.8 1173.4,481.1 1173.9,481.1 1173.9,375.0 1174.4,375.0 1174.4,481.1 1174.9,481.1 1174.9,381.4 1175.4,381.4 1175.4,481.1 1175.9,481.1 1176.0,384.1 1176.5,384.1 1176.5,480.9 1177.0,480.9 1177.0,380.9 1177.5,380.9 1177.5,480.9 1178.0,480.9 1178.0,364.5 1178.5,364.5 1178.5,481.1 1179.0,481.1 1179.0,379.9 1179.5,379.9 1179.5,480.7 1180.0,480.7 1180.0,381.9 1180.5,381.9 1180.5,480.0 1181.0,480.0 1181.0,381.2 1181.5,381.2 1181.5,480.4 1182.0,480.4 1182.0,366.5 1182.5,366.5 1182.5,481.1 1183.0,481.1 1183.0,372.2 1183.5,372.2 1183.5,481.1 1184.0,481.1 1184.0,377.0 1184.5,377.0 1184.5,481.0 1185.0,481.0 1185.0,381.9 1185.5,381.9 1185.5,481.1 1186.0,481.1 1186.0,386.9 1186.5,386.9 1186.5,481.1 1187.0,481.1 1187.0,389.2 1187.5,389.2 1187.5,481.0 1188.0,481.0 1188.0,387.0 1188.5,387.0 1188.5,481.1 1189.0,481.1 1189.0,383.6 1189.5,383.6 1189.5,481.1 1190.0,481.1 1190.0,379.9 1190.5,379.9 1190.5,481.1 1191.0,481.1 1191.0,379.4 1191.5,379.4 1191.5,481.0 1192.0,481.0 1192.0,378.8 1192.5,378.8 1192.5,480.5 1193.0,480.5 1193.0,365.3 1193.5,365.3 1193.5,481.1 1194.0,481.1 1194.0,384.3 1194.5,384.3 1194.5,479.6 1195.0,479.6 1195.1,395.6 1195.6,395.6 1195.6,479.9 1196.1,479.9 1196.1,395.8 1196.6,395.8 1196.6,481.1 1197.1,481.1 1197.1,390.9 1197.6,390.9 1197.6,481.1 1198.1,481.1 1198.1,395.6 1198.6,395.6 1198.6,481.0 1199.1,481.0 1199.1,396.3 1199.6,396.3 1199.6,481.1 1200.1,481.1 1200.1,395.9 1200.6,395.9 1200.6,481.1 1201.1,481.1 1201.1,395.1 1201.6,395.1 1201.6,481.0 1202.1,481.0 1202.1,385.7 1202.6,385.7 1202.6,480.6 1203.1,480.6 1203.1,394.5 1203.6,394.5 1203.6,481.1 1204.1,481.1 1204.1,394.9 1204.6,394.9 1204.6,480.3 1205.1,480.3 1205.1,393.7 1205.6,393.7 1205.6,480.4 1206.1,480.4 1206.1,393.2 1206.6,393.2 1206.6,481.0 1207.1,481.0 1207.1,400.5 1207.6,400.5 1207.6,481.1 1208.1,481.1 1208.1,400.3 1208.6,400.3 1208.6,481.1 1209.1,481.1 1209.1,397.0 1209.6,397.0 1209.6,480.9 1210.1,480.9 1210.1,386.1 1210.6,386.1 1210.6,481.1 1211.1,481.1 1211.1,386.8 1211.6,386.8 1211.6,481.1 1212.1,481.1 1212.1,386.7 1212.6,386.7 1212.6,481.1 1213.1,481.1 1213.1,388.2 1213.6,388.2 1213.6,480.8 1214.1,480.8 1214.1,391.2 1214.6,391.2 1214.6,481.0 1215.1,481.0 1215.2,392.4 1215.7,392.4 1215.7,479.0 1216.2,479.0 1216.2,391.1 1216.7,391.1 1216.7,479.6 1217.2,479.6 1217.2,386.5 1217.7,386.5 1217.7,480.8 1218.2,480.8 1218.2,390.5 1218.7,390.5 1218.7,481.0 1219.2,481.0 1219.2,391.6 1219.7,391.6 1219.7,481.1 1220.2,481.1 1220.2,383.2 1220.7,383.2 1220.7,481.0 1221.2,481.0 1221.2,384.0 1221.7,384.0 1221.7,481.1 1222.2,481.1 1222.2,391.4 1222.7,391.4 1222.7,481.1 1223.2,481.1 1223.2,386.5 1223.7,386.5 1223.7,481.1 1224.2,481.1 1224.2,384.0 1224.7,384.0 1224.7,481.1 1225.2,481.1 1225.2,388.4 1225.7,388.4 1225.7,481.1 1226.2,481.1 1226.2,387.4 1226.7,387.4 1226.7,481.1 1227.2,481.1 1227.2,391.8 1227.7,391.8 1227.7,480.5 1228.2,480.5 1228.2,391.1 1228.7,391.1 1228.7,481.1 1229.2,481.1 1229.2,388.8 1229.7,388.8 1229.7,481.1 1230.2,481.1 1230.2,381.0 1230.7,381.0 1230.7,480.9 1231.2,480.9 1231.2,396.5 1231.7,396.5 1231.7,480.9 1232.2,480.9 1232.2,397.7 1232.7,397.7 1232.7,481.1 1233.2,481.1 1233.2,396.8 1233.7,396.8 1233.7,481.1 1234.2,481.1 1234.3,395.6 1234.8,395.6 1234.8,480.6 1235.3,480.6 1235.3,397.2 1235.8,397.2 1235.8,481.1 1236.3,481.1 1236.3,394.4 1236.8,394.4 1236.8,481.1 1237.3,481.1 1237.3,393.3 1237.8,393.3 1237.8,479.7 1238.3,479.7 1238.3,389.8 1238.8,389.8 1238.8,481.1 1239.3,481.1 1239.3,394.5 1239.8,394.5 1239.8,480.8 1240.3,480.8 1240.3,396.3 1240.8,396.3 1240.8,480.9 1241.3,480.9 1241.3,393.0 1241.8,393.0 1241.8,479.1 1242.3,479.1 1242.3,387.1 1242.8,387.1 1242.8,480.4 1243.3,480.4 1243.3,393.2 1243.8,393.2 1243.8,481.1 1244.3,481.1 1244.3,395.4 1244.8,395.4 1244.8,481.1 1245.3,481.1 1245.3,391.5 1245.8,391.5 1245.8,480.7 1246.3,480.7 1246.3,398.6 1246.8,398.6 1246.8,481.1 1247.3,481.1 1247.3,404.8 1247.8,404.8 1247.8,480.9 1248.3,480.9 1248.3,403.3 1248.8,403.3 1248.8,481.1 1249.3,481.1 1249.3,371.5 1249.8,371.5 1249.8,480.9 1250.3,480.9 1250.3,388.3 1250.8,388.3 1250.8,481.0 1251.3,481.0 1251.3,392.8 1251.8,392.8 1251.8,481.1 1252.3,481.1 1252.3,389.4 1252.8,389.4 1252.8,481.0 1253.3,481.0 1253.3,378.2 1253.8,378.2 1253.8,481.1 1254.3,481.1 1254.4,391.3 1254.9,391.3 1254.9,480.2 1255.4,480.2 1255.4,394.3 1255.9,394.3 1255.9,481.1 1256.4,481.1 1256.4,391.8 1256.9,391.8 1256.9,481.1 1257.4,481.1 1257.4,393.2 1257.9,393.2 1257.9,481.0 1258.4,481.0 1258.4,395.8 1258.9,395.8 1258.9,481.0 1259.4,481.0 1259.4,395.6 1259.9,395.6 1259.9,480.9 1260.4,480.9 1260.4,392.8 1260.9,392.8 1260.9,480.7 1261.4,480.7 1261.4,388.8 1261.9,388.8 1261.9,481.1 1262.4,481.1 1262.4,386.6 1262.9,386.6 1262.9,481.0 1263.4,481.0 1263.4,392.1 1263.9,392.1 1263.9,481.1 1264.4,481.1 1264.4,396.1 1264.9,396.1 1264.9,480.7 1265.4,480.7 1265.4,395.0 1265.9,395.0 1265.9,481.1 1266.4,481.1 1266.4,392.3 1266.9,392.3 1266.9,480.6 1267.4,480.6 1267.4,394.1 1267.9,394.1 1267.9,481.1 1268.4,481.1 1268.4,395.2 1268.9,395.2 1268.9,481.1 1269.4,481.1 1269.4,393.1 1269.9,393.1 1269.9,481.1 1270.4,481.1 1270.4,406.1 1270.9,406.1 1270.9,481.1 1271.4,481.1 1271.4,408.5 1271.9,408.5 1271.9,481.0 1272.4,481.0 1272.4,403.9 1272.9,403.9 1272.9,479.4 1273.4,479.4 1273.5,395.6 1274.0,395.6 1274.0,481.0 1274.5,481.0 1274.5,395.5 1275.0,395.5 1275.0,481.0 1275.5,481.0 1275.5,391.5 1276.0,391.5 1276.0,480.7 1276.5,480.7 1276.5,406.7 1277.0,406.7 1277.0,480.4 1277.5,480.4 1277.5,407.0 1278.0,407.0 1278.0,481.1 1278.5,481.1 1278.5,403.3 1279.0,403.3 1279.0,481.0 1279.5,481.0 1279.5,402.3 1280.0,402.3 1280.0,481.1 1280.5,481.1 1280.5,399.5 1281.0,399.5 1281.0,481.1 1281.5,481.1 1281.5,394.8 1282.0,394.8 1282.0,481.0 1282.5,481.0 1282.5,396.3 1283.0,396.3 1283.0,481.1 1283.5,481.1 1283.5,397.0 1284.0,397.0 1284.0,481.0 1284.5,481.0 1284.5,400.5 1285.0,400.5 1285.0,481.1 1285.5,481.1 1285.5,400.4 1286.0,400.4 1286.0,481.1 1286.5,481.1 1286.5,400.2 1287.0,400.2 1287.0,481.0 1287.5,481.0 1287.5,394.8 1288.0,394.8 1288.0,481.1 1288.5,481.1 1288.5,399.7 1289.0,399.7 1289.0,481.0 1289.5,481.0 1289.5,401.5 1290.0,401.5 1290.0,481.1 1290.5,481.1 1290.5,420.9 1291.0,420.9 1291.0,481.1 1291.5,481.1 1291.5,421.0 1292.0,421.0 1292.0,480.6 1292.5,480.6 1292.5,407.3 1293.0,407.3 1293.0,481.1 1293.5,481.1 1293.6,410.0 1294.1,410.0 1294.1,481.1 1294.6,481.1 1294.6,412.1 1295.1,412.1 1295.1,481.0 1295.6,481.0 1295.6,410.7 1296.1,410.7 1296.1,480.9 1296.6,480.9 1296.6,403.7 1297.1,403.7 1297.1,481.1 1297.6,481.1 1297.6,400.1 1298.1,400.1 1298.1,481.1 1298.6,481.1 1298.6,391.5 1299.1,391.5 1299.1,480.7 1299.6,480.7 1299.6,391.6 1300.1,391.6 1300.1,481.1 1300.6,481.1" fill="none" stroke="#0000ff" stroke-width="2.08" stroke-linejoin="round" stroke-linecap="butt"/>
<line x1="1144.5" x2="1307.5" y1="363.35" y2="363.35" stroke="#ff0000" stroke-width="1.39"/>
<line x1="1144.5" x2="1307.5" y1="483.28" y2="483.28" stroke="#ff0000" stroke-width="1.39"/>
<line x1="1210.89" x2="1300.03" y1="401.53" y2="401.53" stroke="#000" stroke-width="2.78" stroke-dasharray="2.78 4.58"/>
<line x1="1210.89" x2="1300.03" y1="481.40" y2="481.40" stroke="#000" stroke-width="2.78" stroke-dasharray="2.78 4.58"/>
<line x1="1210.89" x2="1300.03" y1="428.42" y2="428.42" stroke="#000" stroke-width="2.78"/>
<line x1="1210.89" x2="1300.03" y1="472.53" y2="472.53" stroke="#000" stroke-width="2.78"/>
<line x1="1210.89" x2="1300.03" y1="449.94" y2="449.94" stroke="#ff0000" stroke-width="2.08"/>
</g>
<line x1="1139.64" x2="1144.5" y1="350.5" y2="350.5" stroke="#000" stroke-width="1.1"/>
<text x="1133.04" y="355.47" text-anchor="end" font-size="13.89" textLength="31.70" lengthAdjust="spacingAndGlyphs">−1.0</text>
<line x1="1139.64" x2="1144.5" y1="383.5" y2="383.5" stroke="#000" stroke-width="1.1"/>
<text x="1133.04" y="388.81" text-anchor="end" font-size="13.89" textLength="31.70" lengthAdjust="spacingAndGlyphs">−1.5</text>
<line x1="1139.64" x2="1144.5" y1="416.5" y2="416.5" stroke="#000" stroke-width="1.1"/>
<text x="1133.04" y="421.62" text-anchor="end" font-size="13.89" textLength="31.70" lengthAdjust="spacingAndGlyphs">−2.0</text>
<line x1="1139.64" x2="1144.5" y1="449.5" y2="449.5" stroke="#000" stroke-width="1.1"/>
<text x="1133.04" y="454.97" text-anchor="end" font-size="13.89" textLength="31.70" lengthAdjust="spacingAndGlyphs">−2.5</text>
<line x1="1139.64" x2="1144.5" y1="483.5" y2="483.5" stroke="#000" stroke-width="1.1"/>
<text x="1133.04" y="488.31" text-anchor="end" font-size="13.89" textLength="31.70" lengthAdjust="spacingAndGlyphs">−3.0</text>
<line x1="1139.64" x2="1144.5" y1="516.5" y2="516.5" stroke="#000" stroke-width="1.1"/>
<text x="1133.04" y="521.39" text-anchor="end" font-size="13.89" textLength="31.70" lengthAdjust="spacingAndGlyphs">−3.5</text>
<line x1="1139.64" x2="1144.5" y1="549.5" y2="549.5" stroke="#000" stroke-width="1.1"/>
<text x="1133.04" y="554.74" text-anchor="end" font-size="13.89" textLength="31.70" lengthAdjust="spacingAndGlyphs">−4.0</text>
<line x1="1151.5" x2="1151.5" y1="561.5" y2="566.36" stroke="#000" stroke-width="1.1"/>
<text x="1151.57" y="581.38" text-anchor="middle" font-size="13.89" textLength="8.44" lengthAdjust="spacingAndGlyphs">0</text>
<line x1="1226.5" x2="1226.5" y1="561.5" y2="566.36" stroke="#000" stroke-width="1.1"/>
<text x="1226.63" y="581.38" text-anchor="middle" font-size="13.89" textLength="33.76" lengthAdjust="spacingAndGlyphs">2950</text>
<text x="1225.45" y="331.01" text-anchor="middle" font-size="13.89" textLength="20.35" lengthAdjust="spacingAndGlyphs">X()</text>
<g clip-path="url(#c12)">
<path d="M1307.3,334.5 1307.3,378.2 1306.8,378.2 1306.8,384.0 1305.7,384.0 1305.7,387.3 1303.2,387.3 1303.2,389.0 1300.7,389.0 1300.7,391.5 1298.2,391.5 1298.2,394.8 1297.3,394.8 1297.3,399.0 1295.7,399.0 1295.7,400.3 1291.5,400.3 1291.5,404.0 1289.0,404.0 1289.0,406.0 1284.8,406.0 1284.8,408.2 1281.5,408.2 1281.5,410.7 1277.3,410.7 1277.3,413.2 1270.7,413.2 1270.7,415.7 1264.8,415.7 1264.8,418.2 1260.7,418.2 1260.7,420.7 1254.0,420.7 1254.0,423.7 1251.5,423.7 1251.5,425.7 1248.7,425.7 1248.7,428.2 1247.0,428.2 1247.0,430.7 1245.3,430.7 1245.3,432.3 1234.0,432.3 1234.0,434.0 1227.3,434.0 1227.3,436.0 1234.8,436.0 1234.8,438.2 1233.2,438.2 1233.2,440.3 1226.5,440.3 1226.5,442.3 1224.3,442.3 1224.3,444.8 1231.5,444.8 1231.5,447.3 1238.2,447.3 1238.2,449.3 1211.5,449.3 1211.5,451.5 1220.7,451.5 1220.7,454.0 1219.8,454.0 1219.8,456.5 1218.2,456.5 1218.2,458.7 1214.8,458.7 1214.8,460.7 1223.2,460.7 1223.2,462.7 1231.5,462.7 1231.5,466.5 1230.7,466.5 1230.7,468.2 1216.5,468.2 1216.5,469.8 1207.3,469.8 1207.3,471.5 1219.8,471.5 1219.8,474.0 1232.3,474.0 1232.3,476.5 1235.3,476.5 1235.3,479.0 1227.3,479.0 1227.3,480.7 1259.8,480.7 1259.8,482.3 1307.3,482.3 1307.3,566.5" fill="none" stroke="#ff0000" stroke-width="1.39" stroke-linejoin="miter"/>
</g>
<rect x="1144.5" y="339.5" width="163.0" height="222.0" fill="none" stroke="#000" stroke-width="1.1"/>
<clipPath id="c13"><rect x="1356.5" y="339.5" width="164.0" height="222.0"/></clipPath>
<g clip-path="url(#c13)">
<path d="M1363.6,378.9 1364.1,378.9 1364.1,513.0 1364.6,513.0 1364.6,347.3 1365.1,347.3 1365.1,512.5 1365.6,512.5 1365.6,361.4 1366.1,361.4 1366.1,513.2 1366.6,513.2 1366.6,367.1 1367.1,367.1 1367.1,517.4 1367.6,517.4 1367.6,374.1 1368.1,374.1 1368.1,528.5 1368.6,528.5 1368.6,377.4 1369.1,377.4 1369.1,524.3 1369.6,524.3 1369.6,376.3 1370.1,376.3 1370.1,528.5 1370.6,528.5 1370.6,377.6 1371.1,377.6 1371.1,527.0 1371.6,527.0 1371.6,381.2 1372.1,381.2 1372.1,524.6 1372.6,524.6 1372.6,381.1 1373.1,381.1 1373.1,526.4 1373.6,526.4 1373.6,366.5 1374.1,366.5 1374.1,525.7 1374.6,525.7 1374.6,378.6 1375.1,378.6 1375.1,515.6 1375.6,515.6 1375.6,383.1 1376.1,383.1 1376.1,513.8 1376.6,513.8 1376.6,382.3 1377.1,382.3 1377.1,514.4 1377.6,514.4 1377.6,365.3 1378.1,365.3 1378.1,516.5 1378.6,516.5 1378.6,378.4 1379.1,378.4 1379.1,520.3 1379.6,520.3 1379.6,383.6 1380.1,383.6 1380.1,522.4 1380.6,522.4 1380.6,388.9 1381.1,388.9 1381.1,525.7 1381.6,525.7 1381.6,388.4 1382.1,388.4 1382.1,521.9 1382.6,521.9 1382.6,384.9 1383.1,384.9 1383.1,520.3 1383.6,520.3 1383.7,382.8 1384.2,382.8 1384.2,516.7 1384.7,516.7 1384.7,385.2 1385.2,385.2 1385.2,512.6 1385.7,512.6 1385.7,390.3 1386.2,390.3 1386.2,512.5 1386.7,512.5 1386.7,387.5 1387.2,387.5 1387.2,511.0 1387.7,511.0 1387.7,383.5 1388.2,383.5 1388.2,511.3 1388.7,511.3 1388.7,376.2 1389.2,376.2 1389.2,510.7 1389.7,510.7 1389.7,373.9 1390.2,373.9 1390.2,500.9 1390.7,500.9 1390.7,366.3 1391.2,366.3 1391.2,501.5 1391.7,501.5 1391.7,382.8 1392.2,382.8 1392.2,502.7 1392.7,502.7 1392.7,387.6 1393.2,387.6 1393.2,504.9 1393.7,504.9 1393.7,383.6 1394.2,383.6 1394.2,507.4 1394.7,507.4 1394.7,370.3 1395.2,370.3 1395.2,501.5 1395.7,501.5 1395.7,383.6 1396.2,383.6 1396.2,501.9 1396.7,501.9 1396.7,389.0 1397.2,389.0 1397.2,503.4 1397.7,503.4 1397.7,401.1 1398.2,401.1 1398.2,511.5 1398.7,511.5 1398.7,404.1 1399.2,404.1 1399.2,510.4 1399.7,510.4 1399.7,402.1 1400.2,402.1 1400.2,510.3 1400.7,510.3 1400.7,388.8 1401.2,388.8 1401.2,511.4 1401.7,511.4 1401.7,376.5 1402.2,376.5 1402.2,510.3 1402.7,510.3 1402.8,377.4 1403.3,377.4 1403.3,513.4 1403.8,513.4 1403.8,378.7 1404.3,378.7 1404.3,513.2 1404.8,513.2 1404.8,392.0 1405.3,392.0 1405.3,518.8 1405.8,518.8 1405.8,399.2 1406.3,399.2 1406.3,509.6 1406.8,509.6 1406.8,398.0 1407.3,398.0 1407.3,509.0 1407.8,509.0 1407.8,392.7 1408.3,392.7 1408.3,508.2 1408.8,508.2 1408.8,388.1 1409.3,388.1 1409.3,506.9 1409.8,506.9 1409.8,387.3 1410.3,387.3 1410.3,508.1 1410.8,508.1 1410.8,384.0 1411.3,384.0 1411.3,509.7 1411.8,509.7 1411.8,398.3 1412.3,398.3 1412.3,511.2 1412.8,511.2 1412.8,400.6 1413.3,400.6 1413.3,514.0 1413.8,514.0 1413.8,399.1 1414.3,399.1 1414.3,519.5 1414.8,519.5 1414.8,382.8 1415.3,382.8 1415.3,507.2 1415.8,507.2 1415.8,382.5 1416.3,382.5 1416.3,504.6 1416.8,504.6 1416.8,379.6 1417.3,379.6 1417.3,503.7 1417.8,503.7 1417.8,380.7 1418.3,380.7 1418.3,501.8 1418.8,501.8 1418.8,385.9 1419.3,385.9 1419.3,500.2 1419.8,500.2 1419.8,386.0 1420.3,386.0 1420.3,497.5 1420.8,497.5 1420.8,377.0 1421.3,377.0 1421.3,496.8 1421.8,496.8 1421.8,394.3 1422.3,394.3 1422.3,492.9 1422.8,492.9 1422.9,399.4 1423.4,399.4 1423.4,493.2 1423.9,493.2 1423.9,396.0 1424.4,396.0 1424.4,495.9 1424.9,495.9 1424.9,389.9 1425.4,389.9 1425.4,499.1 1425.9,499.1 1425.9,391.8 1426.4,391.8 1426.4,504.5 1426.9,504.5 1426.9,391.8 1427.4,391.8 1427.4,519.0 1427.9,519.0 1427.9,390.7 1428.4,390.7 1428.4,505.2 1428.9,505.2 1428.9,389.6 1429.4,389.6 1429.4,501.0 1429.9,501.0 1429.9,385.7 1430.4,385.7 1430.4,503.2 1430.9,503.2 1430.9,389.0 1431.4,389.0 1431.4,507.7 1431.9,507.7 1431.9,388.3 1432.4,388.3 1432.4,509.0 1432.9,509.0 1432.9,377.7 1433.4,377.7 1433.4,503.2 1433.9,503.2 1433.9,389.9 1434.4,389.9 1434.4,503.4 1434.9,503.4 1434.9,394.9 1435.4,394.9 1435.4,502.4 1435.9,502.4 1435.9,394.4 1436.4,394.4 1436.4,504.3 1436.9,504.3 1436.9,390.1 1437.4,390.1 1437.4,507.3 1437.9,507.3 1437.9,384.0 1438.4,384.0 1438.4,502.4 1438.9,502.4 1438.9,390.6 1439.4,390.6 1439.4,502.9 1439.9,502.9 1439.9,396.5 1440.4,396.5 1440.4,505.5 1440.9,505.5 1440.9,397.0 1441.4,397.0 1441.4,521.5 1441.9,521.5 1442.0,398.3 1442.5,398.3 1442.5,511.8 1443.0,511.8 1443.0,395.5 1443.5,395.5 1443.5,504.1 1444.0,504.1 1444.0,392.0 1444.5,392.0 1444.5,497.7 1445.0,497.7 1445.0,395.2 1445.5,395.2 1445.5,495.6 1446.0,495.6 1446.0,396.1 1446.5,396.1 1446.5,500.3 1447.0,500.3 1447.0,395.6 1447.5,395.6 1447.5,513.2 1448.0,513.2 1448.0,396.5 1448.5,396.5 1448.5,504.4 1449.0,504.4 1449.0,395.7 1449.5,395.7 1449.5,495.0 1450.0,495.0 1450.0,394.7 1450.5,394.7 1450.5,492.6 1451.0,492.6 1451.0,392.0 1451.5,392.0 1451.5,493.4 1452.0,493.4 1452.0,404.3 1452.5,404.3 1452.5,499.0 1453.0,499.0 1453.0,403.3 1453.5,403.3 1453.5,494.1 1454.0,494.1 1454.0,400.1 1454.5,400.1 1454.5,488.4 1455.0,488.4 1455.0,393.1 1455.5,393.1 1455.5,490.9 1456.0,490.9 1456.0,387.3 1456.5,387.3 1456.5,490.2 1457.0,490.2 1457.0,398.2 1457.5,398.2 1457.5,494.6 1458.0,494.6 1458.0,400.3 1458.5,400.3 1458.5,498.9 1459.0,498.9 1459.0,397.5 1459.5,397.5 1459.5,501.8 1460.0,501.8 1460.0,390.7 1460.5,390.7 1460.5,502.8 1461.0,502.8 1461.0,381.1 1461.5,381.1 1461.5,503.2 1462.0,503.2 1462.1,386.5 1462.6,386.5 1462.6,500.6 1463.1,500.6 1463.1,388.0 1463.6,388.0 1463.6,500.1 1464.1,500.1 1464.1,386.0 1464.6,386.0 1464.6,500.8 1465.1,500.8 1465.1,374.0 1465.6,374.0 1465.6,507.3 1466.1,507.3 1466.1,382.3 1466.6,382.3 1466.6,501.5 1467.1,501.5 1467.1,393.5 1467.6,393.5 1467.6,496.6 1468.1,496.6 1468.1,392.7 1468.6,392.7 1468.6,494.0 1469.1,494.0 1469.1,391.6 1469.6,391.6 1469.6,494.9 1470.1,494.9 1470.1,385.1 1470.6,385.1 1470.6,498.3 1471.1,498.3 1471.1,386.7 1471.6,386.7 1471.6,501.4 1472.1,501.4 1472.1,383.0 1472.6,383.0 1472.6,498.1 1473.1,498.1 1473.1,377.7 1473.6,377.7 1473.6,497.0 1474.1,497.0 1474.1,392.4 1474.6,392.4 1474.6,499.4 1475.1,499.4 1475.1,395.7 1475.6,395.7 1475.6,499.1 1476.1,499.1 1476.1,393.1 1476.6,393.1 1476.6,499.8 1477.1,499.8 1477.1,389.0 1477.6,389.0 1477.6,501.5 1478.1,501.5 1478.1,392.2 1478.6,392.2 1478.6,505.3 1479.1,505.3 1479.1,395.3 1479.6,395.3 1479.6,507.3 1480.1,507.3 1480.1,395.1 1480.6,395.1 1480.6,494.5 1481.1,494.5 1481.2,393.2 1481.7,393.2 1481.7,493.8 1482.2,493.8 1482.2,398.4 1482.7,398.4 1482.7,495.5 1483.2,495.5 1483.2,397.4 1483.7,397.4 1483.7,496.8 1484.2,496.8 1484.2,398.2 1484.7,398.2 1484.7,502.3 1485.2,502.3 1485.2,398.9 1485.7,398.9 1485.7,496.3 1486.2,496.3 1486.2,397.2 1486.7,397.2 1486.7,493.0 1487.2,493.0 1487.2,394.8 1487.7,394.8 1487.7,494.0 1488.2,494.0 1488.2,398.2 1488.7,398.2 1488.7,493.3 1489.2,493.3 1489.2,399.6 1489.7,399.6 1489.7,502.3 1490.2,502.3 1490.2,403.2 1490.7,403.2 1490.7,491.2 1491.2,491.2 1491.2,401.8 1491.7,401.8 1491.7,490.6 1492.2,490.6 1492.2,408.2 1492.7,408.2 1492.7,488.1 1493.2,488.1 1493.2,408.5 1493.7,408.5 1493.7,490.6 1494.2,490.6 1494.2,403.6 1494.7,403.6 1494.7,498.7 1495.2,498.7 1495.2,400.7 1495.7,400.7 1495.7,498.7 1496.2,498.7 1496.2,404.3 1496.7,404.3 1496.7,501.5 1497.2,501.5 1497.2,407.8 1497.7,407.8 1497.7,501.4 1498.2,501.4 1498.2,407.5 1498.7,407.5 1498.7,499.5 1499.2,499.5 1499.2,401.7 1499.7,401.7 1499.7,498.7 1500.2,498.7 1500.3,394.8 1500.8,394.8 1500.8,494.2 1501.3,494.2 1501.3,411.8 1501.8,411.8 1501.8,484.5 1502.3,484.5 1502.3,410.0 1502.8,410.0 1502.8,482.5 1503.3,482.5 1503.3,410.9 1503.8,410.9 1503.8,482.9 1504.3,482.9 1504.3,407.3 1504.8,407.3 1504.8,480.7 1505.3,480.7 1505.3,412.8 1505.8,412.8 1505.8,479.7 1506.3,479.7 1506.3,416.0 1506.8,416.0 1506.8,485.1 1507.3,485.1 1507.3,416.9 1507.8,416.9 1507.8,491.5 1508.3,491.5 1508.3,417.7 1508.8,417.7 1508.8,491.8 1509.3,491.8 1509.3,416.5 1509.8,416.5 1509.8,492.3 1510.3,492.3 1510.3,415.5 1510.8,415.5 1510.8,480.1 1511.3,480.1 1511.3,399.8 1511.8,399.8 1511.8,478.7 1512.3,478.7 1512.3,413.7 1512.8,413.7 1512.8,475.8 1513.3,475.8" fill="none" stroke="#0000ff" stroke-width="2.08" stroke-linejoin="round" stroke-linecap="butt"/>
<line x1="1423.61" x2="1512.76" y1="405.57" y2="405.57" stroke="#000" stroke-width="2.78" stroke-dasharray="2.78 4.58"/>
<line x1="1423.61" x2="1512.76" y1="492.43" y2="492.43" stroke="#000" stroke-width="2.78" stroke-dasharray="2.78 4.58"/>
<line x1="1423.61" x2="1512.76" y1="428.42" y2="428.42" stroke="#000" stroke-width="2.78"/>
<line x1="1423.61" x2="1512.76" y1="472.53" y2="472.53" stroke="#000" stroke-width="2.78"/>
<line x1="1423.61" x2="1512.76" y1="449.94" y2="449.94" stroke="#ff0000" stroke-width="2.08"/>
</g>
<line x1="1351.64" x2="1356.5" y1="350.5" y2="350.5" stroke="#000" stroke-width="1.1"/>
<text x="1345.76" y="355.47" text-anchor="end" font-size="13.89" textLength="37.38" lengthAdjust="spacingAndGlyphs">0.800</text>
<line x1="1351.64" x2="1356.5" y1="379.5" y2="379.5" stroke="#000" stroke-width="1.1"/>
<text x="1345.76" y="384.51" text-anchor="end" font-size="13.89" textLength="37.38" lengthAdjust="spacingAndGlyphs">0.775</text>
<line x1="1351.64" x2="1356.5" y1="407.5" y2="407.5" stroke="#000" stroke-width="1.1"/>
<text x="1345.76" y="412.48" text-anchor="end" font-size="13.89" textLength="37.38" lengthAdjust="spacingAndGlyphs">0.750</text>
<line x1="1351.64" x2="1356.5" y1="435.5" y2="435.5" stroke="#000" stroke-width="1.1"/>
<text x="1345.76" y="440.72" text-anchor="end" font-size="13.89" textLength="37.38" lengthAdjust="spacingAndGlyphs">0.725</text>
<line x1="1351.64" x2="1356.5" y1="463.5" y2="463.5" stroke="#000" stroke-width="1.1"/>
<text x="1345.76" y="468.68" text-anchor="end" font-size="13.89" textLength="37.38" lengthAdjust="spacingAndGlyphs">0.700</text>
<line x1="1351.64" x2="1356.5" y1="491.5" y2="491.5" stroke="#000" stroke-width="1.1"/>
<text x="1345.76" y="497.19" text-anchor="end" font-size="13.89" textLength="37.38" lengthAdjust="spacingAndGlyphs">0.675</text>
<line x1="1351.64" x2="1356.5" y1="520.5" y2="520.5" stroke="#000" stroke-width="1.1"/>
<text x="1345.76" y="525.43" text-anchor="end" font-size="13.89" textLength="37.38" lengthAdjust="spacingAndGlyphs">0.650</text>
<line x1="1363.5" x2="1363.5" y1="561.5" y2="566.36" stroke="#000" stroke-width="1.1"/>
<text x="1364.30" y="581.38" text-anchor="middle" font-size="13.89" textLength="8.44" lengthAdjust="spacingAndGlyphs">0</text>
<line x1="1438.5" x2="1438.5" y1="561.5" y2="566.36" stroke="#000" stroke-width="1.1"/>
<text x="1439.36" y="581.38" text-anchor="middle" font-size="13.89" textLength="33.76" lengthAdjust="spacingAndGlyphs">2950</text>
<text x="1438.18" y="331.01" text-anchor="middle" font-size="13.89" textLength="77.85" lengthAdjust="spacingAndGlyphs">rline(None)</text>
<rect x="1311.3" y="526.6" width="258.5" height="30.399999999999977" rx="2.8" fill="#333" fill-opacity="0.62"/>
<rect x="1309.3" y="524.6" width="258.5" height="30.399999999999977" rx="2.8" fill="#fff" stroke="#cccccc" stroke-width="1.1"/>
<line x1="1315.0" x2="1342.0" y1="541.0" y2="541.0" stroke="#ff0000" stroke-width="2.08"/>
<line x1="1392.6" x2="1419.6" y1="541.3" y2="541.3" stroke="#000" stroke-width="3.2"/>
<line x1="1469.9" x2="1497.7" y1="541.3" y2="541.3" stroke="#000" stroke-width="2.78" stroke-dasharray="2.78 4.58"/>
<text x="1355.2" y="545.9" font-size="13.89" font-style="italic" textLength="8.6" lengthAdjust="spacingAndGlyphs">P</text>
<path d="M1358.2,532.6 L1359.9,530.3 L1361.6,532.6" fill="none" stroke="#000" stroke-width="0.8"/>
<text x="1432.4" y="545.9" font-size="13.89" font-style="italic" textLength="8.8" lengthAdjust="spacingAndGlyphs">σ</text>
<text x="1508.30" y="545.90" text-anchor="start" font-size="13.89" textLength="53.49" lengthAdjust="spacingAndGlyphs">95 % CI</text>
<g clip-path="url(#c13)">
<path d="M1520.3,334.5 1520.3,374.8 1518.8,374.8 1518.8,381.5 1519.0,381.5 1519.0,387.3 1516.8,387.3 1516.8,392.3 1514.3,392.3 1514.3,395.7 1512.7,395.7 1512.7,399.8 1510.2,399.8 1510.2,402.3 1507.7,402.3 1507.7,404.8 1505.2,404.8 1505.2,407.3 1501.0,407.3 1501.0,409.8 1496.0,409.8 1496.0,413.2 1498.5,413.2 1498.5,415.7 1489.3,415.7 1489.3,418.2 1484.3,418.2 1484.3,421.5 1475.2,421.5 1475.2,424.0 1464.3,424.0 1464.3,426.5 1454.3,426.5 1454.3,430.7 1452.7,430.7 1452.7,433.2 1455.2,433.2 1455.2,434.0 1449.3,434.0 1449.3,436.5 1441.8,436.5 1441.8,439.0 1442.7,439.0 1442.7,442.3 1430.2,442.3 1430.2,444.8 1426.8,444.8 1426.8,447.3 1425.2,447.3 1425.2,449.3 1419.3,449.3 1419.3,451.5 1426.0,451.5 1426.0,454.0 1424.3,454.0 1424.3,457.0 1431.8,457.0 1431.8,458.7 1442.7,458.7 1442.7,460.7 1446.8,460.7 1446.8,462.7 1455.2,462.7 1455.2,465.3 1456.8,465.3 1456.8,467.3 1459.3,467.3 1459.3,469.8 1460.2,469.8 1460.2,474.0 1469.3,474.0 1469.3,476.5 1476.0,476.5 1476.0,479.0 1483.5,479.0 1483.5,480.7 1492.7,480.7 1492.7,483.2 1496.8,483.2 1496.8,485.7 1500.2,485.7 1500.2,489.0 1502.7,489.0 1502.7,492.3 1507.7,492.3 1507.7,494.8 1511.0,494.8 1511.0,498.2 1514.3,498.2 1514.3,500.7 1516.8,500.7 1516.8,503.2 1519.0,503.2 1519.0,505.7 1518.0,505.7 1518.0,510.3 1519.3,510.3 1519.3,524.0 1520.3,524.0 1520.3,566.5" fill="none" stroke="#ff0000" stroke-width="1.39" stroke-linejoin="miter"/>
</g>
<rect x="1356.5" y="339.5" width="164.0" height="222.0" fill="none" stroke="#000" stroke-width="1.1"/>
<clipPath id="cb"><rect x="80.5" y="632.5" width="1440.0" height="223.0"/></clipPath>
<path d="M145.3,641.3 146.0,643.5 147.0,646.8 150.0,648.6 156.0,650.5 170.0,652.6 200.0,655.5 260.0,658.6 400.0,663.5 600.0,668.5 800.0,673.3 1000.0,678.3 1100.0,681.3 1200.0,685.2 1260.0,688.3 1300.0,691.2 1330.0,694.6 1345.5,696.8 1346.0,698.1 1346.3,702.6 1346.7,698.4 1347.1,707.6 1347.4,698.4 1347.8,705.2 1348.1,698.4 1348.5,712.2 1348.8,698.4 1349.2,781.5 1349.5,698.6 1349.9,712.6 1350.2,699.2 1350.6,703.5 1350.9,698.2 1351.3,708.9 1351.6,698.9 1352.0,704.0 1352.3,698.0 1352.7,705.2 1353.0,698.7 1353.4,706.9 1353.7,698.5 1354.1,704.9 1354.4,698.1 1354.8,714.2 1355.1,698.2 1355.5,738.0 1355.8,698.7 1356.2,714.6 1356.5,698.3 1356.9,711.0 1357.2,698.8 1357.6,709.9 1357.9,698.1 1358.3,715.1 1358.6,698.5 1359.0,845.5 1359.3,698.3 1359.7,715.2 1360.0,698.2 1360.4,707.8 1360.7,698.1 1361.1,710.6 1361.4,698.2 1361.8,714.0 1362.1,698.1 1362.5,704.9 1362.8,698.7 1363.2,710.5 1363.5,699.1 1363.9,714.5 1364.2,698.3 1364.6,708.4 1364.9,698.1 1365.3,710.6 1365.6,698.1 1366.0,715.8 1366.3,698.5 1366.7,743.0 1367.0,698.1 1367.4,715.9 1367.7,698.0 1368.1,718.9 1368.4,699.1 1368.8,713.6 1369.1,699.0 1369.5,710.5 1369.8,698.5 1370.2,711.3 1370.5,698.2 1370.9,716.0 1371.2,698.1 1371.6,712.6 1371.9,698.2 1372.3,714.2 1372.6,698.7 1373.0,709.9 1373.3,698.4 1373.7,706.0 1374.0,698.8 1374.4,716.6 1374.7,698.1 1375.1,733.5 1375.4,698.2 1375.8,716.7 1376.1,698.0 1376.5,706.9 1376.8,698.4 1377.2,713.8 1377.5,698.4 1377.9,707.2 1378.2,698.1 1378.6,706.8 1378.9,698.9 1379.3,707.6 1379.6,699.2 1380.0,708.3 1380.3,698.2 1380.7,716.8 1381.0,699.0 1381.4,728.0 1381.7,699.0 1382.1,717.0 1382.4,698.4 1382.8,714.1 1383.1,698.0 1383.5,708.1 1383.8,698.3 1384.2,709.6 1384.5,698.3 1384.9,711.0 1385.2,698.2 1385.6,708.2 1385.9,698.6 1386.3,707.4 1386.6,698.1 1387.0,715.8 1387.3,698.2 1387.7,712.0 1388.0,698.4 1388.4,709.8 1388.7,698.8 1389.1,718.6 1389.4,698.4 1389.8,712.4 1390.1,698.4 1390.5,714.9 1390.8,698.0 1391.2,719.5 1391.5,698.3 1391.9,715.1 1392.2,698.0 1392.6,717.1 1392.9,699.0 1393.3,717.0 1393.6,698.5 1394.0,715.9 1394.3,699.0 1394.7,721.2 1395.0,698.1 1395.4,718.6 1395.7,700.1 1396.1,727.0 1396.4,698.1 1396.8,718.5 1397.1,698.6 1397.5,712.9 1397.8,698.3 1398.2,715.5 1398.5,698.4 1398.9,720.4 1399.2,698.1 1399.6,737.5 1399.9,698.4 1400.3,720.1 1400.7,698.3 1401.0,715.4 1401.4,698.4 1401.7,709.2 1402.1,698.6 1402.4,713.1 1402.8,698.4 1403.1,713.9 1403.5,698.1 1403.8,714.2 1404.2,698.0 1404.5,719.4 1404.9,698.6 1405.2,733.5 1405.6,698.7 1405.9,719.1 1406.3,698.2 1406.6,712.0 1407.0,698.0 1407.3,712.6 1407.7,698.2 1408.0,716.4 1408.4,698.1 1408.7,725.0 1409.1,698.7 1409.4,716.3 1409.8,698.2 1410.1,707.7 1410.5,698.0 1410.8,710.4 1411.2,698.3 1411.5,719.6 1411.9,698.1 1412.2,734.0 1412.6,698.2 1412.9,718.4 1413.3,698.0 1413.6,714.0 1414.0,698.1 1414.3,714.6 1414.7,698.5 1415.0,713.0 1415.4,699.1 1415.7,715.3 1416.1,698.7 1416.4,709.3 1416.8,698.2 1417.1,713.1 1417.5,698.5 1417.8,714.8 1418.2,698.0 1418.5,711.1 1418.9,698.6 1419.2,715.9 1419.6,698.1 1419.9,720.9 1420.3,698.3 1420.6,749.0 1421.0,698.1 1421.3,721.4 1421.7,698.6 1422.0,715.0 1422.4,698.5 1422.7,712.8 1423.1,698.1 1423.4,722.2 1423.8,698.3 1424.1,737.0 1424.5,698.3 1424.8,722.7 1425.2,698.7 1425.5,716.9 1425.9,700.7 1426.2,718.6 1426.6,701.0 1426.9,722.5 1427.3,700.7 1427.6,733.0 1428.0,700.8 1428.3,722.8 1428.7,700.8 1429.0,716.3 1429.4,701.0 1429.7,723.6 1430.1,700.6 1430.4,735.5 1430.8,701.7 1431.1,723.2 1431.5,700.6 1431.8,711.3 1432.2,700.8 1432.5,714.4 1432.9,701.0 1433.2,716.4 1433.6,700.8 1433.9,722.5 1434.3,701.1 1434.6,759.0 1435.0,698.6 1435.3,722.1 1435.7,698.5 1436.0,719.7 1436.4,698.1 1436.7,718.9 1437.1,698.8 1437.4,713.9 1437.8,698.7 1438.1,716.3 1438.5,698.7 1438.8,721.1 1439.2,698.1 1439.5,740.5 1439.9,698.5 1440.2,720.2 1440.6,698.5 1440.9,719.7 1441.3,698.6 1441.6,738.0 1442.0,699.2 1442.3,718.6 1442.7,698.3 1443.0,708.5 1443.4,698.4 1443.7,710.0 1444.1,698.3 1444.4,709.8 1444.8,698.2 1445.1,707.9 1445.5,698.1 1445.8,713.4 1446.2,698.2 1446.5,711.4 1446.9,698.1 1447.2,717.5 1447.6,698.3 1447.9,711.3 1448.3,698.5 1448.6,707.6 1449.0,698.3 1449.3,706.1 1449.7,698.1 1450.0,713.8 1450.4,698.1 1450.7,709.3 1451.1,698.4 1451.4,712.0 1451.8,698.3 1452.1,709.4 1452.5,698.1 1452.8,707.1 1453.2,698.6 1453.5,708.9 1453.9,698.4 1454.2,711.1 1454.6,698.4 1454.9,716.0 1455.3,698.1 1455.6,711.2" fill="none" stroke="#1f77b4" stroke-width="2.08" stroke-linejoin="round" clip-path="url(#cb)"/>
<rect x="80.5" y="632.5" width="1440.0" height="223.0" fill="none" stroke="#000" stroke-width="1.1"/>
<line x1="75.64" x2="80.5" y1="641.5" y2="641.5" stroke="#000" stroke-width="1.1"/>
<text x="69.40" y="646.30" text-anchor="end" font-size="13.89" textLength="31.70" lengthAdjust="spacingAndGlyphs">−3.0</text>
<line x1="75.64" x2="80.5" y1="672.5" y2="672.5" stroke="#000" stroke-width="1.1"/>
<text x="69.40" y="678.05" text-anchor="end" font-size="13.89" textLength="31.70" lengthAdjust="spacingAndGlyphs">−3.5</text>
<line x1="75.64" x2="80.5" y1="704.5" y2="704.5" stroke="#000" stroke-width="1.1"/>
<text x="69.40" y="709.80" text-anchor="end" font-size="13.89" textLength="31.70" lengthAdjust="spacingAndGlyphs">−4.0</text>
<line x1="75.64" x2="80.5" y1="736.5" y2="736.5" stroke="#000" stroke-width="1.1"/>
<text x="69.40" y="741.55" text-anchor="end" font-size="13.89" textLength="31.70" lengthAdjust="spacingAndGlyphs">−4.5</text>
<line x1="75.64" x2="80.5" y1="768.5" y2="768.5" stroke="#000" stroke-width="1.1"/>
<text x="69.40" y="773.30" text-anchor="end" font-size="13.89" textLength="31.70" lengthAdjust="spacingAndGlyphs">−5.0</text>
<line x1="75.64" x2="80.5" y1="799.5" y2="799.5" stroke="#000" stroke-width="1.1"/>
<text x="69.40" y="805.05" text-anchor="end" font-size="13.89" textLength="31.70" lengthAdjust="spacingAndGlyphs">−5.5</text>
<line x1="75.64" x2="80.5" y1="831.5" y2="831.5" stroke="#000" stroke-width="1.1"/>
<text x="69.40" y="836.80" text-anchor="end" font-size="13.89" textLength="31.70" lengthAdjust="spacingAndGlyphs">−6.0</text>
<line x1="145.5" x2="145.5" y1="855.5" y2="860.36" stroke="#000" stroke-width="1.1"/>
<text x="145.95" y="875.12" text-anchor="middle" font-size="13.89" textLength="8.44" lengthAdjust="spacingAndGlyphs">0</text>
<line x1="800.5" x2="800.5" y1="855.5" y2="860.36" stroke="#000" stroke-width="1.1"/>
<text x="800.50" y="875.12" text-anchor="middle" font-size="13.89" textLength="33.76" lengthAdjust="spacingAndGlyphs">2950</text>
<text y="623.3" font-size="17.7"><tspan x="742.4" textLength="23.2" lengthAdjust="spacingAndGlyphs">log</tspan><tspan x="775.6">[</tspan><tspan x="853.6">]</tspan></text>
<text y="624.3" font-size="16.67" font-style="italic"><tspan x="780.6" textLength="10.2" lengthAdjust="spacingAndGlyphs">χ</tspan><tspan x="819.2" textLength="10.2" lengthAdjust="spacingAndGlyphs">χ</tspan></text>
<text x="804.2" y="623.2" font-size="16.67" textLength="11.2" lengthAdjust="spacingAndGlyphs">−</text>
<text x="792.4" y="616.1" font-size="12.4" textLength="6.2" lengthAdjust="spacingAndGlyphs">2</text>
<text x="831.4" y="615.8" font-size="12.4" textLength="6.2" lengthAdjust="spacingAndGlyphs">2</text>
<text x="829.8" y="628.3" font-size="12.2" font-style="italic" textLength="22.6" lengthAdjust="spacingAndGlyphs">min</text>
</svg>
</body></html>
